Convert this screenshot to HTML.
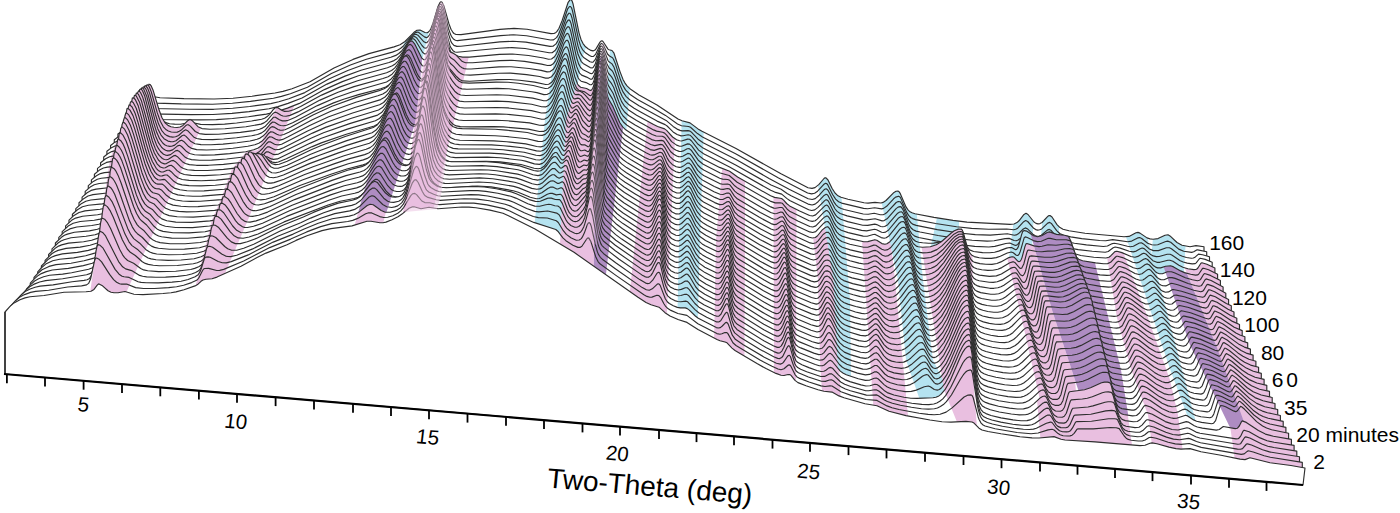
<!DOCTYPE html>
<html><head><meta charset="utf-8"><style>html,body{margin:0;padding:0;background:#fff;overflow:hidden}svg{display:block}text{font-family:"Liberation Sans",sans-serif}</style></head>
<body><svg width="1400" height="513" viewBox="0 0 1400 513">
<defs><path id="p37" d="M140,379.5L140,100 145,97.1 148,96.2 150,96 160,97.7 184,98.6 214,99 233,98.2 252,96.2 275,93 283,91.4 292,88.7 310,81.8 334,68 353,59.4 369,53.6 394,46.9 400,44.7 405,41.5 414,32.3 417,30.3 420,30 425,32.5 427,32.7 428,32.4 430,30.3 431,28.4 433,23.2 438,6.4 440,2.5 441,1.8 442,2.3 444,6.3 449,24 451,29.3 453,32.5 454,33.5 456,34.5 461,34.6 500,29.4 514,28.4 527,29.2 551,33.6 554,33.5 556,32.4 557,31.4 559,28.3 562,20.9 568,2.7 570,-0.2 571,-0.4 572,0.8 573,3.7 579,32.8 581,39.4 583,43.6 585,46.2 588,48.7 591,50.4 593,50.9 595,50 596,48.9 600,42.1 601,41.1 602,40.8 603,41.5 608,49.1 609,49.8 612,50.5 614,53.2 620,71.6 623,79.4 625,83.1 627,85.9 631,89.6 639,95 657,104.9 678,118.9 682,120.8 690,122.9 698,128.9 702,131.3 736,148.5 781,173.8 808,187.7 812,188.4 815,187.6 819,184.4 824,178.5 825,177.8 826,177.8 828,180 832,188.2 835,193 838,195.8 841,197.3 848,199.2 864,202.8 868,203.1 875,202.4 881,203 883,202.4 886,200.5 894,192.4 896,191.3 898,191.1 899,191.7 900,193.1 906,206.9 908,209.9 910,211.8 912,212.8 915,213.7 934,217.4 953,220.4 967,222.1 1010,224.4 1014,224 1017,222.6 1019,220.8 1024,214.4 1026,213.3 1028,214.5 1034,222 1036,223.4 1038,223.9 1040,223.6 1042,222.5 1048,216.2 1049,215.6 1050,215.5 1052,217 1057,224.6 1060,227.6 1063,229.3 1069,230.8 1085,233.3 1124,236.8 1129,236.4 1136,232.8 1138,232.4 1140,233.1 1147,237.9 1150,238.9 1153,239.2 1158,238.6 1165,235.2 1168,234.8 1170,235.9 1177,242.5 1182,245.2 1190,246.7 1196,245.6 1204,246.8L1204,470.5Z"/><clipPath id="c37"><use href="#p37"/></clipPath><path id="p36" d="M136.3,379.2L136.3,105.7 141.3,102.8 144.3,101.8 146.3,101.5 156.3,103.1 181.3,103.9 212.4,104.2 232.4,103.3 250.4,101.4 273.4,98.2 281.4,96.4 290.4,93.7 307.4,87.2 331.4,73.5 350.4,65 366.4,59.2 392.4,52.1 397.4,50.2 400.4,48.5 403.4,46 412.4,35 415.4,32.6 417.4,32.1 418.4,32.3 424.4,36.9 426.4,37.6 427.4,37.3 429.4,35.2 431.4,30.8 437.4,9.4 439.4,4.9 440.4,4.1 441.4,4.5 443.4,8.7 448.4,28.2 450.4,34.1 451.4,36.3 453.4,39 455.4,40.2 457.4,40.6 500.5,35.6 513.5,34.8 526.5,35.7 550.5,40 553.5,39.9 556.5,37.6 558.5,34.5 561.5,27 567.5,9.2 569.5,6.5 570.5,6.5 571.5,7.8 572.5,10.9 578.5,39.4 580.5,45.7 582.5,49.6 585.5,52.8 589.5,55.5 591.5,56.5 593.5,56.4 595.5,54.4 600.5,44.1 601.5,43.4 602.5,43.9 603.5,45.3 607.5,54 609.5,56 612.5,57.7 613.5,59.2 615.5,64.1 620.5,79.8 622.5,84.7 625.5,89.9 630.5,94.8 637.5,99.5 652.5,107.7 665.5,115.4 677.5,124 681.5,125.7 688.5,126.5 690.5,127.3 697.5,133.6 702.5,137 735.6,153.8 778.6,178 807.6,193 811.6,193.9 814.6,193.3 817.6,191.2 823.6,184.6 825.6,183.3 826.6,183.5 827.6,184.6 832.6,194.5 835.6,199.1 838.6,201.7 841.6,203.1 863.6,208.4 867.6,208.7 874.6,207.8 881.6,208.9 883.6,208.4 886.6,206.3 893.6,198.8 895.6,197.1 898.6,196.2 899.6,196.7 900.6,197.9 906.6,212.1 908.6,215.4 910.6,217.5 912.6,218.6 915.6,219.6 935.6,223.5 956.6,226.7 971.6,228.4 988.6,229.3 1006.7,229 1013.7,229.8 1015.7,229.3 1017.7,228.2 1023.7,221.7 1025.7,220.6 1027.7,221.5 1033.7,228.3 1035.7,229.6 1037.7,230.1 1039.7,229.8 1041.7,228.9 1047.7,223.1 1049.7,222.4 1051.7,223.8 1056.7,230.6 1059.7,233.5 1063.7,235.3 1070.7,236.9 1081.7,238.6 1099.7,240.5 1105.7,240.7 1112.7,239.6 1127.7,241.7 1131.7,241.1 1137.7,237.9 1139.7,237.6 1141.7,238.5 1147.7,243.2 1151.7,244.7 1154.7,245 1157.7,244.7 1165.7,241.5 1167.7,241.1 1170.7,242.3 1178.7,249.1 1183.7,251.3 1191.7,252.4 1193.7,251.8 1196.7,249.9 1197.7,249.9 1206.7,251.7L1206.7,470.8Z"/><clipPath id="c36"><use href="#p36"/></clipPath><path id="p35" d="M132.6,378.9L132.6,111.5 137.7,108.4 142.7,107.1 152.7,108.5 189.7,109.3 213.7,109.3 232.7,108.3 249.7,106.5 270.8,103.6 278.8,101.8 288.8,98.7 304.8,92.6 328.8,79 347.8,70.5 362.8,65 390.8,57.3 395.8,55.4 398.8,53.5 401.9,50.7 404.9,46.9 410.9,37.9 412.9,35.6 414.9,34.4 415.9,34.3 417.9,35.2 423.9,41.8 425.9,42.7 426.9,42.6 428.9,40.5 430.9,35.8 436.9,12.6 438.9,7.5 439.9,6.5 440.9,6.8 442.9,11.1 447.9,32.3 450.9,41.4 451.9,43.2 453.9,45.4 456.9,46.4 460.9,46.3 499.9,41.9 512.9,41.2 525.9,42.1 550,46.4 553,46.2 556,43.9 558,40.6 560,36 567,15.7 569,13.2 570,13.3 571,14.9 572,18 578,46.1 580,52.1 582,55.7 584,57.8 590,61.7 592,62.3 593,62.1 595,59.9 596,57.8 600,47.2 601,46.1 602,46.3 603,47.7 608,60.5 609,61.8 612,63.9 614,67.2 620,85.1 623,91.9 626,96.4 630,100 639,105.8 666.1,120.4 673.1,126.4 677.1,129.1 680.1,130.4 682.1,130.9 688.1,130.6 690.1,131.1 692.1,132.8 698.1,139.2 703.1,142.7 736.1,159.6 769.1,178.4 789.1,189.2 808.2,198.7 812.2,199.5 815.2,198.6 819.2,195.2 824.2,189.7 825.2,189 826.2,188.8 827.2,189.4 828.2,190.6 834.2,202.4 836.2,205.1 838.2,206.9 841.2,208.5 844.2,209.5 863.2,214 868.2,214.2 874.2,213.3 880.2,214.7 883.2,214.7 885.2,213.8 887.2,212.2 896.2,202.5 898.2,201.5 900.2,201.7 902.2,204.6 908.2,219.2 911.2,223.1 913.2,224.4 916.2,225.4 937.3,229.6 959.3,233 975.3,234.6 990.3,235.1 1007.3,233.7 1014.3,235.2 1016.3,234.9 1018.3,233.8 1023.3,229 1025.3,227.9 1027.3,228.7 1033.3,234.6 1035.3,235.8 1037.3,236.3 1039.3,236.1 1041.3,235.2 1047.3,230.1 1049.3,229.4 1051.3,230.6 1056.3,236.7 1060.3,239.9 1064.4,241.3 1074.4,243.2 1086.4,244.9 1103.4,246.5 1107.4,246 1112.4,243.6 1114.4,243.3 1118.4,244 1127.4,246.3 1130.4,246.7 1133.4,246.3 1139.4,243 1141.4,242.8 1143.4,243.9 1149.4,249 1153.4,250.6 1158.4,250.6 1166.4,247.8 1169.4,247.7 1171.4,248.7 1179.4,254.9 1182.4,256.3 1186.4,257.5 1191.4,258.2 1193.4,258 1195.4,256.9 1198.5,254.1 1202.5,254.7 1209.5,256.8L1209.5,471Z"/><clipPath id="c35"><use href="#p35"/></clipPath><path id="p34" d="M129,378.6L129,117.2 134,114.1 139,112.6 150,113.9 191,114.6 213,114.5 232,113.4 249,111.6 269,108.8 278,106.6 288,103.4 302,98 327,84.1 345,76.1 361,70.3 389,62.5 394,60.6 397,58.7 400,55.7 403,51.6 410,39.8 413,36.8 415,36.6 417,38.2 422,45.5 424,47.7 426,48.2 427,47.6 429,44.4 431,38.5 437,13.4 439,9.2 440,8.9 441,10 443,16.2 447,35.1 450,45.7 451,47.9 453,50.7 455,52 457,52.3 499,48.2 512,47.6 525.1,48.5 549.1,52.8 552.1,52.7 555.1,50.5 557.1,47.6 560.1,40.5 566.1,23.1 568.1,20.2 569.1,19.9 570.1,21 571.1,23.6 576.1,47 578.1,54.6 581.1,61.3 583.1,63.4 590.1,67.6 592.1,68 593.1,67.5 595.1,64.4 600.1,49.5 601.1,48.6 602.1,49.2 603.1,51.2 607.1,64.3 609.1,68 612.1,70.7 613.1,72.2 615.1,77 620.1,91.8 622.1,96.3 625.1,101 629.1,104.8 634.1,108.3 641.1,112.3 657.1,121.1 665.1,124.6 667.1,126 673.1,131.9 677.1,134.5 681.1,135.9 683.1,135.8 688.1,134.7 690.1,135.2 692.1,137.1 698.1,144.3 703.1,148.1 736.1,165.2 771.1,185 781.1,189.3 787.1,193.5 791.1,195.8 808.1,204.1 812.1,205 815.1,204.1 818.1,201.7 824.1,195.4 826.1,194.3 827.1,194.6 828.1,195.7 835.1,209 837.1,211.4 840.1,213.5 847.1,215.9 863.1,219.6 867.1,219.9 875.1,218.8 882.1,220.9 884.1,220.6 887.1,218.8 896.1,208.6 898.1,207.1 900.1,206.6 901.1,206.9 903.1,209.9 909.1,225.1 911.1,228 913.1,229.8 916.1,231.1 920.1,232 938.1,235.5 956.1,238.4 972.1,240.3 987.1,241.1 994.1,240.7 1005.1,238.6 1009.1,238.4 1014.1,240.5 1016.2,240.7 1018.2,240 1023.2,236.1 1025.2,235.2 1027.2,235.9 1032.2,240.4 1034.2,241.7 1036.2,242.4 1038.2,242.5 1041.2,241.6 1047.2,237.1 1049.2,236.5 1051.2,237.6 1056.2,242.9 1060.2,245.7 1065.2,247.3 1078.2,249.6 1092.2,251.3 1105.2,252.2 1108.2,251.5 1113.2,247.8 1115.2,247 1120.2,248.1 1129.2,251.3 1133.2,251.9 1136.2,251.1 1140.2,248.7 1142.2,248 1144.2,248.6 1150.2,254.2 1153.2,255.9 1156.2,256.6 1159.2,256.5 1167.2,254.2 1170.2,254.2 1172.2,255.2 1180.2,260.7 1183.2,262 1187.2,263.1 1192.2,263.9 1195.2,263.6 1196.2,262.9 1199.2,259 1200.2,258.3 1205.2,259.4 1212.2,262.2L1212.2,471.2Z"/><clipPath id="c34"><use href="#p34"/></clipPath><path id="p33" d="M125.3,378.3L125.3,122.9 131.3,119.2 133.3,118.5 136.3,118.1 145.3,119.2 153.3,119.5 199.3,119.9 216.3,119.6 232.4,118.5 248.4,116.7 266.4,114.1 275.4,112 287.4,108.1 299.4,103.4 324.4,89.6 342.4,81.6 358.4,75.8 387.4,67.7 392.4,65.8 395.5,63.7 398.5,60.6 401.5,56 408.5,42.6 410.5,40 412.5,38.7 413.5,38.8 415.5,40.5 422.5,52.3 424.5,53.9 425.5,53.9 426.5,53.3 428.5,49.9 430.5,43.6 436.5,16.5 438.5,11.7 439.5,11.2 440.5,12.2 441.5,14.7 447.5,42.6 450.5,51.4 451.5,52.9 453.5,54.6 458.5,56.2 462.5,57.1 469.5,57.1 499.5,54.4 512.5,54 528.5,55.5 543.5,58 548.5,59.2 551.5,59 554.5,56.8 556.5,53.7 559.5,46.7 565.5,29.6 567.5,26.9 568.6,26.7 569.6,27.9 570.6,30.7 576.6,57.8 578.6,63.9 580.6,67.5 582.6,69.4 589.6,73.1 591.6,73.7 592.6,73.3 594.6,70.1 595.6,67.2 599.6,52.8 600.6,51.3 601.6,51.5 603.6,56.5 607.6,71.4 608.6,73.5 611.6,76.9 613.6,80.2 618.6,94.4 621.6,101.6 624.6,106.2 628.6,109.9 636.6,115.2 653.6,124.6 657.6,126.5 664.6,128.9 666.6,130.4 672.6,137 676.6,139.7 679.6,140.8 681.6,141 687.6,139.1 689.6,139.3 691.6,141 698.6,150.1 703.6,153.8 729.6,166.9 770.7,190.3 774.7,192.1 781.7,194.1 786.7,198.4 789.7,200.5 808.7,209.8 811.7,210.5 814.7,209.9 817.7,207.6 824.7,200.6 825.7,199.9 826.7,199.8 827.7,200.4 828.7,201.7 833.7,211.9 835.7,215.1 837.7,217.3 840.7,219.3 847.7,221.6 862.7,225.2 867.7,225.4 874.7,224.1 876.7,224.6 880.7,226.5 882.7,226.8 884.7,226.5 887.7,224.7 897.7,213.2 899.7,212 901.7,211.9 902.7,212.9 903.7,214.7 909.7,230.3 911.7,233.6 914.7,236.1 918.7,237.5 935.8,240.9 956.8,244.3 974.8,246.4 988.8,247 994.8,246.4 1005.8,243.5 1009.8,243 1014.8,245.3 1015.8,245.4 1017.8,244.4 1021.8,238.9 1024.8,237.4 1026.8,237.9 1032.8,242.4 1036.8,243.8 1038.8,243.7 1040.8,243 1046.8,239 1048.8,238.4 1050.8,239.1 1055.8,243.1 1058.8,244.9 1067.8,247.7 1072.8,252.4 1074.8,253.7 1080.8,255.5 1093.8,257.2 1105.9,258 1108.9,257.2 1110.9,255.7 1114.9,251.6 1116.9,251.2 1121.9,252.6 1130.9,256.5 1134.9,257.2 1137.9,256.4 1141.9,253.9 1143.9,253.2 1145.9,254 1152.9,260.7 1156.9,262.3 1159.9,262.3 1167.9,260.3 1169.9,260.2 1172.9,261.3 1178.9,265.2 1182.9,267.2 1187.9,268.7 1193.9,269.6 1195.9,269.5 1196.9,269 1197.9,268 1200.9,263.3 1201.9,262.8 1206.9,264.2 1214.9,267.9L1214.9,471.5Z"/><clipPath id="c33"><use href="#p33"/></clipPath><path id="p32" d="M121.6,378L121.6,128.5 126.6,125.2 130.6,123.7 133.6,123.4 141.6,123.9 144.6,123 146.6,120.9 149.6,115.3 150.6,114 151.6,113.6 153.6,114.1 155.6,115.2 163.6,121.6 166.6,122.9 169.6,123.7 174.6,124.1 180.6,124.2 190.6,122.2 200.6,124.4 212.6,124.6 224.6,124.1 236.6,123 251.6,121 261.6,119.2 264.6,118.2 267.6,116.2 269.6,114.3 273.6,109.2 275.6,107.5 277.6,107.6 281.6,110.3 284.6,111.4 288.6,111.3 293.6,109.8 300.6,106.6 321.6,95.1 339.6,87.1 357.6,80.8 386.6,72.7 391.6,70.5 394.6,68.1 397.6,64.3 400.6,59 406.6,46.1 408.6,42.8 410.6,41.1 411.6,40.9 412.6,41.3 414.6,43.8 421.6,57.8 423.6,59.7 424.6,59.8 425.6,59.3 427.6,56.1 428.6,53.4 430.6,45.6 435.6,20.7 437.6,14.6 438.6,13.4 439.6,13.8 441.6,19.1 446.6,42.9 447.6,46.5 449.6,51 450.6,52.1 453.6,53.4 455.6,54.7 461.6,60.9 463.6,62 465.6,62.7 472.6,62.8 499.6,60.6 511.6,60.3 524.6,61.4 541.6,64.1 547.6,65.5 550.6,65.4 553.6,63.4 555.6,60.6 558.6,53.9 564.6,36.9 566.6,33.8 567.6,33.4 568.6,34.1 570.6,40 574.6,58.8 576.6,66.4 578.6,71.4 579.6,73.1 581.6,75.1 586.6,77.1 590.6,79.2 591.6,79.2 592.6,78.5 594.6,74.2 599.6,54.9 600.6,53.6 601.6,54.4 603.6,60.9 606.6,74.4 608.6,79.9 611.6,83.7 613.6,87.3 618.6,101.2 621.6,107.8 624.6,112 628.6,115.5 636.6,120.6 653.6,129.9 656.6,131.1 662.6,132.3 664.6,133.1 666.6,135.1 671.6,141.6 676.6,145.1 679.6,146.2 681.6,146.2 687.6,143.9 689.6,144.1 691.6,145.9 698.6,155.4 703.6,159.2 719.6,167.4 729.6,171.3 737.6,177 770.6,195.8 774.6,197.4 781.6,198.5 783.6,200.1 786.6,203.5 789.6,205.9 799.6,211 809.6,215.5 812.6,216 815.6,214.9 824.6,206.1 826.6,205.1 827.6,205.6 828.6,206.7 835.6,220.1 837.6,222.5 840.6,224.7 846.6,226.8 861.6,230.4 866.6,230.9 874.6,229.3 876.6,229.8 881.6,232.2 883.6,232.5 885.6,232.1 888.6,230 898.6,217.9 900.6,216.7 902.6,216.6 903.6,217.6 904.6,219.4 910.6,235.4 912.6,238.7 915.6,241.2 918.6,242.2 922.6,242.8 928.6,243.2 933.6,243.1 940.6,241.9 953.6,237.8 957.6,237.3 960.6,237.5 962.6,239.4 966.6,246.5 969.6,249.9 973.6,251.5 982.6,252.6 989.6,252.7 994.6,252.2 998.6,251.1 1006.6,248.1 1009.6,247.5 1011.6,247.6 1015.6,249.7 1016.6,249.4 1017.6,248.2 1018.6,245.9 1021.6,234.6 1022.6,231.7 1023.6,230.8 1024.6,230.6 1026.6,231.1 1033.6,235.7 1037.6,236.7 1041.6,235.8 1047.6,232.2 1049.6,231.9 1056.6,234.4 1064.6,235.3 1068.6,236.5 1070.6,240.5 1073.6,250.4 1075.6,255.4 1076.6,257.1 1078.6,259.2 1082.6,260.8 1095.6,262.9 1103.6,263.7 1107.6,263.6 1110.6,262.3 1115.6,257 1116.6,256.3 1117.6,256.2 1122.6,257.6 1132.6,262.3 1136.6,262.9 1138.6,262.4 1143.6,259.2 1145.6,258.6 1147.6,259.5 1153.6,265.8 1155.6,267.1 1157.6,267.9 1160.6,267.9 1165.6,266.3 1170.6,265.8 1173.6,266.9 1180.6,270.9 1184.6,272.6 1190.6,274.3 1195.6,275.1 1197.6,274.9 1198.6,274.3 1202.6,268.4 1203.6,268.2 1208.6,269.8 1217.6,274.2L1217.6,471.7Z"/><clipPath id="c32"><use href="#p32"/></clipPath><path id="p31" d="M117.9,377.7L117.9,134 121.9,131.1 125.9,129.1 129,128.4 138,127.8 140,126.8 141,125.7 143,120.7 144,115.9 147,92.9 148,86.7 149,84.2 150,84.5 151,85.6 153,89.9 159,109.8 162,117.7 165,122.7 168,125.4 171,126.7 174,127.3 177,127.5 180,127 183,125.4 188,120.4 190,119.4 192,120.4 198,126.7 202,128.6 210,129.3 225,128.8 246,126.7 261,124.1 264,122.9 267,120.7 273,113.5 275,112.1 277,112.7 281,115.3 283,116 286,116.2 290,115.4 298,111.9 320,100.1 338,92.2 354,86.6 383,78.5 388.1,76.7 392.1,74.2 396.1,69.5 399.1,64 406.1,48.4 408.1,45.5 409.1,44.7 410.1,44.4 411.1,44.8 412.1,45.8 414.1,49.2 420.1,62.7 422.1,65.4 423.1,66 424.1,66 425.1,65.4 426.1,64 428.1,59 430.1,50.8 435.1,24.2 437.1,17.4 438.1,15.9 439.1,16.1 440.1,18 441.1,21.4 446.1,46.7 447.1,50.7 449.1,55.8 451.1,58.1 454.1,59.9 460.1,66.4 462.1,67.8 464.1,68.6 467.1,69 471.1,69 499.1,66.9 511.1,66.7 529.1,68.5 541.1,70.4 547.1,71.9 550.1,71.6 553.1,69.6 555.1,66.7 558.1,60 564.1,43.3 566.1,40.5 567.1,40.2 568.1,41 569.1,43.4 575.1,69.5 578.1,77.7 579.1,79.3 581.1,81.2 586.1,82.6 590.1,84.7 591.1,84.8 592.1,84.2 593.1,82.7 594.1,80.1 599.1,58.3 600.1,56.3 601.1,56.5 602.1,58.8 603.1,62.9 606.1,78.2 608.1,85.1 613.1,93.2 618.1,106.4 621.1,113 623.1,116 627.1,119.9 635.1,125.1 652.2,134.5 656.2,136 662.2,136.3 664.2,137.1 665.2,138 671.2,146.7 673.2,148.4 676.2,150.3 679.2,151.4 681.2,151.5 683.2,150.9 687.2,148.8 689.2,148.6 691.2,150.2 698.2,160.2 703.2,164.3 720.2,173 729.2,175.5 737.2,182.2 770.2,201.1 775.2,202.9 780.2,202.7 782.2,203.2 787.2,209.2 790.2,211.6 809.2,220.8 812.2,221.4 815.2,220.7 817.2,219.1 824.2,211.9 826.2,210.6 827.2,210.6 829.2,212.6 834.2,222.9 836.2,226.1 838.2,228.3 841.2,230.3 848.2,232.6 863.2,236.1 867.2,236.2 873.2,234.5 875.2,234.4 881.2,237.6 884.2,238.2 886.2,237.8 889.2,235.7 899.3,223.2 901.3,221.7 903.3,221.5 904.3,222.2 905.3,223.9 910.3,237.7 913.3,243.5 916.3,246.1 918.3,246.8 922.3,247.3 930.3,246.8 936.3,244.8 941.3,241.7 951.3,233 954.3,230.8 958.3,229.1 961.3,229 962.3,230.1 963.3,232.5 967.3,247.1 968.3,249.9 970.3,253.7 972.3,255.6 974.3,256.6 979.3,257.7 985.3,258.4 991.3,258.4 996.3,257.6 1000.3,256.2 1007.3,253 1011.3,252 1013.3,252.7 1016.3,255.2 1017.3,255.5 1018.3,255.1 1019.3,253.8 1020.3,251.4 1024.3,237.4 1025.3,236.9 1027.3,237.5 1033.3,240.6 1037.3,241.6 1041.3,241.2 1048.3,238.3 1050.3,238.4 1056.3,239.7 1066.3,239.8 1070.3,240.9 1071.3,242.6 1076.3,258.8 1078.3,262.9 1080.3,265.1 1084.3,266.7 1096.3,268.7 1104.3,269.5 1108.3,269.5 1111.3,268.3 1113.3,266.4 1116.3,262.6 1118.3,261.3 1122.3,262.2 1133.3,267.7 1137.3,268.7 1140.3,268.1 1145.3,264.5 1147.3,263.9 1149.4,265 1155.4,271.7 1157.4,273 1159.4,273.8 1162.4,273.7 1167.4,271.8 1171.4,271.7 1174.4,272.7 1185.4,277.8 1192.4,279.8 1197.4,280.7 1199.4,280.3 1200.4,279.6 1203.4,274.7 1204.4,273.6 1205.4,273.7 1210.4,275.4 1220.4,280.5L1220.4,471.9Z"/><clipPath id="c31"><use href="#p31"/></clipPath><path id="p30" d="M114.3,377.3L114.3,139.7 118.3,136.8 122.3,134.7 125.3,134 132.3,133.7 135.3,133.2 137.3,132.2 139.3,129.8 141.3,122.8 142.3,116.3 145.3,90.6 146.3,85.5 147.3,84.8 148.3,85.5 149.3,87 151.3,91.9 157.3,112.9 160.3,121.3 163.3,126.8 166.3,129.8 168.3,131 171.3,132 174.3,132.3 177.3,132.1 179.3,131.3 181.3,130.1 186.3,125.2 187.3,124.7 188.3,124.7 190.3,126.1 195.3,131.5 199.3,133.6 205.3,134.4 218.3,134.3 240.4,132.4 253.4,130.6 259.4,129.3 262.4,128.1 265.4,126.2 273.4,117.3 275.4,117.2 279.4,119.8 282.4,120.9 285.4,120.9 288.4,120.3 295.4,117.3 317.4,105.6 335.4,97.7 352.5,91.8 386.5,82 390.5,79.6 394.5,75.1 397.5,69.7 404.5,54 406.5,50.9 408.5,49.7 409.5,49.9 411.5,52.2 419.5,69.8 421.5,72.1 422.5,72.6 423.5,72.4 425.5,70.2 427.5,64.8 429.5,56.1 435.5,23.4 436.5,20.2 437.5,18.6 438.5,18.5 439.5,20.3 440.5,23.7 445.5,50.5 446.5,54.8 448.5,60.7 450.5,63.5 453.5,66.1 458.5,71.8 460.5,73.4 463.5,74.7 470.5,75.1 498.6,73.2 510.6,73.1 526.6,74.6 539.6,76.5 545.6,78.1 548.6,78.1 551.6,76.7 554.6,72.9 557.6,66.2 563.6,49.8 565.6,47.1 566.6,46.9 567.6,47.9 568.6,50.5 574.6,76.2 577.6,84 578.6,85.5 580.6,87.2 586.6,88.5 589.6,90.2 590.6,90.4 591.6,89.9 592.6,88.5 593.6,86 598.6,62 599.6,59.2 600.6,58.7 601.6,60.6 602.6,64.6 606.6,86.4 608.6,92.6 612.6,99.1 618.7,114.1 620.7,118.2 623.7,122.3 626.7,125 634.7,130.3 651.7,139.6 655.7,140.8 661.7,140.4 663.7,141.1 670.7,151.8 673.7,154.3 676.7,156 678.7,156.6 680.7,156.8 682.7,156.2 687.7,153.4 689.7,153.7 691.7,155.9 697.7,165 700.7,168 703.7,170 719.7,178.2 722.7,179.1 727.7,179.5 729.7,180.3 734.7,185.8 737.7,188.1 770.8,206.9 773.8,208.1 775.8,208.3 779.8,207.5 781.8,207.5 782.8,208 786.8,213.8 789.8,216.8 797.8,221 809.8,226.5 812.8,227 815.8,225.9 822.8,218.6 824.8,216.9 826.8,215.9 827.8,216.2 829.8,218.7 833.8,227.1 836.8,232.1 838.8,234.2 841.8,236.1 850.8,238.9 863.8,241.7 867.8,241.6 874.8,239.7 876.8,240.3 881.9,243.6 884.9,244.2 886.9,243.8 889.9,241.7 892.9,238.4 899.9,229.2 901.9,227.6 903.9,227.2 904.9,227.7 905.9,229.1 910.9,242.8 913.9,248.8 915.9,251 917.9,252.1 922.9,252.9 926.9,252.8 930.9,252.1 936.9,249.6 941.9,245.9 953.9,234.2 957.9,231.9 960.9,231.5 961.9,231.7 962.9,233.3 967.9,252.7 968.9,255.6 970.9,259.5 972.9,261.5 974.9,262.4 979.9,263.6 985.9,264.3 991.9,264.4 996.9,263.5 1000.9,261.9 1008.9,257.6 1011.9,256.8 1012.9,256.8 1014,257.2 1018,261.3 1019,261.7 1020,261.3 1021,260 1022,257.6 1025,246.4 1026,243.9 1027,243.5 1034,245.9 1039,246.6 1042,246.3 1048,244.8 1056,245.2 1064,244.2 1068,244.2 1072,245.4 1073,247.3 1078,264.5 1080,268.7 1082,271 1086,272.6 1100,274.9 1107,275.4 1110,275.2 1113,273.5 1118,267.2 1119,266.5 1120,266.5 1125,268.1 1135,273.5 1139,274.5 1142,273.7 1147.1,269.9 1149.1,269.3 1151.1,270.6 1157.1,277.5 1159.1,278.9 1161.1,279.7 1164.1,279.7 1169.1,277.5 1172.1,277.6 1175.1,278.4 1188.1,283.5 1195.1,285.5 1199.1,286.2 1201.1,285.7 1202.1,284.8 1205.1,279.7 1206.1,278.9 1211.1,280.5 1223.1,286.9L1223.1,472.2Z"/><clipPath id="c30"><use href="#p30"/></clipPath><path id="p29" d="M110.6,377L110.6,145.5 114.6,142.4 118.6,140.3 122.6,139.4 131.6,138.9 134.6,137.9 136.6,136.2 138.6,131.2 139.6,126.1 143.6,90.9 144.6,86.1 145.6,85.7 147.6,88.1 149.6,93.2 155.6,115 158.6,124.1 161.6,130.3 164.6,134 166.6,135.4 169.6,136.6 172.6,137.1 175.6,136.8 178.6,135.5 183.6,130.9 185.6,129.8 187.6,130.7 193.6,136.9 196.6,138.5 201.6,139.4 212.6,139.6 223.6,139 236.6,137.8 251.6,135.8 257.6,134.5 261.6,132.9 264.6,130.8 270.6,123.7 272.6,122 274.6,122.2 278.6,124.7 280.6,125.5 283.6,125.8 286.6,125.2 292.6,122.7 315.6,110.7 333.6,102.9 343.6,99.3 358.6,94.6 380.7,88.8 385.7,87 389.7,84.4 393.7,79.5 396.7,73.8 402.7,60.1 404.7,56.7 406.7,55 407.7,54.9 408.7,55.5 410.7,58.4 416.7,72.7 418.7,76.4 420.7,78.7 421.7,79.1 422.7,79 424.7,76.8 425.7,74.6 427.7,67.7 434.7,28 436.7,21.6 437.7,20.8 438.7,21.8 439.7,24.8 444.7,52.6 447.7,64.7 449.7,68.5 456.7,76.8 459.7,79.5 462.7,80.9 469.7,81.3 497.7,79.6 509.7,79.5 519.7,80.2 534.7,82.1 545.7,84.5 548.7,84.2 551.7,82.3 553.7,79.7 556.7,73.3 562.7,57.1 564.7,54.1 565.7,53.6 566.7,54.2 567.7,56.2 573.7,80.9 574.7,84 576.7,88.2 578.7,90.2 584.7,91.9 589.7,95.5 590.7,95.6 591.7,94.9 592.7,93.1 593.7,89.9 598.7,63.6 599.7,61.3 600.7,61.5 601.7,64.2 602.7,69.1 605.7,87.8 607.7,96.6 608.7,99.2 612.7,106.1 619.7,122.5 622.7,126.9 625.7,129.8 633.7,135.1 650.7,144.5 654.7,145.6 660.7,144.4 662.7,144.8 664.7,147.3 669.7,156.3 672.7,159.2 675.7,161 678.7,162 680.7,162 682.7,161.3 687.7,158.2 688.7,158.1 689.7,158.5 691.7,160.9 697.7,170.4 700.7,173.4 703.7,175.5 719.7,183.6 722.7,184.3 727.7,184 729.7,184.7 734.7,191.1 737.7,193.6 760.7,207 770.7,212.5 774.7,213.7 776.7,213.5 780.7,212 782.7,212.4 787.7,220.2 789.7,222.2 796.7,226 809.7,231.9 812.7,232.5 815.7,231.6 823.8,223.2 825.8,221.8 827.8,221.5 829.8,223.6 834.8,234 836.8,237.3 838.8,239.5 841.8,241.5 849.8,244.2 863.8,247.3 867.8,247.2 873.8,245.1 875.8,245.2 881.8,249.2 884.8,250.2 887.8,249.6 890.8,247.5 900.8,234.9 902.8,233.4 904.8,232.9 905.8,233.5 906.8,234.9 911.8,248.6 914.8,254.6 916.8,256.7 918.8,257.8 923.8,258.4 930.8,257.5 936.8,254.8 942.8,249.8 951.8,239.6 954.8,236.7 958.8,234.3 961.8,234 962.8,234.9 963.8,237.6 968.8,259.2 969.8,262.1 971.8,265.7 973.8,267.5 976.8,268.7 981.8,269.7 987.8,270.4 992.8,270.3 997.8,269.3 1001.8,267.6 1009.8,262.8 1012.8,261.9 1013.8,261.9 1014.8,262.4 1019.8,268.2 1020.8,268.4 1021.8,267.9 1023.8,264 1026.8,252.6 1027.8,250.3 1028.8,250 1036.8,251.5 1041.8,251.7 1047.8,251.1 1054.8,251 1064.8,248.8 1069.8,248.6 1072.8,249.3 1073.8,250.1 1074.8,252.4 1078.8,267.4 1080.8,273 1082.8,276.1 1084.8,277.6 1086.8,278.3 1099.8,280.6 1107.8,281.3 1110.8,281.1 1113.8,279.5 1118.8,272.7 1119.8,271.8 1120.8,271.6 1125.8,273.2 1135.8,279 1139.8,280.3 1142.8,280 1144.8,278.8 1148.8,275.6 1150.8,275.2 1152.8,276.6 1158.8,283.6 1160.8,285 1162.8,285.8 1165.8,285.9 1170.8,283.4 1172.8,283.5 1177.8,284.8 1193.8,290.2 1200.8,291.8 1202.8,291.1 1203.8,290 1206.8,284.8 1207.8,284.4 1212.8,286.1 1225.8,293.2L1225.8,472.4Z"/><clipPath id="c29"><use href="#p29"/></clipPath><path id="p28" d="M106.9,376.7L106.9,151.2 110.9,148.1 114.9,146 118.9,145 125.9,144.8 129.9,144.1 132.9,143.1 134.9,141.3 136.9,136 137.9,130.7 141.9,92.7 142.9,87.3 143.9,86.8 145.9,89.1 147.9,94.1 154.9,119.9 157.9,128.9 161,135.1 164,138.7 168,141.1 171,141.8 173,141.7 176,140.7 182,135.7 184,135 186,136.4 191,141.6 195,143.7 201,144.6 211,144.7 223,144.1 237,142.7 250,141 257,139.3 260,138.1 263,136.1 266,133.1 270,128 272,126.6 274,127.1 278,129.5 280,130.1 282,130.3 285,129.7 291,127 313,115 332,106.2 357.1,97.1 379.1,90.6 384.1,88.8 388.1,86.2 392.1,81.3 395.1,75.6 402.1,59.7 404.1,56.9 405.1,56.1 406.1,55.9 407.1,56.4 409.1,59.1 415.1,73.5 418.1,79 420.1,80.8 421.1,81.1 422.1,80.8 424.1,78.3 425.1,76 427.1,68.8 434.1,26.9 436.1,19.7 437.1,18.6 438.1,19.5 439.1,22.3 445.1,56.8 446.1,61.2 448.1,67.3 450.1,70.7 456.1,78.6 459.1,81.3 462.1,82.6 469.1,83.1 496.1,82.1 508.2,82.3 518.2,83.3 533.2,85.5 545.2,88.5 548.2,88.2 551.2,86.3 553.2,83.7 556.2,77.4 562.2,61.7 564.2,58.9 565.2,58.6 566.2,59.3 567.2,61.5 572.2,81.7 574.2,87.6 575.2,89.3 577.2,90.9 580.2,91.3 582.2,92.4 585.2,95.1 589.2,99.7 590.2,100.1 591.2,99.7 592.2,98.1 593.2,95.1 598.2,66.8 599.2,63.5 600.2,62.9 601.2,65.2 602.2,70 606.2,96.3 608.2,104.1 613.2,113.7 619.2,127.5 622.2,131.9 625.2,134.8 634.2,140.8 650.2,149.6 654.2,150.4 660.2,148.4 662.2,148.8 664.2,151.6 667.2,158.1 669.2,161.4 672.2,164.4 676.2,166.7 679.2,167.4 681.3,167.1 683.3,166.1 687.3,163.1 689.3,163.1 691.3,165.1 696.3,173.6 698.3,176.4 700.3,178.4 703.3,180.6 714.3,186.5 720.3,189.1 723.3,189.4 727.3,188.5 729.3,188.9 730.3,189.8 734.3,195.9 737.3,198.8 760.3,212.4 771.3,218.3 773.3,219 775.3,219.2 777.3,218.7 780.3,217 782.3,216.7 783.3,217.4 784.3,219 787.3,224.7 790.3,228 797.3,231.8 809.3,237.2 812.3,238 815.3,237.5 817.3,236 822.3,229.9 825.3,227.5 827.3,226.7 828.3,227.1 830.3,229.7 834.3,238.3 837.3,243.3 839.3,245.4 842.3,247.3 850.3,249.9 863.4,252.9 867.4,252.8 873.4,250.6 875.4,250.4 877.4,251.3 882.4,255.2 885.4,256.2 888.4,255.6 891.4,253.6 894.4,250.3 901.4,241 903.4,239.3 905.4,238.7 906.4,239 908.4,242.3 912.4,253.6 915.4,259.9 918.4,262.9 920.4,263.6 923.4,264 927.4,263.7 930.4,263 933.4,261.9 936.4,260.2 942.4,254.9 952.4,242.4 955.4,239.3 959.4,236.8 962.4,236.6 963.4,238.2 964.4,241.5 968.4,261.2 970.4,268 971.4,270.1 973.4,272.6 975.4,273.8 979.4,275.1 989.4,276.4 996.4,275.9 1001.4,274 1010.4,268.4 1012.4,267.6 1014.4,267.3 1015.4,267.7 1016.4,268.8 1020.4,274.7 1022.4,275.8 1023.4,275.3 1024.4,273.8 1025.5,271.2 1028.5,259 1029.5,256.4 1031.5,255.9 1044.5,257.3 1051.5,257.2 1056.5,256.3 1066.5,253.3 1071.5,253 1074.5,253.7 1075.5,254.6 1077.5,260.7 1080.5,273.1 1082.5,278.8 1084.5,282 1086.5,283.5 1088.5,284.2 1100.5,286.4 1108.5,287.1 1111.5,287 1113.5,286.3 1115.5,284.5 1120.5,277.3 1121.5,276.8 1122.5,276.9 1126.5,278.2 1137.5,284.9 1141.5,286.3 1144.5,285.9 1150.5,281.5 1152.5,281.2 1154.5,282.7 1160.5,289.7 1162.5,291.1 1165.5,292.2 1168.5,291.9 1172.5,289.6 1173.5,289.5 1181.5,291.2 1197.5,296.2 1202.6,297.3 1204.6,296.4 1208.6,289.9 1209.6,289.8 1214.6,291.7 1223.6,297 1228.6,299.5L1228.6,472.6Z"/><clipPath id="c28"><use href="#p28"/></clipPath><path id="p27" d="M103.7,376.4L103.7,157 107.7,153.8 111.7,151.6 115.7,150.6 123.7,150.2 128.7,149.3 131.7,148 133.7,145.6 135.7,138.7 136.7,131.9 139.7,100 140.7,91.3 141.7,87.8 142.7,88 143.7,89.1 146.7,96.2 153.7,122.9 156.7,132.3 159.7,138.9 162.7,143 164.7,144.7 166.7,145.7 169.7,146.4 171.7,146.3 174.7,145.1 179.7,140.9 181.7,140.2 183.7,141.4 188.7,146.6 191.7,148.4 196.7,149.6 206.7,150 218.8,149.5 232.8,148.3 247.8,146.3 254.8,144.7 258.8,143.2 261.8,141.3 264.8,138.3 268.8,133.2 270.8,131.7 272.8,132 276.8,134.3 278.8,135 280.8,135.2 283.8,134.5 288.8,132.3 311.8,120 330.8,111.3 355.8,102.3 377.8,95.8 382.8,94 386.8,91.4 390.8,86.4 393.8,80.7 399.8,66.7 401.8,63.2 403.9,61.3 404.9,61.2 405.9,61.7 407.9,64.6 413.9,79.4 416.9,85 418.9,87 420.9,87.3 422.9,85.4 423.9,83.4 425.9,77 427.9,67.1 433.9,28.8 434.9,24.9 435.9,22.6 436.9,22.1 437.9,23.7 438.9,27.3 443.9,58.2 446.9,71.2 448.9,75.6 452.9,81.7 455.9,85.4 458.9,87.8 461.9,88.9 466.9,89.3 496.9,88.4 508.9,88.7 531.9,91.7 536.9,92.6 543.9,94.6 546.9,94.5 549.9,93.1 552.9,89.3 554.9,85.3 561.9,67.6 563.9,65.4 564.9,65.4 565.9,66.6 566.9,69.2 571.9,88.6 573.9,93.1 574.9,94.2 575.9,94.6 578.9,94.4 580.9,95.4 588,103.9 590,105.5 591,105 592,103.4 593,100.4 598,70.7 599,67.2 600,66.5 601,68.8 602,73.7 606,101.4 608,109.9 613,119.8 619,132.9 622,137.2 625,140 635,146.5 646,152.8 650,154.7 652,155.1 654,154.9 660,152.2 662,152.9 663,154.3 667,163.4 669,166.7 672,169.6 676,171.8 679,172.6 681,172.3 683,171.2 687,168 689,167.6 691,169.6 698,181.3 700,183.5 703,185.8 714,191.7 720,194.3 723,194.5 727,193 729,193.1 730,193.9 734,200.8 737,204 759,217.1 771,223.6 774.1,224.6 776.1,224.4 781.1,221.3 782.1,221.1 783.1,221.5 784.1,222.8 788.1,230.8 790.1,233.1 796.1,236.6 810.1,242.9 813.1,243.5 816.1,242.7 818.1,240.8 823.1,234.5 826.1,232.4 828.1,232.2 830.1,234.2 835.1,244.7 837.1,248.1 839.1,250.5 842.1,252.6 851.1,255.6 864.1,258.5 868.1,258.1 873.1,256 875.1,255.6 877.1,256.4 883.1,261.2 886.1,262.1 889.1,261.5 892.1,259.5 895.1,256.2 902.1,246.8 905.1,244.6 907.1,244.6 909.1,247.7 914.1,261.5 916.1,265.4 919.1,268.4 921.1,269.2 924.1,269.5 928.1,269 931.1,268.2 934.1,266.9 937.1,264.9 943.1,258.8 955.1,242.8 959.2,239.7 962.2,239 963.2,239.5 964.2,242 969.2,267.6 971.2,274.2 972.2,276.2 974.2,278.6 976.2,279.7 979.2,280.7 989.2,282.3 993.2,282.4 997.2,281.8 1002.2,279.9 1012.2,273.4 1015.2,272.7 1016.2,273 1017.2,274 1022.2,281.7 1023.2,282.4 1024.2,282.5 1025.2,281.8 1026.2,280 1027.2,277.1 1030.2,264.2 1031.2,261.5 1032.2,261 1034.2,261.1 1046.2,262.5 1052.2,262.5 1057.2,261.4 1068.2,257.7 1073.2,257.4 1076.2,258.2 1077.2,259.3 1078.2,262.1 1082.2,278.9 1084.2,284.7 1086.2,287.9 1088.2,289.4 1090.2,290.2 1103.2,292.4 1110.2,293 1113.2,292.6 1116.2,290.6 1121.2,282.9 1122.2,282 1123.2,282 1127.2,283.3 1138.2,290.3 1141.2,291.7 1143.2,292.2 1146.3,291.8 1152.3,287.5 1154.3,287.3 1156.3,288.9 1162.3,295.8 1164.3,297.2 1167.3,298.2 1170.3,298 1174.3,295.3 1176.3,295.1 1184.3,296.7 1200.3,302 1204.3,302.7 1206.3,301.6 1209.3,296.2 1210.3,295.1 1215.3,296.8 1226.3,303.4 1231.3,305.8L1231.3,472.9Z"/><clipPath id="c27"><use href="#p27"/></clipPath><path id="p26" d="M100.6,376.2L100.6,162.7 105.6,158.8 109.6,156.8 112.6,156.1 120.6,155.7 125.6,154.9 129.6,153.5 131.6,151.4 133.6,145.6 134.6,139.6 138.6,96.4 139.6,89.8 140.6,88.9 141.6,89.5 142.6,91 144.6,95.7 152.6,126.3 155.6,136 158.6,142.9 161.6,147.3 163.6,149.1 165.6,150.3 167.6,150.9 169.6,150.9 172.6,149.9 177.6,145.9 179.6,145.3 181.6,146.5 186.6,151.6 189.6,153.5 194.6,154.7 202.6,155.1 214.7,154.9 229.7,153.6 245.7,151.7 253.7,149.8 257.7,148.2 260.7,146.3 263.7,143.4 267.7,138.3 269.7,136.7 271.7,137 275.7,139.3 277.7,139.9 279.7,140.1 282.7,139.4 287.7,137.1 309.7,125.5 328.7,116.8 354.7,107.5 380.7,99.6 384.7,97.3 388.7,93 391.7,87.6 398.7,71.5 400.7,68.1 402.7,66.5 403.7,66.5 404.7,67.3 406.7,70.5 412.7,85.5 414.7,89.5 417.7,93.2 419.7,93.6 421.7,92.1 422.7,90.3 424.7,84.5 427.7,69.1 432.7,35.3 434.7,27.2 435.7,25.8 436.7,26.4 438.7,33.8 443.7,66.1 445.7,75.2 447.7,80.6 450.7,85.8 454.7,91.2 457.7,93.8 460.7,95 465.7,95.5 496.8,94.8 508.8,95.2 532.8,98.1 543.8,100.8 546.8,100.6 549.8,98.8 552.8,94.7 560.8,75.2 562.8,72.3 563.8,71.9 564.8,72.4 565.8,74.2 570.8,92.6 572.8,97.5 573.8,98.6 574.8,98.9 577.8,98.1 579.8,98.8 587.8,109.3 589.8,110.8 590.8,110.3 591.8,108.6 592.8,105.3 597.8,74.6 598.8,71 599.8,70.5 600.8,73 601.8,78.2 605.8,107.1 607.8,115.9 617.8,136.6 620.8,141.3 623.8,144.4 632.8,150.5 644.8,157.4 648.8,159.3 650.8,159.8 652.8,159.7 654.8,158.8 658.8,156.2 660.8,156.2 661.8,157.2 662.8,159.1 665.8,166.7 667.8,170.7 669.8,173.2 672.8,175.5 676.8,177.4 679.8,177.7 682.8,176.2 686.8,172.7 688.8,172.2 690.8,174.1 697.8,186.3 700.8,189.5 703.8,191.6 714.8,197.4 719.8,199.5 722.8,199.5 726.8,197.4 728.8,197.3 729.8,198.1 730.8,199.7 733.8,205.7 736.8,209.2 758.9,222.4 770.9,229 773.9,230 775.9,229.8 777.9,228.7 780.9,226.1 781.9,225.6 782.9,225.7 783.9,226.7 787.9,235.4 790.9,239.1 797.9,242.9 809.9,248.2 812.9,249 815.9,248.4 817.9,246.7 822.9,240 825.9,237.8 827.9,237.4 828.9,237.8 830.9,240.6 836.9,252.9 838.9,255.5 841.9,257.9 849.9,260.8 858.9,263.1 863.9,264 867.9,263.6 873.9,261 875.9,261 877.9,262.3 882.9,266.7 884.9,267.7 886.9,268 889.9,267.3 892.9,265.3 895.9,262 901.9,253.8 903.9,251.6 905.9,250.3 907.9,250.3 909.9,253.2 914.9,267 916.9,270.9 919.9,274 921.9,274.7 924.9,274.9 928.9,274.3 931.9,273.3 934.9,271.8 937.9,269.5 943.9,262.6 952.9,249 955.9,245.2 957.9,243.3 959.9,242 962.9,241.6 963.9,242.9 964.9,246.4 968.9,269.5 969.9,274.2 971.9,280.5 972.9,282.3 974.9,284.5 976.9,285.6 979.9,286.6 989.9,288.3 993.9,288.3 997.9,287.8 1000.9,286.8 1003.9,285.2 1012.9,278.9 1015.9,278 1016.9,278.2 1017.9,279.1 1022.9,287.4 1024.9,288.9 1026,288.7 1027,287.8 1028,285.8 1032,269 1033,266.4 1034,266 1037,266.1 1048,267.5 1053,267.5 1058,266.5 1070,262.1 1075,261.8 1078,262.6 1079,264 1084,284.8 1086,290.7 1088,293.9 1090,295.3 1092,296.1 1105,298.3 1111,298.8 1114,298.6 1117,296.7 1122,288.5 1123,287.4 1124,287.1 1126,287.5 1129,288.8 1140,296.3 1144,298 1146,298.2 1148,297.6 1154,293.4 1156,293.4 1158,295.1 1164,301.9 1166,303.2 1169,304.2 1172,304 1176,300.8 1177,300.3 1178,300.3 1186,302 1202,307.4 1206,308.1 1208,306.7 1211,301.1 1212,300.4 1217,302.3 1228,309.2 1234,312L1234,473.1Z"/><clipPath id="c26"><use href="#p26"/></clipPath><path id="p25" d="M97.5,375.9L97.5,168.4 102.5,164.4 106.5,162.4 110.5,161.6 118.5,161.1 123.5,160.2 127.5,158.8 129.5,156.9 131.5,151.4 132.5,145.8 136.5,101.1 137.5,92.9 138.5,90.9 139.5,91.3 140.5,92.5 142.5,96.7 144.5,103 153.5,137 156.5,144.9 158.5,148.7 160.5,151.5 163.5,154.2 165.5,155.1 167.5,155.4 170.5,154.6 175.5,150.9 177.5,150.4 179.5,151.6 184.5,156.7 187.5,158.5 191.5,159.6 199.5,160.2 211.6,160.1 226.6,159 243.6,157 251.6,155.1 256.6,153.2 259.6,151.4 262.6,148.5 266.6,143.5 268.6,141.8 270.6,141.9 274.6,144.2 276.6,144.8 278.6,144.9 281.6,144.2 307.6,131 326.6,122.3 352.6,113 379.6,104.8 383.6,102.5 387.6,98 390.6,92.5 397.6,76.3 399.6,73.1 401.6,71.7 402.6,71.9 404.6,74.3 411.6,91.6 414.6,97.2 416.6,99.3 417.6,99.8 419.6,99.6 421.6,97.2 422.6,94.9 424.6,88 426.6,77.3 432.6,36.6 433.6,32.4 434.6,30 435.6,29.5 436.6,31.3 437.6,35.2 442.6,68.3 445.6,82.5 447.6,87.6 450.6,92.9 453.6,97 456.6,99.8 459.6,101.1 464.6,101.7 496.6,101.1 508.6,101.6 531.6,104.3 541.6,106.7 545.6,106.9 548.6,105.5 551.6,101.9 553.6,98 560.6,80.9 562.6,78.6 563.6,78.6 564.6,79.6 565.6,82 569.6,96.7 571.6,101.9 572.6,103.1 573.6,103.5 576.6,102 577.6,101.8 578.6,102.3 584.6,111.1 587.6,114.8 589.6,116.1 590.6,115.6 591.6,113.7 592.6,110.3 597.6,78.4 598.6,74.9 599.6,74.4 600.6,77.2 601.6,82.8 605.6,112.8 607.6,121.9 608.6,124.7 617.6,142.2 620.6,146.6 623.6,149.6 633.6,156.2 644.6,162.6 648.6,164.4 650.6,164.9 652.6,164.6 654.6,163.4 658.6,160.2 659.6,159.8 660.6,160 661.6,161 662.6,163 665.6,171.3 667.6,175.6 669.6,178.3 672.6,180.6 676.6,182.5 679.6,182.8 682.6,181.3 686.6,177.5 688.6,176.8 690.6,178.6 697.6,191.3 700.6,194.6 703.6,196.8 714.7,202.6 719.7,204.6 722.7,204.5 726.7,201.9 728.7,201.5 729.7,202.2 730.7,203.9 734.7,212.2 737.7,215.2 760.7,228.9 771.7,234.8 773.7,235.4 775.7,235.3 777.7,234.3 781.7,230.4 782.7,230.1 783.7,230.6 787.7,239.8 788.7,241.7 790.7,244.2 796.7,247.7 810.7,253.9 813.7,254.5 816.7,253.5 818.7,251.5 823.7,244.8 825.7,243.6 827.7,243.1 828.7,243.3 829.7,244.2 830.7,245.7 835.7,256.1 837.7,259.4 839.7,261.7 842.7,263.8 850.7,266.5 863.7,269.5 867.7,269.2 873.7,266.4 875.7,266.2 877.7,267.4 883.7,272.8 885.7,273.7 887.7,273.9 890.7,273.2 893.7,271.1 896.7,267.9 904.7,257.5 906.7,256.1 908.7,256 909.7,256.9 910.7,258.8 915.7,272.5 917.7,276.5 920.7,279.6 922.7,280.3 925.7,280.5 929.7,279.8 932.7,278.6 935.7,276.8 938.7,274.2 943.7,268.2 955.7,249.6 959.7,245.8 962.7,244.9 963.7,245.2 964.7,247.5 969.7,276.4 971.7,284.3 972.7,286.8 974.7,289.7 976.7,291.1 980.7,292.6 990.7,294.2 994.7,294.3 998.7,293.8 1003.7,291.7 1012.7,285 1014.7,283.9 1016.7,283.4 1017.7,283.4 1018.7,284.3 1023.7,293.1 1025.7,295 1026.7,295.2 1027.7,294.9 1028.7,293.7 1029.7,291.5 1033.7,273.8 1034.7,271.3 1038.7,271.1 1049.7,272.4 1054.7,272.4 1059.7,271.2 1071.7,266.5 1076.7,266.1 1079.7,267 1080.7,268.8 1086.7,294.2 1087.7,296.7 1089.7,299.8 1092.7,301.7 1097.7,302.9 1104.7,304 1111.7,304.7 1114.7,304.5 1116.7,303.6 1118.7,301.5 1123.7,292.9 1124.7,292.2 1125.7,292.3 1129.7,293.8 1140.7,301.7 1145.7,304 1148.7,303.9 1150.7,303 1155.7,299.4 1157.7,299.5 1165.7,307.9 1167.7,309.2 1170.7,310.2 1173.7,310 1175.7,308.6 1178.7,305.7 1179.7,305.5 1188.7,307.5 1203.8,312.9 1206.8,313.6 1208.8,312.9 1209.8,311.7 1212.8,306.1 1213.8,305.8 1217.8,307.4 1229.8,315 1236.8,318.3L1236.8,473.3Z"/><clipPath id="c25"><use href="#p25"/></clipPath><path id="p24" d="M94.4,375.6L94.4,174.2 99.4,170.1 103.4,168 107.4,167.1 118.4,166.1 124.4,164.6 126.4,163.4 128.4,160.4 130.4,151.7 131.4,143.4 134.4,105.9 135.4,96.4 136.4,93 137.4,93.3 138.4,94.3 141.4,100.7 152.4,141 155.4,148.9 157.4,152.8 159.4,155.7 162.4,158.5 164.4,159.5 166.4,159.7 168.4,159.2 173.4,155.9 175.4,155.4 177.4,156.7 182.4,161.7 185.4,163.5 189.4,164.6 196.4,165.3 208.4,165.3 223.5,164.4 240.5,162.5 249.5,160.4 254.5,158.7 258.5,156.4 261.5,153.6 265.5,148.6 267.5,146.9 269.5,146.9 273.5,149.1 275.5,149.7 279.5,149.4 283.5,147.7 312.5,133.1 325.5,127.4 351.5,118.2 378.5,110 382.5,107.6 386.5,102.9 389.5,97.3 396.5,81.1 398.5,78.1 400.5,77 401.5,77.4 403.5,80.1 409.5,95.4 412.5,101.7 415.5,105.4 417.5,106.2 418.5,105.9 420.5,103.9 421.5,102 423.5,95.6 426.5,79.1 431.5,43.2 433.5,34.7 434.5,33.2 435.5,33.9 437.5,41.9 442.5,76.5 445.5,89.7 447.5,94.6 450.5,100 453.5,103.9 456.5,106.4 459.5,107.5 464.5,108 496.5,107.5 507.5,107.9 531.5,110.6 541.5,113 545.5,112.9 548.5,111.2 551.5,107.3 553.5,103.3 559.5,88.5 561.5,85.6 562.5,85.1 563.5,85.5 564.5,87.1 569.5,103.9 571.5,107.7 572.5,108.1 573.5,107.8 576.5,105.6 577.5,105.7 579.5,108.3 583.5,115.5 587.5,120.2 588.5,121.1 589.5,121.4 590.5,120.8 591.5,118.8 592.5,115.2 597.5,82.2 598.5,78.7 599.5,78.4 600.5,81.5 601.5,87.3 605.5,118.6 607.5,128 609.5,132.8 617.5,147.8 619.5,150.7 622.5,153.9 631.5,160.1 644.5,167.7 648.5,169.6 650.5,170 652.5,169.5 654.5,168.2 658.5,164.3 659.5,163.8 660.5,163.8 661.5,164.7 662.5,166.8 665.5,175.8 667.5,180.5 669.5,183.3 672.5,185.8 676.5,187.7 679.5,187.9 682.5,186.4 687.5,181.6 688.5,181.4 689.5,181.9 691.5,184.8 697.5,196.3 700.5,199.7 703.5,202 714.5,207.8 719.5,209.8 722.5,209.5 726.5,206.4 728.5,205.7 729.5,206.4 730.5,208.1 734.5,217.1 737.5,220.4 760.5,234.3 771.5,240.1 774.5,241 776.5,240.5 778.5,238.9 781.5,235.4 782.5,234.7 783.5,234.7 784.5,235.9 788.5,246.2 789.5,247.9 791.5,250.2 797.5,253.5 810.5,259.2 813.5,260 816.5,259.3 818.5,257.6 823.5,250.6 826.5,249 828.5,249 830.5,250.8 837.5,264.4 839.5,266.9 842.5,269.1 850.5,272 863.5,275 867.5,274.7 873.5,271.7 875.5,271.4 877.5,272.5 883.5,278.2 885.5,279.3 887.5,279.8 889.5,279.7 891.5,279 894.5,277 897.5,273.8 905.5,263.3 907.5,261.9 909.5,261.7 910.5,262.6 911.5,264.3 916.5,278 918.5,282 921.5,285.2 923.5,285.9 926.5,286 929.5,285.5 932.5,284.3 935.5,282.6 938.5,280 941.5,276.6 944.5,272.4 953.5,257.3 956.5,252.9 958.5,250.7 960.5,249.2 963.5,248.5 964.5,249.3 965.5,252.6 970.5,283.3 972.5,290.8 973.5,293.1 975.5,295.8 977.5,297.1 981.5,298.5 991.5,300.2 995.5,300.3 999.5,299.8 1002.5,298.7 1005.5,297 1014.5,289.9 1016.5,288.9 1018.5,288.7 1019.5,289.4 1020.5,290.9 1023.5,297 1025.5,300 1027.5,301.4 1028.5,301.5 1029.5,301 1030.5,299.6 1031.5,297.1 1035.5,278.6 1036.5,276.2 1041.5,276.1 1051.5,277.4 1056.5,277.2 1061.5,276 1073.5,270.9 1076.5,270.4 1078.5,270.5 1081.5,271.5 1082.5,273.7 1087.5,296.8 1089.5,302.7 1091.5,305.8 1094.5,307.6 1099.5,308.9 1107.5,310.1 1113.5,310.5 1116.5,310.1 1118.5,308.8 1119.5,307.6 1124.5,298.5 1125.5,297.5 1126.5,297.4 1128.5,297.9 1131.5,299.5 1142.5,307.7 1145.5,309.3 1147.5,310 1149.5,310 1151.5,309.4 1157.5,305.3 1159.5,305.6 1166.5,313.1 1168.5,314.6 1171.5,315.9 1173.5,316.3 1175.5,316 1177.5,314.6 1180.5,311.2 1181.5,310.7 1190.5,312.7 1205.5,318.3 1208.5,319 1210.5,318 1214.5,311.1 1215.5,311.2 1220.5,313.5 1232.5,321.4 1239.5,324.5L1239.5,473.6Z"/><clipPath id="c24"><use href="#p24"/></clipPath><path id="p23" d="M91.4,375.4L91.4,179.9 96.4,175.8 100.4,173.6 104.4,172.6 113.4,171.9 120.4,170.6 124.4,168.6 126.4,165.8 128.4,157.4 129.4,149.3 132.4,110.6 133.4,99.9 134.4,95.3 135.4,95.4 136.4,96.2 139.4,101.9 142.4,111.7 148.4,135 151.4,145.1 154.4,153 158.4,160 161.4,162.8 164.4,163.9 166.4,163.6 171.4,160.8 173.4,160.4 175.4,161.7 180.4,166.7 183.4,168.5 187.4,169.7 194.4,170.4 207.5,170.5 223.5,169.4 239.5,167.6 248.5,165.4 253.5,163.6 257.5,161.3 260.5,158.5 264.5,153.5 266.5,151.8 268.5,151.9 272.5,154.1 274.5,154.6 278.5,154.1 311.5,138 323.5,132.8 349.6,123.6 377.6,115.1 381.6,112.6 385.6,107.5 388.6,101.6 394.6,87.4 396.6,84 398.6,82.4 399.6,82.4 400.6,83.1 402.6,86.4 408.6,102.2 411.6,108.3 414.6,111.7 416.6,112.4 417.6,112.1 419.6,110.2 420.6,108.3 422.6,102 423.6,97.5 425.6,85.6 430.6,48.4 432.6,39 433.6,37.1 434.6,37.3 435.6,40 436.6,44.7 441.6,80.4 444.6,94.9 446.6,100.3 449.6,106.1 452.6,110.1 455.6,112.5 459.6,113.9 464.6,114.3 495.7,113.9 506.7,114.3 530.7,116.8 541.7,119.3 544.7,119.1 547.7,117.5 550.7,113.8 552.7,109.8 558.7,95.3 560.7,92.3 561.7,91.8 562.7,91.9 563.7,93.4 567.7,106.4 569.7,111.5 570.7,112.7 571.7,112.9 575.7,109.3 576.7,109.4 578.7,112.3 582.7,120.7 587.7,126 588.7,126.6 589.7,126.5 590.7,125.2 591.7,122.4 592.7,117.8 596.7,89.1 597.7,84.1 598.7,82 599.7,83.5 600.7,88.2 604.7,120.5 605.7,127 607.7,135.4 608.7,137.9 616.8,152.4 619.8,156.6 622.8,159.5 627.8,163.1 637.8,169.1 645.8,173.7 648.8,174.9 650.8,175 652.8,174.2 658.8,168 659.8,167.6 660.8,167.9 661.8,169.3 665.8,181.6 667.8,186.2 669.8,188.9 672.8,191.3 676.8,193 679.8,193 682.8,190.9 686.8,186.6 687.8,186.1 688.8,186.2 690.8,188.5 695.8,198.8 697.8,202 699.8,204.4 702.8,206.8 714.8,213.3 719.8,215.1 721.8,214.8 722.8,214.3 726.8,210.5 727.8,210 728.8,210.1 729.8,211.3 733.8,221.3 736.8,225.3 759.9,239.4 771.9,245.8 774.9,246.4 776.9,245.8 778.9,243.9 781.9,239.9 782.9,239.2 783.9,239.3 784.9,240.8 788.9,251.8 790.9,254.9 792.9,256.5 795.9,258.1 810.9,264.7 813.9,265.5 816.9,264.7 818.9,262.8 823.9,255.8 825.9,254.7 827.9,254.5 829.9,255.7 830.9,257 835.9,267.1 837.9,270.3 839.9,272.7 842.9,274.8 851.9,277.9 863.9,280.6 867.9,280.1 873.9,276.8 875.9,276.8 877.9,278.1 884,284.1 886,285.2 889,285.7 892,285 895,283.1 898,280 906,269.4 908,267.8 910,267.3 911,267.8 912,269.3 917,282.8 920,288.6 923,291.1 927,291.6 930,290.9 933,289.7 936,287.8 939,285.1 942,281.5 945,277 954,261.1 957,256.5 959,254.2 961,252.7 964,252 965,253.1 966,256.9 970,283.6 971,289.1 973,296.7 974,299 976,301.6 978,302.9 982,304.4 987,305.5 993,306.2 997,306.2 1001,305.5 1006,303.1 1016,294.9 1019.1,294 1020.1,294.4 1021.1,295.7 1026.1,305.4 1028.1,307.3 1030.1,307.7 1031.1,307.1 1032.1,305.8 1033.1,303.3 1037.1,284.1 1038.1,281.3 1041.1,280.9 1053.1,282.3 1058.1,282.1 1063.1,280.8 1075.1,275.4 1078.1,274.8 1080.1,274.8 1083.1,275.9 1084.1,278.2 1089.1,302.3 1091.1,308.5 1093.1,311.6 1096.1,313.5 1101.1,314.8 1108.1,315.8 1114.1,316.4 1117.1,316 1119.1,314.9 1120.1,313.9 1122.1,310.6 1125.1,304.4 1126.1,303 1127.1,302.5 1129.1,302.9 1132.1,304.4 1143.1,313 1148.1,315.7 1150.1,316.1 1152.1,315.8 1154.2,314.8 1158.2,311.8 1160.2,311.2 1161.2,311.6 1168.2,319.1 1170.2,320.6 1173.2,321.8 1176.2,322.2 1178.2,321.6 1182.2,316.9 1183.2,316.1 1184.2,316.1 1192.2,317.9 1207.2,323.7 1210.2,324.3 1212.2,323.1 1215.2,317.4 1216.2,316.3 1221.2,318.4 1234.2,327.2 1242.2,330.6L1242.2,473.8Z"/><clipPath id="c23"><use href="#p23"/></clipPath><path id="p22" d="M88.3,375.1L88.3,185.6 93.3,181.4 97.3,179.2 101.3,178.2 112.3,177.1 118.3,175.9 122.3,174 124.3,171.3 126.3,163.5 127.3,155.8 131.3,104.5 132.3,98.1 133.3,97.7 135.3,99.5 138.3,106.1 150.3,149.1 153.3,157 157.3,164.1 160.3,167 163.3,168 165.3,167.7 169.3,165.6 171.3,165.3 173.3,166.7 177.3,170.9 180.3,173 184.3,174.5 191.3,175.4 204.4,175.6 220.4,174.7 236.4,173 246.4,170.7 252.4,168.6 256.4,166.3 259.4,163.6 263.4,158.6 265.4,156.9 267.4,156.9 271.4,158.9 273.4,159.4 277.4,158.9 310.4,143.1 321.4,138.3 347.4,129.1 375.4,120.8 379.5,118.5 383.5,114.1 386.5,108.6 393.5,92.3 395.5,89 397.5,87.6 398.5,87.8 400.5,90.2 407.5,108.4 410.5,114.4 413.5,117.8 415.5,118.6 416.5,118.4 418.5,116.8 419.5,115.2 421.5,109.6 422.5,105.4 424.5,94.1 430.5,49.3 432.5,41.5 433.5,40.6 434.5,42.2 436.5,51.9 440.5,82.2 443.5,98.8 445.5,105.2 448.5,111.6 451.5,115.9 454.5,118.6 458.5,120 463.5,120.5 496.5,120.3 507.5,120.8 529.5,122.9 539.5,125.2 543.5,125.4 546.5,124.1 549.5,120.8 552.5,115.1 558.6,101.1 560.6,98.7 561.6,98.4 562.6,99.1 563.6,101 567.6,113.8 569.6,117.5 570.6,117.9 571.6,117.3 574.6,113.6 575.6,113.3 576.6,114 577.6,115.8 580.6,123.3 582.6,126.8 587.6,131.3 588.6,131.9 589.6,131.8 590.6,130.4 591.6,127.3 592.6,122.5 596.6,92.9 597.6,87.8 598.6,85.9 599.6,87.6 600.6,92.6 604.6,126.1 605.6,132.8 607.6,141.5 609.6,145.9 616.6,158 618.6,160.8 621.6,163.9 626.6,167.6 635.6,173.1 644.6,178.4 648.6,180.1 650.6,180.1 652.6,179.2 658.6,172.1 659.6,171.5 660.6,171.7 661.6,173 662.6,175.8 665.6,186.1 667.6,191.1 669.6,194 672.6,196.4 676.6,198.2 679.6,198.1 682.6,196.1 686.6,191.5 687.6,190.9 688.6,190.9 690.6,193.1 695.6,203.7 697.6,207 700.6,210.5 703.6,212.7 715.6,219 719.6,220.3 721.6,219.9 722.6,219.3 726.6,215 727.6,214.3 728.7,214.3 729.7,215.5 733.7,226.1 734.7,228 736.7,230.5 740.7,233.3 759.7,244.7 772.7,251.5 774.7,251.9 776.7,251.4 778.7,249.6 781.7,245.1 782.7,244 783.7,243.6 784.7,244.4 785.7,246.8 789.7,258.2 791.7,260.9 796.7,263.9 810.7,270.1 813.7,270.9 816.7,270.5 819.7,267.6 823.7,261.5 825.7,260.3 827.7,260.1 829.7,261 830.7,262.2 835.7,272 838.7,276.7 840.7,278.7 843.7,280.6 852.7,283.6 863.7,286.1 867.7,285.6 873.7,282.2 875.7,281.9 877.7,283.2 883.7,289.5 885.7,290.8 888.7,291.6 892.7,290.8 895.7,288.9 898.7,285.9 906.8,275.2 908.8,273.6 910.8,273.1 911.8,273.5 912.8,274.9 917.8,288.3 920.8,294.2 923.8,296.7 925.8,297.1 927.8,297.1 930.8,296.3 933.8,295 936.8,292.8 939.8,289.9 944.8,282.8 953.8,266.2 957.8,259.8 959.8,257.5 961.8,256 963.8,255.5 964.8,255.6 965.8,257.9 966.8,262.7 970.8,290.8 972.8,300.2 973.8,303.2 975.8,306.7 978.8,308.9 982.8,310.3 987.8,311.5 993.8,312.2 997.8,312.2 1001.8,311.5 1006.8,309.1 1015.8,301.2 1017.8,299.9 1019.8,299.3 1020.8,299.5 1021.8,300.6 1025.8,309.1 1027.8,312.2 1029.8,313.7 1031.8,313.8 1032.8,313.1 1033.8,311.6 1034.8,308.8 1038.8,288.8 1039.8,286.2 1043.8,286 1054.8,287.3 1059.8,287 1064.8,285.5 1076.8,279.7 1079.9,279.1 1081.9,279.2 1083.9,279.8 1084.9,280.5 1085.9,283.2 1089.9,303.9 1090.9,308.4 1092.9,314.5 1094.9,317.6 1097.9,319.4 1103.9,320.9 1111.9,322 1115.9,322.2 1118.9,321.6 1120.9,320 1121.9,318.7 1126.9,308.7 1127.9,307.9 1128.9,307.9 1132.9,309.6 1144.9,319.1 1149.9,321.7 1151.9,322.1 1153.9,321.7 1155.9,320.7 1159.9,317.7 1161.9,317.3 1163.9,318.6 1169.9,325.2 1171.9,326.6 1174.9,327.8 1177.9,328.2 1179.9,327.6 1181.9,325.6 1184.9,321.6 1185.9,321.3 1194.9,323.4 1210.9,329.7 1212.9,329.2 1213.9,328.1 1216.9,322.2 1217.9,321.6 1222.9,324 1235.9,333 1239.9,335 1244.9,336.8L1244.9,474Z"/><clipPath id="c22"><use href="#p22"/></clipPath><path id="p21" d="M85.2,374.9L85.2,191.4 90.2,187.1 94.2,184.8 99.2,183.5 110.2,182.5 116.2,181.3 120.2,179.4 122.2,177 123.2,174.5 124.2,170.2 125.2,163.2 129.2,111.3 130.2,102.8 131.2,101.3 133.2,102.6 136.2,108.3 139.2,117.5 146.2,143.6 149.2,153.4 152.2,161.2 156.2,168.3 158.2,170.4 161.2,172 163.2,172 167.2,170.3 169.2,170.2 171.2,171.7 175.2,175.8 178.2,178 182.2,179.5 189.2,180.4 201.2,180.8 216.3,180.1 233.3,178.4 242.3,176.5 248.3,174.4 252.3,172.2 254.3,170.1 259.3,162.4 262.3,158.9 264.3,157.5 266.3,158 270.3,161.1 272.3,162.1 275.3,162.6 278.3,162 286.3,158.8 312.3,146.6 321.3,142.9 346.3,134.3 374.3,126 378.3,123.7 382.3,119.1 385.3,113.5 392.3,97.1 394.3,94 396.3,92.9 397.3,93.2 399.3,96 406.3,114.5 409.3,120.5 411.3,123 413.3,124.4 415.3,124.7 416.3,124.3 418.3,122 419.3,119.9 422.3,108.4 424.3,95.7 429.3,56.3 431.3,46.5 432.3,44.5 433.3,44.8 434.3,47.7 435.3,52.8 440.3,90.8 443.3,106.5 445.3,112.6 447.4,117 450.4,121.7 453.4,124.5 456.4,125.9 460.4,126.6 470.4,126.9 493.4,126.6 503.4,126.9 528.4,129.1 539.4,131.5 543.4,131.4 546.4,129.9 549.4,126.4 552.4,120.6 557.4,109 559.4,106.1 560.4,105.5 561.4,105.6 562.4,106.8 563.4,109.1 566.4,118.4 568.4,122.6 569.4,123.3 570.4,123 573.4,119.2 574.4,118.5 575.4,118.9 576.4,120.5 579.4,128.3 581.4,132.3 582.4,133.4 585.4,134.9 588.4,137.2 589.4,137 590.4,135.4 591.4,132.3 593.4,120.4 596.4,96.6 597.4,91.6 598.4,89.8 599.4,91.7 600.4,97 604.4,131.7 605.4,138.6 607.4,147.5 609.4,152 615.4,162 618.4,166.2 621.4,169.1 626.4,172.7 637.4,179.4 645.4,184.1 648.4,185.2 650.4,185.2 652.4,184.2 654.4,182 658.4,176.2 659.4,175.5 660.4,175.5 661.4,176.7 662.4,179.5 665.4,190.6 667.4,196 669.4,199.1 672.4,201.6 676.4,203.4 679.4,203.4 682.4,201.5 686.4,197 687.4,196.4 688.4,196.3 690.4,198.4 695.5,208.8 697.5,212.2 700.5,215.6 703.5,217.9 715.5,224.2 719.5,225.5 721.5,225 722.5,224.4 726.5,219.5 727.5,218.6 728.5,218.5 729.5,219.5 734.5,233 737.5,236.6 760.5,250.6 772.5,256.9 775.5,257.4 777.5,256.4 779.5,253.9 782.5,249.1 783.5,248.2 784.5,248.3 785.5,250.1 789.5,262.5 791.5,265.9 793.5,267.6 796.5,269.2 810.5,275.4 814.5,276.4 817.5,275.6 819.5,273.6 824.5,266.2 825.5,265.7 827.5,265.5 829.5,266.4 830.5,267.4 836.5,278.7 838.5,281.7 840.5,283.9 843.5,286 847.5,287.6 854.5,289.6 860.5,291.1 864.5,291.6 868.5,290.8 873.5,287.6 875.5,287.1 877.5,288.2 882.5,293.9 884.5,295.6 886.5,296.8 889.5,297.4 893.5,296.7 896.5,294.8 899.5,291.7 907.5,281.1 909.5,279.4 911.5,278.8 912.5,279.2 913.5,280.5 918.5,293.8 921.5,299.7 922.5,300.9 924.5,302.2 927.5,302.7 930.5,302.1 933.5,300.8 936.5,298.7 939.6,295.8 942.6,291.8 945.6,287 954.6,269.5 957.6,264.4 959.6,261.8 961.6,259.9 964.6,259 965.6,259.6 966.6,263.1 971.6,298 973.6,306.9 974.6,309.6 976.6,312.8 978.6,314.3 982.6,316 988.6,317.4 994.6,318.2 998.6,318.3 1002.6,317.8 1007.6,315.5 1010.6,313.1 1017.6,306.4 1019.6,305.2 1021.6,304.7 1022.6,305 1023.6,306.4 1027.6,315.4 1029.6,318.4 1031.6,319.8 1033.6,319.8 1034.6,319 1035.6,317.3 1036.6,314.4 1040.6,293.6 1041.6,291.1 1045.6,290.9 1056.6,292.2 1061.6,291.8 1066.6,290.2 1077.6,284.5 1080.6,283.6 1082.6,283.5 1085.6,284.2 1086.6,285.1 1087.6,288.3 1091.6,310 1093.6,318 1095.6,322.4 1097.6,324.4 1099.6,325.4 1105.6,326.8 1112.6,327.8 1116.6,328.1 1119.6,327.6 1121.6,326.3 1122.6,325.1 1127.6,315.2 1128.6,314 1129.6,313.9 1131.6,314.4 1134.6,316 1144.6,324.1 1149.6,327.2 1152.6,328.1 1154.6,328 1156.6,327.2 1161.6,323.6 1163.6,323.4 1165.6,324.7 1169.6,329.4 1172.6,332 1175.6,333.4 1178.6,334.1 1180.6,334.1 1182.6,333 1186.7,327.1 1187.7,326.5 1195.7,328.3 1210.7,334.5 1213.7,334.9 1214.7,334.3 1215.7,333 1218.7,327.1 1219.7,326.9 1224.7,329.6 1237.7,338.8 1242.7,341.3 1247.7,342.9L1247.7,474.3Z"/><clipPath id="c21"><use href="#p21"/></clipPath><path id="p20" d="M82.1,374.6L82.1,197.1 87.1,192.8 91.1,190.4 96.1,189.1 108.1,187.8 113.1,186.9 117.1,185.4 119.1,183.9 120.1,182.6 122.1,176.6 123.1,170.4 125.1,148.1 127.1,118.6 128.1,108.2 129.1,104.8 130.1,105.1 132.1,107 135.1,113.3 138.1,122.6 145.1,148 148.1,157.6 152.1,167.4 155.1,172.4 157.1,174.5 160.1,176 162.1,175.9 165.1,175 167.1,175 169.1,176.6 174.1,181.6 178.1,183.9 182.1,184.9 189.1,185.6 201.2,185.9 215.2,185.2 231.2,183.5 239.2,181.7 246.2,179 249.2,176.8 251.2,173.7 252.2,171.1 256.2,158.8 258.2,156.7 261.2,154.6 263.2,154.4 264.2,155 269.2,161.1 272.2,163.7 275.2,164.6 279.2,164.2 287.2,161.2 311.2,149.7 321.2,145.5 345.2,136.5 373.2,127.5 377.2,125 381.2,120.1 384.2,114.3 391.2,97.8 393.2,94.8 394.2,94.1 395.2,93.9 396.2,94.4 398.2,97.5 405.2,116.2 408.2,122.1 410.2,124.5 412.2,125.9 414.2,126.3 415.2,126 417.2,124.1 418.2,122.3 420.2,116.2 421.2,111.8 423.2,99.7 429.2,52.4 431.2,44.3 432.2,43.4 433.2,45.1 435.2,55.5 439.2,87.8 442.2,105.7 444.2,112.8 447.2,119.8 450.2,124.2 453.2,126.7 457.2,128.1 462.2,128.6 495.2,129.3 506.2,130.1 527.2,132.5 538.2,135.2 542.2,135.4 545.2,134.4 548.2,131.5 551.2,126.3 557.2,113.3 559.2,111 560.2,110.8 561.2,111.3 562.2,113 566.2,124.3 567.2,126.2 568.2,127.2 569.2,127.2 573.2,122.7 574.2,122.7 575.2,124 576.2,126.2 580.2,136.7 582.2,138.7 585.2,139.5 588.2,141.6 589.2,141.3 590.2,139.7 591.2,136.4 593.2,124 596.2,99.8 597.2,94.7 598.2,93.1 599.2,95.3 600.2,100.9 604.2,137 605.2,144 607.2,153.2 609.2,157.8 614.3,165.9 617.3,170.2 620.3,173.3 625.3,177.1 636.3,184 644.3,188.7 648.3,190.4 650.3,190.4 652.3,189.2 654.3,186.8 658.3,180.3 659.3,179.4 660.3,179.3 661.3,180.4 662.3,183.2 665.3,194.9 667.3,200.8 669.3,204.2 672.3,206.8 676.3,208.7 679.3,208.7 682.3,206.9 686.3,202.5 687.3,201.8 688.3,201.7 689.3,202.4 690.3,203.7 696.3,215.8 700.3,220.8 703.3,223.1 707.3,225.4 715.3,229.4 718.3,230.5 720.3,230.6 722.3,229.4 726.3,224 727.3,223 728.3,222.7 729.3,223.6 730.3,226.1 734.3,238 736.3,240.9 738.3,242.6 763.3,257.6 771.3,261.9 774.3,262.9 776.3,262.7 778.3,261.2 782.3,254.4 783.3,253.1 784.3,252.6 785.3,253.6 786.3,256.3 789.3,266.6 790.3,269 792.3,272 797.3,275 811.3,281.1 814.3,281.9 817.3,281.4 819.3,279.7 824.3,271.9 825.3,271.1 827.3,270.9 829.3,271.7 830.3,272.7 838.3,286.8 840.3,289.1 843.3,291.3 847.3,293 853.3,294.8 860.3,296.6 864.3,297.2 868.3,296.4 874.3,292.5 876.3,292.5 878.3,294.2 884.3,301 887.3,302.7 890.3,303.3 894.3,302.5 897.3,300.6 901.3,296.3 908.3,286.9 910.3,285.2 912.3,284.5 913.3,284.8 915.3,288.1 919.3,299.2 922.3,305.3 923.3,306.4 925.3,307.8 928.3,308.2 931.3,307.4 934.3,306 937.3,303.7 940.3,300.5 945.3,292.9 955.3,272.8 958.3,267.6 960.3,265 962.3,263.3 964.3,262.5 965.3,262.5 966.3,264.1 967.3,268.7 971.3,299.1 972.3,305.2 974.3,313.6 975.3,316 977.3,318.9 979.3,320.3 983.3,321.9 989.3,323.4 995.3,324.2 1000.3,324.4 1004.3,323.7 1007.3,322.4 1010.3,320.4 1019.3,311.7 1021.3,310.4 1023.4,310 1024.4,310.6 1025.4,312.3 1028.4,319.5 1030.4,323.3 1031.4,324.6 1033.4,325.9 1035.4,325.8 1036.4,324.9 1037.4,323 1038.4,319.8 1042.4,298.3 1043.4,296 1047.4,295.9 1058.4,297.1 1063.4,296.7 1068.4,294.9 1079.4,288.9 1082.4,288 1084.4,287.9 1087.4,288.6 1088.4,289.9 1090.4,298.6 1093.4,316 1095.4,324.1 1097.4,328.4 1099.4,330.4 1101.4,331.3 1106.4,332.5 1113.4,333.6 1117.4,333.9 1120.4,333.6 1122.4,332.5 1123.4,331.4 1125.4,328.1 1128.4,321.8 1129.4,320.3 1130.4,319.8 1132.4,320.3 1135.4,321.8 1146.4,330.5 1151.4,333.5 1154.4,334.2 1156.4,334 1158.4,333.2 1163.4,329.6 1165.4,329.4 1167.4,330.9 1173.4,337.3 1176.4,339 1180.4,340.1 1182.4,340.1 1184.4,339.1 1188.4,332.9 1189.4,331.9 1190.4,331.8 1198.4,333.9 1212.4,339.9 1214.4,340.4 1215.4,340.2 1216.4,339.4 1220.4,332.1 1221.4,332.2 1226.4,335.1 1239.4,344.6 1244.4,347.1 1250.4,349.1L1250.4,474.5Z"/><clipPath id="c20"><use href="#p20"/></clipPath><path id="p19" d="M79,374.3L79,202.8 84,198.4 88,196 93,194.6 107,193 112,192 115,190.8 117,189.4 119,186.2 121,177.4 122,168.7 126,114.3 127,108.6 128,108.5 130,110.1 133,115.6 136,124.2 143,149.1 147,161.8 151,171.5 154,176.5 156,178.6 158,179.7 160,180 164,179.4 165,179.7 171,185.7 175,188.4 180,189.8 187,190.7 195,191 204.1,190.9 224.1,189.3 234.1,187.6 239.1,186 243.1,184.2 246.1,182 248.1,178.7 250.1,171.8 253.1,157.4 254.1,154.8 256.1,153.6 259.1,153.4 262.1,155.2 268.1,163.9 271.1,167 274.1,168.3 278.1,168.2 287.1,165.2 310.1,154.5 320.1,150.5 346.1,140.9 372.1,132.7 376.1,130.1 380.1,125.1 383.1,119.1 389.1,104.6 391.1,101 393.1,99.2 394.1,99.2 395.1,99.9 397.1,103.3 404.1,122.3 407.1,128.1 409.1,130.6 411.1,132 413.1,132.4 414.1,132.2 416.1,130.7 417.1,129.1 419.1,123.8 420.1,119.7 423.1,101.1 428.1,59.6 430.1,49.3 431.1,47.2 432.1,47.7 433.1,50.8 434.1,56.2 439.1,96.7 442.1,113.6 444.1,120.4 446.1,125.2 449.1,130 452.1,132.7 456.1,134.3 462.1,134.9 495.1,135.7 506.1,136.5 527.1,138.8 538.1,141.4 542.1,141.5 545.1,140.3 548.1,137.1 551.1,131.8 556.1,121.2 558.1,118.4 559.1,117.8 560.1,117.9 561.1,118.9 562.1,121 565.1,129.2 567.1,132.5 568.1,132.8 569.1,132.1 572.1,128.1 573.1,127.8 574.1,128.7 575.1,130.7 578.1,139.6 580.1,143.7 581.1,144.6 582.1,144.9 585.1,144.9 588.1,146.8 589.1,146.5 590.1,144.8 591.1,141.2 593.1,128.4 596.1,103.5 597.1,98.5 598.1,97 599.1,99.4 600.1,105.4 604.1,142.6 605.1,149.9 607.1,159.3 609.1,164 613.1,170.2 617.1,175.6 620.1,178.6 625.1,182.3 638.1,190.3 645.1,194.4 648.1,195.6 650.1,195.5 652.1,194.2 654.1,191.6 658.1,184.4 659.1,183.4 660.1,183.1 661.1,184.1 662.1,186.9 665.1,199.3 667.1,205.6 669.1,209.2 672.1,212 676.1,213.9 679.1,214 682.1,212.3 686.1,208 687.1,207.3 688.1,207.2 689.1,207.7 690.1,209 696.1,220.9 700.1,226 703.1,228.3 707.1,230.6 715.1,234.6 718.1,235.7 720.1,235.7 722.1,234.5 726.1,228.6 727.1,227.4 728.1,226.9 729.1,227.7 730.1,230.2 734.1,242.9 735.1,244.7 737.1,247 760.1,261.2 772.1,267.7 775.1,268.5 777.1,267.9 779.1,265.7 783.1,258.2 784.1,257.2 785.1,257.4 786.1,259.5 790.1,273.3 792.1,276.9 794.1,278.7 797.1,280.3 811.1,286.4 815.1,287.4 817.1,287.1 818.1,286.6 820.1,284.4 824.1,277.7 825.1,276.6 827.1,276.1 829.1,277 831.1,279.1 836.1,288.5 839.1,293.1 841.1,295.2 844.1,297.1 854.1,300.5 864.1,302.7 868.1,301.9 874.1,297.9 876.1,297.6 878.1,299.2 882.1,304.2 885.1,307.1 888.1,308.7 891.1,309.1 895.1,308.3 898.1,306.5 902.1,302.2 909.1,292.7 912.1,290.4 914.1,290.5 916.1,293.6 920.1,304.7 923.1,310.8 924.1,312 926.1,313.3 929.1,313.6 932.1,312.8 935.1,311.2 938.1,308.7 941.1,305.2 946.1,297 958.1,272.4 960.1,269.4 962.1,267.3 965.1,266 966.1,266.3 967.1,269.1 972.1,306.5 974.1,316.9 975.1,320.1 977.1,323.9 980.1,326.3 984.1,327.8 990.1,329.3 997.1,330.3 1002.1,330.4 1006.1,329.6 1009.1,328.2 1012.1,326 1021.1,316.9 1023.1,315.7 1025.1,315.4 1026.1,316.3 1027.1,318.3 1030.1,325.8 1032.1,329.6 1034.1,331.6 1036.1,332.1 1037.1,331.8 1038.1,330.7 1040.1,325.3 1044.1,303 1045.1,300.9 1049.1,300.8 1060.1,302 1065.1,301.5 1070.1,299.6 1081.1,293.3 1084.1,292.3 1086.1,292.2 1089.1,293 1090.1,294.7 1091.1,298.7 1095.1,322.2 1097.1,330.2 1099.1,334.4 1101.1,336.3 1103.1,337.3 1109.1,338.7 1116.1,339.6 1120.1,339.7 1122.1,339.2 1124.1,337.7 1125.1,336.4 1130.1,326.7 1131.1,325.9 1132.1,325.9 1134.1,326.5 1137.1,328.2 1148.1,336.9 1153.1,339.7 1156.1,340.3 1158.1,340.1 1160.1,339.1 1165.1,335.6 1167.1,335.5 1169.1,337.1 1175.1,343.3 1178.1,345 1182.1,346 1184.1,346.1 1186.1,345.2 1188.1,342.5 1190.1,338.7 1191.1,337.4 1192.1,337.1 1200.1,339.1 1214.1,345.3 1216.1,345.7 1217.1,345.3 1218.1,344.3 1221.1,338.1 1222.1,337.2 1227.1,340 1236.1,347.1 1241.1,350.5 1247.1,353.4 1253.1,355.1L1253.1,474.7Z"/><clipPath id="c19"><use href="#p19"/></clipPath><path id="p18" d="M75.8,374.1L75.8,208.6 80.8,204.1 85.8,201.2 90.8,200 103.8,198.6 108.8,197.7 113.8,195.8 115.8,194.2 116.8,192.9 118.8,186.7 119.8,180.3 121.8,157.5 123.8,127.3 124.8,116.5 125.8,113 126.8,113.1 128.8,114.9 131.8,120.5 134.8,129.1 144.8,163.2 148.8,173.7 151.8,179.3 153.8,181.9 155.8,183.5 157.8,184.1 161.8,184.1 162.8,184.4 164.8,186.1 168.8,190.5 172.8,193.3 177.8,194.9 184.8,195.8 192.8,196.2 201.8,196.1 222.8,194.4 227.8,193.7 232.8,192.5 236.8,191.1 240.8,189.1 243.8,186.2 245.8,181.3 249.8,159.3 250.8,154.9 251.8,153.4 252.8,153.1 254.8,153.6 257.8,156.1 260.8,159.8 265.8,167.6 268.8,171 271.8,172.7 275.8,173 279.8,172 285.8,169.8 308.8,159.4 318.8,155.5 346.8,145.4 370.8,137.9 374.8,135.4 378.8,130.4 381.8,124.4 387.8,110.2 389.8,106.7 391.8,105.1 392.8,105.2 393.8,105.9 395.8,109.4 401.8,125.8 403.8,130.4 405.8,133.9 407.8,136.3 409.8,137.7 411.8,138.2 413.8,137.7 415.8,135.6 416.8,133.7 418.8,127.5 419.8,122.8 421.8,110.3 427.8,61.3 429.8,52.8 430.8,51.9 431.8,53.6 433.8,64.3 437.8,97.9 440.8,116.8 442.8,124.4 444.8,129.6 447.8,134.8 450.8,137.8 454.8,139.5 459.8,140.2 493.8,140.9 506.8,141.8 525.8,143.9 536.8,146.5 540.8,146.9 543.8,146 546.8,143.4 549.8,138.8 555.8,126.7 557.8,124.5 558.8,124.1 559.8,124.5 560.8,125.8 563.8,133.3 565.8,137.1 566.8,137.7 567.8,137.4 570.8,133.3 571.8,132.6 572.8,132.9 574.8,137.2 577.8,146.5 579.8,150.1 580.8,150.7 581.8,150.7 584.8,150 587.8,151.7 588.8,151.4 589.8,149.6 590.8,145.9 592.8,132.8 595.8,107.8 596.8,103 597.8,101.7 598.8,104.4 599.8,110.6 603.8,148.5 604.8,155.8 606.8,165.1 607.8,167.8 609.8,171.4 614.8,178.5 618.8,182.9 623.8,186.8 634.8,193.7 643.8,199.1 647.8,200.8 649.8,200.7 651.8,199.4 653.8,196.7 657.8,188.8 658.8,187.5 659.8,187 660.8,187.7 661.8,190.4 664.8,203.3 666.8,210.2 668.8,214.2 671.8,217.1 675.8,219.1 678.8,219.4 681.8,217.8 686.8,212.9 687.8,212.6 688.8,213.1 690.8,215.8 695.8,226 699.8,231.2 705.8,235.3 713.8,239.4 717.8,241 719.8,241 721.8,239.8 726.8,231.9 727.8,231.2 728.8,231.7 729.8,234.1 733.8,247.7 735.8,251.2 737.8,253.1 763.8,268.9 771.8,273.1 774.8,274 776.8,273.7 778.8,271.9 782.8,264.1 783.8,262.6 784.8,262.1 785.8,263.1 786.8,266.1 789.8,277.3 790.8,279.9 792.8,283 794.8,284.6 797.8,286.2 810.8,291.8 814.8,292.9 817.8,292.4 820.8,289.2 824.8,282.3 825.8,281.5 826.8,281.3 828.8,282.2 830.8,284.2 837.8,296.8 840.8,300.4 843.8,302.5 847.8,304.1 855.8,306.5 861.8,307.9 864.8,308.2 867.8,307.5 873.8,303.3 875.8,302.8 877.8,304.1 882.8,310.5 884.8,312.5 887.8,314.3 890.8,315 894.8,314.6 898.8,312.5 902.8,308.4 910.8,298 912.8,296.7 914.8,296.5 915.8,297.4 916.8,299.2 921.8,312.5 923.8,316.2 924.8,317.4 926.8,318.8 929.8,319.1 932.8,318.2 935.8,316.4 940.8,311.3 943.8,306.9 946.8,301.4 955.8,281.8 958.8,276.1 960.8,273.2 962.8,271.2 964.8,270.3 965.8,270.3 966.8,271.3 967.8,275.5 972.8,314.4 974.8,323.9 975.8,326.8 977.8,330.1 980.8,332.3 984.8,333.8 990.8,335.3 997.9,336.4 1002.9,336.5 1006.9,335.9 1009.9,334.7 1012.9,332.7 1021.9,323.5 1023.9,321.9 1025.9,321.2 1026.9,321.3 1027.9,322.5 1031.9,332.3 1033.9,335.9 1034.9,337 1036.9,338.2 1038.9,337.9 1039.9,336.9 1040.9,334.9 1041.9,331.6 1045.9,309.3 1046.9,306.9 1050.9,306.8 1060.9,307.8 1065.9,307.5 1071.9,305.2 1082.9,298.8 1085.9,297.9 1087.9,297.8 1090.9,298.7 1091.9,300.7 1097.9,333.1 1098.9,336.5 1100.9,340.5 1103.9,342.9 1108.9,344.2 1115.9,345.4 1119.9,345.7 1122.9,345.3 1124.9,344 1125.9,342.8 1130.9,333.2 1131.9,332.1 1132.9,331.9 1134.9,332.4 1137.9,334 1148.9,342.6 1153.9,345.5 1156.9,346.3 1159.9,346.1 1161.9,345.1 1165.9,342.1 1167.9,341.4 1169.9,342.3 1176.9,349.4 1179.9,351 1183.9,352 1186.9,351.9 1188.9,350.5 1192.9,343.2 1193.9,342.3 1201.9,344.3 1214.9,350.2 1217.9,350.9 1218.9,350.4 1219.9,349.2 1222.9,343 1223.9,342.6 1227.9,344.9 1237.9,352.9 1242.9,356.3 1248.9,359.2 1255.9,361.2L1255.9,475Z"/><clipPath id="c18"><use href="#p18"/></clipPath><path id="p17" d="M72.4,373.8L72.4,214.3 77.4,209.8 82.4,206.8 88.4,205.3 102.4,203.9 107.4,202.9 112.4,200.9 114.4,199.3 115.4,197.8 117.4,191.4 118.4,184.8 120.4,161.3 122.4,131 123.4,120.7 124.4,117.6 125.4,117.8 127.4,119.6 130.4,125.3 133.4,133.9 143.4,167.9 147.4,178.4 150.4,184 152.4,186.5 154.4,188.1 156.4,188.7 159.4,188.9 161.4,189.9 166.4,195.3 170.4,198.3 175.4,200 182.4,201 190.4,201.4 200.4,201.3 221.4,199.6 230.4,197.6 235.4,195.6 238.4,193.9 240.4,191.9 242.4,187.6 244.4,178.1 247.4,156.7 248.4,152.6 249.4,151.7 251.4,152.3 253.4,154.4 261.4,169 265.4,174.6 267.4,176.3 269.4,177.3 273.4,177.8 277.4,177 283.4,175 309.4,163.6 338.4,152.9 352.4,148.2 369.4,143.2 373.4,140.8 377.4,136 380.4,130.3 386.4,116.5 388.4,113.2 390.4,111.6 391.4,111.7 392.4,112.4 394.4,115.7 400.4,131.5 404.4,139.3 406.4,141.6 408.4,143 410.4,143.6 412.5,143.3 414.5,141.7 415.5,140.2 417.5,134.8 418.5,130.8 421.5,112.3 426.5,70.8 428.5,60.2 429.5,58 430.5,58.2 431.5,61 432.5,66.3 437.5,106.6 440.5,123.8 442.5,130.7 444.5,135.4 447.5,140.1 450.5,142.6 454.5,144 459.5,144.6 491.5,144.9 503.5,145.7 524.5,148 536.5,150.9 540.5,151.2 543.5,150.3 546.5,147.7 549.5,143.1 555.5,131.8 557.5,129.9 558.5,129.8 559.5,130.4 560.5,131.9 563.5,139 565.5,141.9 566.5,142 567.5,141.2 570.5,137.1 571.5,136.8 572.5,137.8 577.5,152.7 579.5,156 580.5,156.4 581.5,156.2 584.5,155 587.5,156.3 588.5,155.9 589.5,154.1 590.5,150.5 592.5,137.4 595.5,112.9 596.5,108.2 597.5,107.2 598.5,110.2 599.5,116.6 603.5,154.5 605.5,167 606.5,170.9 608.5,175.4 614.5,183.7 618.5,188 624.5,192.5 641.5,203.1 645.5,205.4 648.5,206.2 650.5,205.6 652.5,203.6 658.5,191.9 659.5,191.1 660.5,191.4 661.5,193.6 666.5,214.6 668.5,219.1 671.5,222.3 675.5,224.4 677.5,224.8 679.5,224.6 681.5,223.5 686.5,218.6 687.5,218.2 688.5,218.4 690.5,220.9 696.5,232.6 699.5,236.3 705.5,240.5 713.5,244.6 717.5,246.2 719.5,246.3 721.5,245.1 723.5,242.3 726.5,236.7 727.5,235.7 728.5,235.8 729.5,237.8 732.5,249.1 734.5,254.5 736.5,257.4 738.5,259 763.5,274.2 770.5,278 774.5,279.6 776.5,279.6 778.5,278.2 780.5,275.1 783.5,268.9 784.5,267.7 785.5,267.6 786.5,269.5 790.5,284.1 792.5,288 794.5,289.8 797.5,291.5 811.5,297.5 815.5,298.5 817.5,298.3 818.5,297.7 820.5,295.6 825.5,287.2 826.5,286.6 827.5,286.8 829.5,288.1 831.5,290.6 836.5,300 839.5,304.4 841.5,306.4 844.5,308.3 855.5,312 861.5,313.4 864.5,313.8 866.5,313.5 868.5,312.7 874.5,308.3 876.5,308.3 878.5,310.1 883.5,316.8 885.5,318.6 888.5,320.2 892.5,320.9 896.5,320.3 900.5,318 903.5,315 911.5,304.9 913.5,303.4 915.5,303 916.5,303.6 917.5,305.1 922.5,317.7 924.5,321.6 925.5,322.9 927.5,324.3 930.5,324.7 933.5,323.7 936.5,321.7 941.5,316.4 946.5,308 955.5,288.2 959.5,280.5 961.5,277.8 963.5,276 965.5,275.3 966.5,275.4 967.5,277.8 968.5,283.3 972.5,316.2 973.5,322.6 975.5,331 976.5,333.5 978.5,336.4 981.5,338.3 985.5,339.8 992.5,341.5 999.6,342.5 1004.6,342.6 1008.6,342 1013.6,339.5 1016.6,336.9 1023.6,329.6 1025.6,328.1 1027.6,327.5 1028.6,327.7 1029.6,329.1 1033.6,338.8 1035.6,342.3 1037.6,344 1039.6,344.5 1040.6,344.2 1041.6,343.4 1042.6,341.7 1043.6,338.7 1047.6,317.1 1048.6,314.1 1052.6,313.7 1062.6,314.5 1067.6,314.1 1073.6,311.8 1084.6,305.4 1087.6,304.6 1089.6,304.5 1092.6,305.5 1093.6,307.9 1098.6,335.6 1100.6,343 1102.6,346.7 1105.6,348.9 1109.6,350 1116.6,351.2 1120.6,351.6 1123.6,351.3 1125.6,350.2 1126.6,349.2 1128.6,346 1131.6,339.8 1132.6,338.4 1133.6,337.9 1135.6,338.3 1138.6,339.7 1149.6,348.3 1155.6,351.7 1158.6,352.4 1161.6,352.1 1163.6,351 1167.6,348 1169.6,347.4 1171.6,348.4 1176.6,353.8 1178.6,355.4 1181.6,356.9 1186.6,358.1 1188.6,358 1190.6,356.9 1192.6,353.8 1194.6,349.4 1195.6,347.9 1196.6,347.6 1204.6,349.8 1218.6,356.1 1219.6,356.1 1220.6,355.5 1224.6,348.2 1225.6,348.3 1229.6,350.7 1239.6,358.9 1244.6,362.2 1250.6,365.1 1258.6,367.3L1258.6,475.2Z"/><clipPath id="c17"><use href="#p17"/></clipPath><path id="p16" d="M69,373.5L69,220.1 74,215.4 79,212.5 85,210.9 100,209.3 106,208.1 111,206 113,204.3 114,202.8 116,196.1 117,189.1 121,134.8 122,124.8 123,122.3 124,122.5 126,124.4 129,130.2 132,138.7 142,172.7 146,183.1 149,188.7 151,191.2 153,192.7 157,193.7 159,194.6 165,201.1 168,203.3 173,205.1 181,206.3 189,206.7 198,206.6 218,205 227,203.1 232,201.1 235,199.3 237,197.3 238,195.7 240,189.1 244,160.2 245,155.2 246,153.9 248,154.5 250,156.7 259,175.1 263,180.5 265,182 268,183.1 271,183.1 274,182.6 284,179.2 304.1,170.3 313.1,166.7 344.1,155.7 366.1,149.2 370.1,147.6 373.1,145.4 376.1,141.6 379.1,136.2 385.1,122.9 387.1,119.7 389.1,118.2 390.1,118.2 391.1,118.9 393.1,122 399.1,137.2 403.1,144.7 405.1,147 407.1,148.3 409.1,149 411.1,148.8 413.1,147.6 415.1,144.5 417.1,138.4 418.1,133.9 420.1,121.8 426.1,73.5 428.1,64.7 429.1,63.5 430.1,64.9 432.1,74.9 436.1,107.7 439.1,126.4 441.1,134 443.1,139.1 446.1,144.1 449.1,146.8 453.1,148.4 458.1,148.9 490.1,149 503.1,149.8 524.1,152.2 536.1,155.3 540.1,155.6 543.1,154.6 546.1,152.1 549.1,147.6 554.1,138.4 556.1,136 557.1,135.5 558.1,135.5 559.1,136.3 560.1,138 563.1,144.6 564.1,146 565.1,146.5 566.1,146.1 569.1,141.9 570.1,141.1 571.1,141.4 573.1,145.9 577.1,158.9 579.1,161.8 580.1,162 581.1,161.7 584.1,160 587.1,160.9 588.1,160.5 589.1,158.7 590.1,155.1 595.1,117.9 596.1,113.5 597.1,112.8 598.1,116 599.1,122.6 603.1,160.5 605.1,172.8 606.1,176.6 608.1,180.9 614.1,188.8 618.1,193.1 624.1,197.7 641.1,208.3 645.1,210.6 648.2,211.5 650.2,211 652.2,209 658.2,196.3 659.2,195.2 660.2,195.1 661.2,196.8 662.2,200.5 665.2,215 667.2,221.7 669.2,225.4 671.2,227.4 675.2,229.7 677.2,230.2 679.2,230 682.2,228.2 686.2,224.3 687.2,223.7 688.2,223.8 690.2,226 695.2,235.9 699.2,241.4 702.2,243.9 705.2,245.7 717.2,251.5 719.2,251.6 721.2,250.5 723.2,247.6 726.2,241.5 727.2,240.2 728.2,239.9 729.2,241.5 732.2,253.2 734.2,259.3 736.2,262.5 738.2,264.3 764.2,280.1 771.2,283.9 775.2,285.3 777.2,285.1 779.2,283.3 783.2,275.4 784.2,273.7 785.2,272.9 786.2,273.5 790.2,287.9 791.2,290.7 793.2,294.1 795.2,295.7 798.2,297.3 811.2,302.8 816.2,304.1 818.2,303.6 819.2,303 821.2,300.5 825.2,293.2 826.2,292.1 827.2,291.9 829.2,293.1 831.2,295.5 836.2,304.7 839.2,309.4 841.2,311.5 844.2,313.6 854.2,317.1 860.2,318.7 864.2,319.3 866.2,319.1 868.2,318.4 874.2,313.7 876.2,313.4 878.2,315 882.2,320.6 885.2,323.9 889.2,326.2 893.2,326.9 897.2,326.4 901.2,324.3 904.2,321.5 912.2,311.7 914.2,310.2 916.2,309.6 917.2,309.9 919.2,312.9 923.2,323 925.2,326.9 926.2,328.2 928.2,329.8 931.2,330.2 934.2,329.1 937.2,327 942.2,321.3 947.2,312.6 956.2,292.4 959.2,286.6 961.2,283.5 963.2,281.4 965.2,280.4 966.2,280.3 967.2,281 968.2,284.9 973.2,324.7 975.2,334.9 976.2,338 978.2,341.6 981.2,343.9 985.2,345.5 992.2,347.3 1000.3,348.5 1006.3,348.7 1010.3,348.1 1015.3,345.5 1018.3,343 1025.3,335.7 1027.3,334.3 1029.3,333.8 1030.3,334.2 1031.3,335.7 1035.3,345.4 1037.3,348.6 1039.3,350.2 1041.3,350.7 1042.3,350.5 1043.3,349.8 1044.3,348.3 1045.3,345.8 1049.3,325 1050.3,321.5 1051.3,320.8 1053.3,320.7 1064.3,321.3 1069.3,320.7 1074.3,318.9 1086.3,312.1 1089.3,311.3 1091.3,311.3 1094.3,312.5 1095.3,315.1 1100.3,342.5 1102.3,349.4 1104.3,352.9 1107.3,354.9 1112.3,356.2 1119.3,357.3 1123.3,357.4 1125.3,357 1127.3,355.5 1128.3,354.3 1132.3,346.5 1134.3,344 1136.3,344.2 1139.3,345.5 1151.3,354.6 1157.3,357.9 1160.3,358.5 1163.3,358 1169.3,354 1171.3,353.5 1173.3,354.5 1178.3,359.8 1180.3,361.4 1183.3,362.9 1188.3,364 1191.3,363.9 1193.3,362.2 1197.3,353.9 1198.3,352.9 1202.3,353.7 1206.3,355 1218.3,360.7 1220.3,361.4 1221.3,361.2 1222.3,360.5 1225.3,354.7 1226.3,353.6 1230.3,355.8 1240.3,364 1246.3,368.1 1253.3,371.3 1261.3,373.4L1261.3,475.4Z"/><clipPath id="c16"><use href="#p16"/></clipPath><path id="p15" d="M65.6,373.2L65.6,225.8 71.6,220.3 75.6,218.1 82.6,216.2 97.6,214.7 103.6,213.5 109.6,211 111.6,209.3 112.6,207.7 114.6,200.7 115.6,193.5 119.6,138.5 120.6,129 121.6,127 122.6,127.3 124.6,129.2 127.6,135 130.6,143.6 140.6,177.4 144.6,187.9 147.6,193.4 150.6,196.7 156.6,199.3 162.6,205.9 165.6,208.2 170.6,210.2 178.6,211.4 186.6,211.9 195.6,211.8 214.6,210.4 219.6,209.6 224.6,208.3 228.6,206.6 231.6,204.8 233.6,202.7 235.6,198 237.6,187.6 240.7,163.8 241.7,159.1 242.7,158.2 244.7,158.9 246.7,161.2 248.7,164.8 254.7,178.1 258.7,184.6 260.7,186.6 262.7,187.9 266.7,188.8 271.7,188.1 278.7,185.8 304.7,174.5 334.7,163.6 349.7,158.6 364.7,154.6 368.7,153 371.7,150.9 374.7,147.3 377.7,142.1 383.7,129.3 385.7,126.2 387.7,124.7 388.7,124.7 389.7,125.4 391.7,128.4 397.7,143 401.7,150.2 403.7,152.3 405.7,153.6 408.7,154.4 410.7,154 412.7,152.3 413.7,150.8 415.7,145.6 416.7,141.7 419.7,123.8 425.7,76.6 426.7,72.1 427.7,69.7 428.7,69.6 429.7,72.1 430.7,77 435.7,116.3 438.7,133.4 440.7,140.2 442.7,144.8 444.7,148.1 447.7,151 450.7,152.4 455.7,153.2 489.7,153.1 502.8,153.9 522.8,156.2 535.8,159.7 539.8,160 542.8,159 545.8,156.4 547.8,153.7 553.8,143.5 555.8,141.5 556.8,141.1 557.8,141.3 558.8,142.3 561.8,148.3 563.8,150.8 564.8,150.8 565.8,150 568.8,145.7 569.8,145.3 570.8,146.3 576.8,165.1 577.8,166.7 578.8,167.5 579.8,167.6 583.8,165 586.8,165.6 587.8,165.1 588.8,163.2 590.8,154 594.8,122.9 595.8,118.8 596.8,118.3 597.8,121.8 598.8,128.6 602.8,166.4 604.8,178.6 605.8,182.2 607.8,186.5 613.8,194 617.8,198.2 623.8,202.8 640.8,213.5 644.8,215.8 647.8,216.8 649.8,216.3 651.8,214.4 653.8,210.7 657.8,200.9 658.8,199.4 659.8,199 660.8,200.1 661.8,203.6 664.8,218.6 666.8,226.2 668.8,230.4 671.8,233.3 675.8,235.3 678.8,235.5 681.8,233.9 685.8,230 687.8,229.3 689.8,231.1 695.8,242.6 699.8,247.5 706.8,252 714.8,256 717.8,257 719.8,256.6 721.8,254.7 725.8,246.5 726.8,244.8 727.8,244.2 728.8,245.2 729.8,248.4 733.8,263.9 735.8,267.6 737.8,269.5 762.9,284.9 770.9,289.3 774.9,290.9 776.9,290.9 778.9,289.7 780.9,286.5 783.9,280 784.9,278.6 785.9,278.3 786.9,279.8 790.9,294.7 792.9,298.9 794.9,301 796.9,302.1 810.9,308.2 815.9,309.6 817.9,309.5 818.9,309 820.9,307 825.9,297.9 826.9,297.2 827.9,297.3 829.9,299 831.9,301.8 836.9,311.3 838.9,314.4 840.9,316.7 843.9,318.9 847.9,320.7 854.9,322.9 860.9,324.4 864.9,324.9 866.9,324.5 868.9,323.5 873.9,319.3 875.9,318.6 877.9,319.9 882.9,326.9 885.9,330 889.9,332.1 893.9,332.8 897.9,332.4 901.9,330.6 905.9,327 913.9,317.7 915.9,316.4 917.9,316.3 919.9,318.7 924.9,330.4 926.9,333.6 928.9,335.3 931.9,335.7 933.9,335.1 936.9,333.2 941.9,327.7 946.9,319.2 956.9,296.7 959.9,290.9 961.9,288 963.9,286.1 965.9,285.3 966.9,285.3 967.9,287.3 968.9,292.5 972.9,326.2 973.9,333 975.9,342.1 976.9,344.8 978.9,347.9 981.9,350 985.9,351.5 992.9,353.3 1001,354.6 1007,354.9 1011,354.4 1014,353.4 1017,351.6 1027,341.9 1029,340.5 1031,340.1 1032,340.7 1033,342.3 1037,351.9 1039,354.9 1041,356.4 1044,356.7 1046,354.9 1047,352.7 1049,344.2 1051,332.9 1052,328.9 1053,327.9 1066,328 1071,327.3 1076,325.5 1087,319.2 1090,318.2 1093,318.1 1095,318.7 1096,319.5 1097,322.4 1101,344.5 1102,349.3 1104,355.8 1106,359.1 1109,361 1114,362.2 1120,363.1 1124,363.3 1126,363 1128,361.8 1129,360.7 1134,351.4 1135,350.2 1136,350 1138,350.4 1141,351.9 1152,360.3 1158,363.7 1161,364.5 1164,364.4 1167,362.9 1171,359.9 1173,359.5 1175,360.7 1179,364.9 1182,367.4 1186,369.2 1191,370.1 1193,370 1195,368.7 1197,365.2 1199,360.3 1200,358.6 1201,358.2 1209,360.5 1220,366 1222,366.5 1223,366.3 1224,365.4 1227,359.7 1228,359 1232,361.5 1242,370 1248,374 1255.1,377.2 1264.1,379.4L1264.1,475.7Z"/><clipPath id="c15"><use href="#p15"/></clipPath><path id="p14" d="M62.2,372.9L62.2,231.6 68.2,226 73.2,223.3 80.2,221.5 94.2,220.2 100.2,219.1 106.2,217.1 108.2,216 110.2,214.1 112.2,209.5 114.2,196.7 118.2,141.6 119.2,133.8 120.2,132.9 121.2,133.3 123.2,135.4 126.2,141.3 129.2,149.8 139.2,183 143.2,193.3 146.2,198.6 149.2,201.7 154.2,204.1 160.2,210.7 164.2,213.8 169.2,215.6 177.2,216.8 193.2,217.1 212.3,215.7 217.3,214.9 221.3,213.8 225.3,212.1 228.3,210.2 230.3,208 232.3,203 234.3,191.8 237.3,167.5 238.3,163.1 239.3,162.5 241.3,163.3 243.3,165.7 252.3,184.9 255.3,189.7 257.3,191.9 259.3,193.3 261.3,194.1 264.3,194.3 269.3,193.5 276.3,191.2 302.3,180 332.3,169.1 348.3,163.8 363.3,159.9 367.3,158.4 370.3,156.4 373.3,153 376.3,148 382.3,135.7 384.3,132.7 386.3,131.3 387.3,131.3 388.3,131.9 390.3,134.7 396.3,148.7 400.3,155.6 402.3,157.7 404.3,158.9 407.3,159.7 409.4,159.4 411.4,158.1 413.4,155.1 415.4,149.1 416.4,144.8 419.4,125.7 424.4,85.6 426.4,76.5 427.4,75.1 428.4,76.1 430.4,85.4 435.4,124.6 438.4,140.2 440.4,146.3 442.4,150.4 444.4,153.3 447.4,155.8 450.4,157 455.4,157.6 487.4,157.1 500.4,157.8 521.4,160.3 525.4,161.1 534.4,163.9 539.4,164.4 542.4,163.4 544.4,161.9 547.4,158.2 553.4,148.6 555.4,147 556.4,146.8 557.4,147.1 558.4,148.3 561.4,153.8 562.4,155 563.4,155.5 564.4,155.1 567.4,151.2 568.4,150.5 569.4,151 571.4,155.7 575.4,169.4 577.4,172.8 578.4,173.4 579.4,173.2 583.4,170 584.4,169.8 586.4,170.2 587.4,169.6 588.4,167.8 590.4,158.5 594.4,128 595.4,124.1 596.4,123.9 597.4,127.6 598.4,134.6 602.4,172.4 604.4,184.3 605.4,187.9 607.5,192 613.5,199.3 617.5,203.4 623.5,207.9 640.5,218.7 644.5,221.1 647.5,222.2 649.5,221.9 651.5,220.2 653.5,216.7 657.5,206.9 658.5,205.1 659.5,204.4 660.5,205 661.5,207.9 664.5,222.8 666.5,230.8 668.5,235.4 671.5,238.5 675.5,240.5 678.5,240.9 681.5,239.5 686.5,235 687.5,234.8 688.5,235.2 690.5,237.9 695.5,247.6 699.5,252.7 702.5,254.9 706.5,257.2 714.5,261.3 717.5,262.3 719.5,262.1 721.5,260.4 726.5,250.4 727.5,249.4 728.5,250 729.5,252.7 733.5,268.7 735.5,272.7 737.5,274.7 763.5,290.8 771.5,295.1 775.5,296.6 777.5,296.5 779.5,294.8 784.5,284.8 785.5,283.7 786.5,284 787.5,286.4 791.5,301.4 793.5,305.1 795.5,306.9 797.5,308 811.6,313.9 816.6,315.3 818.6,314.9 819.6,314.3 821.6,311.9 825.6,304.1 826.6,302.8 827.6,302.4 828.6,302.9 830.6,305.1 836.6,316.1 839.6,320.6 841.6,322.7 844.6,324.8 848.6,326.4 855.6,328.6 861.6,330.1 864.6,330.4 866.6,330.1 868.6,329.3 874.6,324.1 875.6,323.8 876.6,324 878.6,325.9 882.6,331.9 885.6,335.3 889.6,337.7 894.6,338.7 898.6,338.5 902.6,336.9 906.6,333.5 914.6,324.5 916.6,323.2 918.6,322.8 919.6,323.3 920.6,324.6 925.6,335.7 927.6,339 929.6,340.8 932.6,341.2 934.6,340.5 937.6,338.5 942.6,332.7 947.6,323.8 956.6,303.1 959.6,297 961.6,293.8 963.6,291.6 965.6,290.4 966.6,290.3 967.6,290.7 968.6,294.2 973.6,334.8 975.6,345.7 977.6,351.4 979.6,354.1 982.6,356 986.6,357.5 993.6,359.3 1002.7,360.7 1008.7,361 1012.7,360.5 1015.7,359.4 1018.7,357.6 1028.7,348 1030.7,346.8 1032.7,346.4 1033.7,347.2 1034.7,349 1037.7,356.3 1039.7,360 1040.7,361.3 1042.7,362.6 1045.7,362.9 1047.7,361.4 1048.7,359.5 1050.7,351.8 1053.7,336.5 1054.7,334.9 1067.7,334.7 1072.7,334 1077.7,332.1 1088.7,325.9 1091.7,325 1094.7,324.9 1096.7,325.5 1097.7,326.5 1098.7,329.6 1102.7,351.5 1104.7,359.6 1106.7,364 1108.7,366.1 1110.7,367 1121.7,369.1 1125.7,369.2 1127.7,368.7 1129.7,367.1 1130.7,365.8 1134.7,358 1135.7,356.6 1136.7,356 1138.7,356.3 1141.7,357.7 1153.7,366.7 1159.7,369.9 1162.7,370.6 1165.7,370.4 1167.7,369.5 1172.7,365.9 1174.7,365.6 1176.7,366.8 1181.7,372 1184.7,374 1188.7,375.3 1193.7,376.1 1195.7,375.8 1197.7,374 1201.8,364.7 1202.8,363.5 1209.8,365.3 1221.8,371.2 1223.8,371.7 1224.8,371.3 1225.8,370.2 1228.8,364.7 1229.8,364.6 1233.8,367.3 1244.8,376.6 1249.8,379.9 1256.8,383 1266.8,385.4L1266.8,475.9Z"/><clipPath id="c14"><use href="#p14"/></clipPath><path id="p13" d="M58.8,372.6L58.8,237.3 64.8,231.7 69.8,228.9 76.8,227 91.8,225.5 98.8,224.2 105.8,221.6 108.8,218.9 110.8,213.7 112.8,199.5 116.8,145 117.8,139.2 118.8,139.2 120.8,140.7 122.8,143.6 124.8,148 127.8,156.4 137.8,189 141.8,198.9 144.8,203.9 147.8,206.8 152.8,209.8 157.8,215.6 161.8,218.9 166.8,220.8 175.8,222.1 191.9,222.4 209.9,220.9 214.9,220.1 218.9,218.9 221.9,217.6 224.9,215.7 226.9,213.3 228.9,207.9 230.9,195.9 233.9,171.1 234.9,167.2 235.9,166.8 237.9,167.7 240.9,172 247.9,187.7 251.9,194.8 253.9,197.1 255.9,198.7 257.9,199.5 260.9,199.9 265.9,199.2 273.9,196.7 299.9,185.5 330.9,174.3 346.9,169 363,164.9 366,163.8 369,161.9 372,158.6 375,153.8 381,142.1 383,139.3 385,137.8 386,137.8 387,138.4 389,141.1 395,154.4 399,161 401,163 404,164.6 407,165 409,164.5 411,162.8 412,161.3 414,156.2 415,152.4 418,135.1 424,88.6 425,84 426,81.4 427,81 428,83.2 429,87.7 434,125.9 437,143 439,149.7 441,154.2 443,157.3 446,160 449,161.3 454,161.9 486,161.2 500,161.9 521.1,164.5 534.1,168.3 538.1,168.8 541.1,168.3 544.1,166.3 547.1,162.7 553.1,153.9 555.1,152.5 556.1,152.5 557.1,153 561.1,159.1 562.1,159.9 563.1,160 564.1,159.3 567.1,156 568.1,156.1 569.1,157.4 570.1,159.9 575.1,176.1 576.1,177.9 577.1,178.8 578.1,179.1 580.1,178 583.1,175.1 584.1,174.7 586.1,174.8 587.1,174.2 588.1,172.3 590.1,163.1 594.1,133.1 595.1,129.5 596.1,129.5 597.1,133.4 598.1,140.6 602.1,178.3 604.1,190.1 605.1,193.6 607.1,197.5 617.1,208.5 623.1,213 642.1,225.2 646.1,227.3 648.1,227.7 650.1,226.9 652.1,224.6 658.1,211.3 659.1,210.2 660.1,210.4 661.1,212.7 666.1,235.4 668.1,240.3 671.1,243.7 675.1,245.8 677.1,246.3 679.2,246.1 681.2,245.1 686.2,240.7 687.2,240.3 688.2,240.6 690.2,243 696.2,254.2 699.2,257.8 705.2,261.9 714.2,266.5 717.2,267.6 719.2,267.6 721.2,266.1 723.2,262.8 726.2,256.2 727.2,255 728.2,255 729.2,257.2 732.2,269.9 734.2,276 736.2,279 738.2,280.8 763.2,296.2 771.2,300.5 775.2,302.2 777.2,302.3 779.2,301.1 781.2,298 784.2,291.3 785.2,289.6 786.2,289 787.2,290.1 788.2,293.3 791.2,305.3 792.2,308 794.2,311.2 796.2,312.8 799.2,314.3 811.2,319.3 816.2,320.8 819.2,320.3 821.2,318.4 822.2,316.8 826.2,308.9 827.2,307.9 828.2,307.8 829.2,308.5 831.2,311.3 837.2,322.7 840.2,326.9 843.3,329.5 848.3,331.8 860.3,335.4 865.3,335.9 868.3,335 874.3,329.7 876.3,329.1 878.3,330.8 883.3,338.3 886.3,341.4 888.3,342.7 891.3,343.9 897.3,344.7 901.3,344 904.3,342.5 908.3,339 915.3,331.3 917.3,329.9 919.3,329.3 920.3,329.6 922.3,332.3 926.3,341 928.3,344.3 930.3,346.2 931.3,346.6 933.3,346.6 935.3,345.9 938.3,343.7 943.3,337.6 948.3,328.3 957.3,307.3 960.3,301.3 962.3,298.3 964.3,296.2 966.3,295.3 967.3,295.3 968.3,296.8 969.3,301.7 973.3,336.1 974.3,343.3 976.3,353.1 977.3,356 979.3,359.3 982.3,361.6 986.3,363.2 993.3,365.1 1002.3,366.6 1008.4,367.1 1013.4,366.8 1016.4,365.9 1019.4,364.4 1022.4,362 1030.4,354.2 1032.4,353 1034.4,352.8 1035.4,353.7 1036.4,355.6 1039.4,362.9 1041.4,366.4 1042.4,367.6 1044.4,368.8 1047.4,369.1 1049.4,367.9 1051.4,363.4 1055.4,344.2 1056.4,341.9 1069.4,341.5 1074.4,340.7 1079.4,338.7 1090.4,332.7 1093.4,331.8 1095.4,331.6 1098.4,332.3 1099.4,333.6 1101.4,341.9 1104.4,358.5 1106.4,366.2 1108.4,370.3 1110.4,372.1 1112.4,373 1123.4,375 1126.4,375.1 1128.4,374.7 1130.4,373.4 1131.4,372.2 1136.4,363.1 1137.4,362.1 1138.4,362.1 1140.4,362.6 1143.4,364.1 1154.4,372.4 1158.4,374.8 1161.4,376 1164.4,376.7 1167.5,376.3 1169.5,375.4 1174.5,371.9 1176.5,371.6 1178.5,372.9 1183.5,378 1186.5,380 1190.5,381.3 1196.5,382.1 1198.5,381.5 1199.5,380.6 1201.5,376.7 1203.5,371.2 1204.5,369.3 1205.5,368.8 1212.5,370.8 1224.5,376.7 1225.5,376.8 1226.5,376.3 1230.5,369.9 1231.5,370.1 1234.5,372.2 1245.5,381.8 1251.5,385.8 1259.5,389.2 1269.5,391.4L1269.5,476.1Z"/><clipPath id="c13"><use href="#p13"/></clipPath><path id="p12" d="M55.4,372.3L55.4,243 61.4,237.3 64.4,235.3 67.4,234.1 74.4,232.3 89.4,230.9 97.4,229.3 104.4,226.6 106.4,225 107.4,223.7 109.4,217.7 110.4,211.5 112.4,189.2 114.4,159.5 115.4,148.9 116.4,145.3 117.4,145.5 119.4,147.2 121.4,150.3 123.4,154.6 126.4,163 136.4,194.9 139.4,202.4 142.4,207.9 145.4,211.3 150.4,214.6 155.4,220.5 159.4,223.9 162.4,225.3 165.4,226.2 175.5,227.5 192.5,227.6 209.5,226 213.5,225.2 217.5,223.8 220.5,222.2 222.5,220.7 224.5,217.8 226.5,210.9 230.5,180.7 231.5,175.4 232.5,174.1 234.5,174.6 237.5,178.1 245.5,194.5 249.5,200.9 251.5,202.9 253.5,204.1 255.5,204.8 258.5,205 264.5,203.8 272.5,200.9 298.5,188.8 332.6,175.5 347.6,170.3 361.6,166.6 364.6,165.4 367.6,163.5 370.6,160.3 373.6,155.7 379.6,144.3 381.6,141.5 383.6,140.1 384.6,140.1 385.6,140.5 387.6,143.1 394.6,157.6 397.6,161.9 399.6,163.8 402.6,165.2 405.6,165.6 407.6,165.2 409.6,163.9 411.6,160.8 413.6,155.1 414.6,150.9 417.6,132.4 422.6,92.9 424.6,83.6 425.6,82 426.6,82.8 428.6,91.4 433.6,129.7 436.6,145.2 438.6,151.2 440.6,155.3 442.6,158 444.6,159.7 447.6,161.2 451.7,161.8 483.7,161.5 498.7,162.6 519.7,165.9 533.7,170.5 537.7,171.1 540.7,170.7 543.7,168.8 546.7,165.5 551.7,158.5 553.7,156.8 555.7,156.6 556.7,157.4 559.7,161.8 560.7,162.9 561.7,163.3 562.7,163.1 565.7,160.3 566.7,160.1 567.7,161 569.7,166.1 573.7,179.4 575.7,182.9 576.7,183.6 577.7,183.7 579.7,182.5 582.7,179.4 583.7,178.9 585.7,178.7 586.7,178.1 587.7,176.2 589.8,167 593.8,137.6 594.8,134.3 595.8,134.7 596.8,138.8 597.8,146.2 601.8,183.9 603.8,195.4 604.8,198.9 606.8,202.8 616.8,213.5 622.8,218.1 641.8,230.5 645.8,232.7 647.8,233.1 649.8,232.6 651.8,230.5 657.8,217.4 658.8,216.2 659.8,216 660.8,217.6 661.8,221.4 664.8,236.1 666.8,243.1 668.8,246.9 670.8,248.9 674.8,251.1 676.8,251.6 678.8,251.6 681.8,250 685.8,246.3 686.8,245.9 687.8,246 689.8,248.1 694.8,257.6 698.8,262.9 704.8,267.2 716.8,273 718.8,273 720.8,271.8 722.8,268.7 725.8,262 726.8,260.6 727.9,260.3 728.9,261.9 731.9,274.3 733.9,280.8 735.9,284.2 737.9,286 763.9,302.1 771.9,306.4 775.9,307.9 777.9,307.8 779.9,306.2 781.9,302.7 784.9,295.9 785.9,294.6 786.9,294.6 787.9,296.7 791.9,312.1 793.9,316.1 795.9,318 797.9,319.2 810.9,324.7 816.9,326.4 818.9,326.1 819.9,325.6 821.9,323.4 825.9,315.2 826.9,313.7 827.9,313 828.9,313.3 830.9,315.8 836.9,327.5 839.9,331.9 842.9,334.7 847.9,337.2 858.9,340.6 864.9,341.5 867,341.1 869,340 874,335.2 876,334.3 878,335.6 884,344.6 887,347.5 889,348.7 892,349.8 898,350.6 902,350 905,348.7 909,345.5 917,337.2 919,336.1 921,336 923,338.1 927,346.4 929,349.7 931,351.6 932,352 934,352 936,351.3 939,349 944,342.5 949,332.8 960,307.5 962,304.1 964,301.7 966,300.5 967,300.3 968,300.5 969,303.5 974,344.9 975,351.5 977,360.2 978,362.7 980,365.6 983,367.7 987,369.2 994,371 1003,372.6 1010.1,373.3 1015.1,372.9 1018.1,372 1021.1,370.4 1024.1,368 1031.1,361.1 1033.1,359.7 1035.1,359 1036.1,359.1 1037.1,360.3 1041.1,369.4 1043.1,372.8 1044.1,373.8 1046.1,375 1049.1,375.3 1051.1,374.2 1053.1,370.4 1057.1,351.9 1058.1,349.2 1061.1,348.6 1071.1,348.3 1076.1,347.4 1081.1,345.4 1092.1,339.4 1095.1,338.5 1097.1,338.4 1100.1,339.2 1101.1,340.7 1102.1,344.2 1106.1,365.4 1108.1,372.7 1110.1,376.5 1112.1,378.2 1114.1,379.1 1125.1,381 1128.1,381 1130.1,380.3 1132.1,378.6 1133.1,377.2 1137.1,369.6 1138.1,368.4 1139.1,368.1 1141.1,368.5 1144.2,369.9 1156.2,378.8 1162.2,381.8 1165.2,382.6 1168.2,382.6 1171.2,381.3 1176.2,377.8 1178.2,377.7 1180.2,379.1 1184.2,383.2 1187.2,385.5 1191.2,387 1198.2,388.1 1200.2,387.8 1202.2,385.8 1206.2,375.5 1207.2,374.1 1210.2,374.6 1214.2,375.9 1226.2,381.9 1227.2,381.8 1228.2,381.2 1231.2,376 1232.2,375.1 1236.2,377.9 1247.2,387.7 1253.2,391.7 1261.2,395 1272.2,397.5L1272.2,476.4Z"/><clipPath id="c12"><use href="#p12"/></clipPath><path id="p11" d="M52,372L52,248.8 58,243 61,241 64,239.7 71,237.8 86,236.3 95,234.7 100,233.1 103,231.6 105,230 106,228.5 108,221.9 109,215.1 113,162.9 114,153.7 115,151.6 116,151.9 118,153.6 120,156.8 122,161.1 125,169.4 135,200.6 138,207.9 141,213.2 144,216.4 148,219.2 154,226.3 157,228.9 160,230.4 163,231.4 173,232.8 189,232.9 205,231.7 213,229.9 216,228.7 219,226.8 221,224.6 223,219.4 225,208.1 228,185.3 229,181.9 230,181.6 232,182.4 235,185.9 243,201.3 247,207.1 249,208.9 251,210 253,210.6 256,210.7 262,209.4 270,206.5 296,194.5 332,180.4 346,175.6 360,172 364,170.5 367,168.4 370,165 379,149.6 381,147.3 382,146.7 383,146.6 384,146.9 386,149 393,162.7 395,165.8 397,168.1 399,169.5 402,170.7 405,170.8 407,170.3 409,168.7 411,165.5 414,155.1 417,136.4 422,97.8 424,89.2 425,88 426,89.2 428,98.4 433,136 435,146.8 437,153.9 439,158.5 441,161.6 444,164.3 447,165.6 451,166.2 482,165.6 497,166.6 518,169.8 523,171.2 533,174.8 538,175.6 541,174.9 543,173.7 546,170.7 551,164.2 553,162.6 555,162.3 556,162.9 560,167.7 561,168.1 562,167.8 565,165.5 566,165.6 567,166.7 573,184.9 575,188.4 576,189.1 577,189.3 579,188.3 583,184.1 586,183 587,181.7 589,174.1 593,145.2 594,140.8 595,139.8 596,142.6 597,148.8 601,186.4 602,193.7 604,203.2 605,205.9 607,209 617,219.1 623,223.6 642,236 646,238.2 648,238.6 650,237.9 652,235.7 658,222.8 659,221.8 660,221.9 661,224.1 666,246.3 668,251.1 671,254.4 675,256.6 677,257 679,256.9 681,256 686,251.7 687,251.4 688,251.6 690,254 696,265 699,268.5 705,272.6 714,277.2 717,278.4 719,278.4 721,277 723,273.6 726,267.1 727,265.8 728,265.8 729,267.9 732,280.5 734,286.7 736,289.8 738,291.6 764,307.7 772,312 776,313.6 778,313.5 780,312.1 782,308.7 785,301.7 786,300.2 787,299.9 788,301.5 792,317.1 794,321.5 796,323.5 798,324.7 811,330.2 817,332 820,331.4 822,329.3 823,327.7 827,319.5 828,318.6 829,318.7 831,321.1 837,333 840,337.4 843,340.2 848,342.8 859,346.1 865,347 867,346.6 869,345.6 874,340.7 876,339.7 878,340.9 884,350.1 887,353.1 889,354.3 892,355.4 899,356.5 903,356 906,354.7 910,351.7 918,343.8 920,342.7 922,342.5 924,344.4 928,352.3 930,355.4 932,357.1 934,357.6 936,357 939,354.9 942,351.5 944,348.6 949,339 957,319.7 961,311.4 963,308.3 965,306.3 967,305.4 968,305.4 969,307.3 970,312.6 974,347.9 975,355.1 977,364.8 979,369.7 981,372 984,373.8 988,375.3 996,377.3 1005,378.8 1012,379.4 1017,378.9 1020,378 1023,376.3 1033,367.1 1035,365.8 1037,365.3 1038,365.7 1039,367.2 1043,376.3 1045,379.3 1048,381.2 1051,381.4 1053,380.4 1055,376.7 1059,358.9 1060,356.2 1062,355.7 1072,355.2 1077,354.3 1082,352.5 1093,346.5 1096,345.5 1099,345.3 1102,346.2 1103,348.2 1108,372.9 1110,379.5 1112,382.9 1115,384.8 1120,386 1126,386.8 1129,386.9 1131,386.4 1133,384.9 1134,383.6 1138,376.1 1139,374.7 1140,374.1 1142,374.4 1145,375.8 1157,384.6 1164,388 1167,388.7 1170,388.5 1173,387.2 1177,384.3 1179,383.6 1181,384.4 1187,390.2 1190,392 1194,393.2 1201,394.1 1203,393.4 1204,392.3 1206,388 1208,382 1209,379.9 1210,379.4 1217,381.5 1226,386.3 1228,387 1229,386.8 1230,386 1233,380.9 1234,380.6 1238,383.5 1249,393.6 1255,397.6 1263,400.8 1275,403.5L1275,476.6Z"/><clipPath id="c11"><use href="#p11"/></clipPath><path id="p10" d="M48.6,371.7L48.6,254.5 55.6,247.9 58.6,246.1 61.6,244.9 68.6,243.1 83.6,241.7 91.6,240.2 99.6,237.6 101.6,236.6 103.6,234.8 105.6,230.4 107.6,218.2 111.6,166 112.6,158.7 113.6,157.9 114.6,158.3 116.6,160.1 118.6,163.4 120.6,167.8 133.6,206.5 136.6,213.5 139.6,218.6 141.6,220.8 146.6,225 152.6,232.2 155.6,234.5 158.6,236 161.6,236.8 171.6,238.1 187.6,238.2 203.6,236.9 210.6,235.2 214.6,233.4 216.6,232 218.6,229.2 220.6,222.8 224.6,195.1 225.6,190.4 226.6,189.2 228.6,189.6 231.6,192.5 239.6,206.7 243.6,212.4 245.6,214.3 247.6,215.6 249.6,216.2 252.6,216.4 258.6,215.3 267.6,212.1 294.6,199.6 332.6,184.9 345.6,180.5 358.6,177.3 362.6,175.9 365.6,173.9 368.6,170.7 377.6,156 380.6,153.3 382.6,153.4 384.6,155.4 391.6,168.4 393.6,171.3 395.6,173.4 397.6,174.8 400.6,175.9 403.6,176 405.6,175.6 407.6,174.2 409.6,171.3 412.6,162.1 415.6,145 420.6,107.9 422.6,98.8 423.6,97.1 424.6,97.5 425.6,100.3 426.6,105.1 431.6,140.7 434.6,155.3 437.6,162.8 439.6,165.8 442.6,168.6 445.6,169.9 449.6,170.5 480.6,169.7 488.6,170 496.6,170.7 517.6,174.1 521.6,175.2 532.6,179.3 537.6,180.1 540.6,179.5 542.6,178.4 544.6,176.6 550.6,169.9 552.6,168.6 554.6,168.5 558.6,172.4 559.6,173 560.6,173 563.6,171 564.6,170.9 565.6,171.6 567.6,176.2 570.6,186.2 572.6,191.3 574.6,194.1 576.6,194.8 578.6,193.7 582.6,189.1 585.6,187.5 586.6,186 588.6,178.5 592.6,151.7 593.6,148.2 594.6,148.1 595.6,151.5 596.6,158.1 600.6,194.1 601.6,200.8 603.6,209.4 604.6,211.8 606.6,214.6 616.6,224.3 622.6,228.8 641.6,241.3 645.6,243.5 647.6,244 649.6,243.6 651.6,241.6 653.6,238 657.6,228.9 658.6,227.7 659.6,227.5 660.6,229.1 661.6,232.7 664.6,247 666.6,253.9 668.6,257.6 670.6,259.6 674.6,261.8 676.6,262.4 678.6,262.3 681.6,260.9 685.6,257.4 686.6,257 687.6,257.1 689.6,259.1 694.6,268.4 698.6,273.7 704.6,277.9 716.6,283.7 718.6,283.8 720.6,282.6 722.6,279.6 725.6,272.9 726.6,271.4 727.6,271.1 728.6,272.6 731.6,285 733.6,291.6 735.6,295 737.6,296.9 764.6,313.6 772.6,317.9 776.6,319.3 778.6,319 780.6,317.2 785.6,306.4 786.6,305.3 787.6,305.6 788.6,308.2 792.6,323.8 794.6,327.6 796.6,329.4 798.6,330.5 811.6,336 817.6,337.7 820.6,337 822.6,334.9 826.6,327.5 827.6,326.1 828.6,325.5 829.6,325.9 831.6,328.5 836.6,338.1 839.6,342.6 843.7,346.2 848.7,348.6 860.7,352.2 865.7,352.7 867.7,352.2 869.7,351 874.7,346.6 875.7,346.2 876.7,346.4 878.7,348.2 883.7,355.6 886.7,358.6 888.7,359.9 891.7,361.1 895.7,362 899.7,362.4 903.7,362.1 907.7,360.4 910.7,358.2 918.7,350.6 920.7,349.4 922.7,349.1 923.7,349.4 924.7,350.5 930.7,360.8 932.7,362.6 934.7,363.1 936.7,362.5 938.7,361.2 940.7,359.2 943.7,355.3 948.7,346.1 960.7,318.4 962.7,315.1 964.7,312.8 966.7,311.5 967.7,311.4 968.7,311.8 969.7,315.2 974.7,357.1 975.7,363.6 977.7,372.1 978.7,374.5 980.7,377.4 983.7,379.4 987.7,381 995.7,383.1 1004.7,384.7 1012.7,385.5 1017.7,385.2 1020.7,384.5 1023.7,383 1027.7,379.9 1034.7,373.2 1036.7,372 1038.7,371.6 1039.7,372.2 1040.7,373.8 1044.7,382.8 1046.7,385.7 1049.7,387.4 1051.7,387.6 1053.7,387.3 1055.7,385.6 1056.7,383.6 1061.7,363.5 1062.7,362.8 1073.7,362 1078.7,361.1 1083.7,359.2 1094.7,353.2 1097.7,352.3 1100.7,352.1 1103.7,353.1 1104.7,355.4 1109.7,379.7 1111.7,385.9 1113.7,389.1 1116.7,390.9 1126.7,392.7 1129.7,392.8 1131.7,392.4 1133.7,391.2 1134.7,390 1139.7,381.1 1140.7,380.2 1141.7,380.2 1143.7,380.7 1146.7,382.2 1157.7,390.3 1164.7,393.9 1168.7,394.8 1171.7,394.6 1174.7,393.3 1178.7,390.6 1180.7,390.1 1182.7,390.9 1187.7,395.6 1190.7,397.6 1194.7,398.9 1202.7,400.1 1204.7,399.7 1206.7,397.4 1210.7,386.2 1211.7,384.7 1217.7,386.2 1227.7,391.4 1229.7,392 1230.7,391.7 1231.7,390.7 1234.7,385.9 1235.7,386 1237.7,387.5 1249.7,398.6 1256.7,403.4 1264.7,406.7 1277.7,409.5L1277.7,476.8Z"/><clipPath id="c10"><use href="#p10"/></clipPath><path id="p9" d="M45.1,371.4L45.1,260.3 52.1,253.5 55.1,251.7 58.1,250.4 66.1,248.4 80.1,247.1 90.1,245.3 98.1,242.7 100.1,241.7 102.1,239.8 104.1,234.8 105.1,229.6 107.1,210.2 110.1,171.9 111.1,167.3 112.1,167.4 114.1,168.7 116.1,171.4 118.1,175.4 121.1,183 131.1,212.5 134.1,219.5 137.1,224.6 139.1,226.9 144.1,230.8 150.1,237.8 153.1,240.1 156.1,241.5 160.1,242.6 170.1,243.7 185.1,243.7 200.1,242.5 207.1,241 210.1,239.8 213.1,238.1 215.1,235.9 217.1,231.1 219.1,220.6 222.1,199.8 223.1,196.8 225.1,196.7 228.1,198.9 231.1,203.2 237.1,213.5 241.1,218.7 245.1,221.4 247.1,222 250.1,222.1 256.1,220.9 265.1,217.7 292.1,205.2 331.2,190.1 344.2,185.7 357.2,182.7 361.2,181.4 364.2,179.5 367.2,176.5 376.2,162.6 379.2,159.8 381.2,159.9 383.2,161.7 390.2,174 394.2,178.8 396.2,180.1 399.2,181.1 402.2,181.2 404.2,180.8 406.2,179.6 408.2,177.1 410.2,172.4 411.2,169 414.2,153.6 420.2,112.7 421.2,108.7 422.2,106.4 423.2,106 424.2,107.9 425.2,111.9 430.2,145.1 433.2,159.7 436.2,167.1 438.2,170 441.2,172.7 445.2,174.4 449.2,174.9 479.2,173.8 487.2,174 495.2,174.8 516.2,178.1 521.2,179.6 532.2,183.8 537.2,184.7 540.2,184.1 542.2,183.1 549.2,176.5 552.2,174.7 554.2,174.8 557.2,177.3 559.2,178.2 563.2,176.3 564.2,176.7 566.2,180.4 570.2,193 572.2,197.4 574.2,199.7 576.2,200.2 578.2,199.1 582.2,194.3 585.2,192 586.2,190.5 588.2,183.2 591.2,163.9 592.2,158.7 593.2,156 594.2,156.5 595.2,160.3 600.2,201.4 601.2,207.6 603.2,215.4 604.2,217.5 606.2,220.1 616.2,229.4 622.2,233.9 641.2,246.6 645.2,248.9 647.3,249.5 649.3,249.2 651.3,247.5 653.3,244.2 657.3,235.2 658.3,233.7 659.3,233.3 660.3,234.1 661.3,237.2 664.3,251.3 666.3,258.6 668.3,262.6 671.3,265.5 675.3,267.5 678.3,267.8 681.3,266.5 685.3,263.1 687.3,262.5 689.3,264.2 695.3,275 699.3,279.7 706.3,284.2 714.3,288.2 717.3,289.2 719.3,289 721.3,287.1 725.3,278.9 726.3,277.2 727.3,276.5 728.3,277.3 729.3,280.4 733.3,296.3 735.3,300.1 737.3,302.1 763.3,318.4 772.3,323.3 776.3,324.9 778.3,324.9 780.3,323.6 782.3,320.3 785.3,313.1 786.3,311.3 787.3,310.6 788.3,311.7 789.3,315 792.3,327.5 793.3,330.4 795.3,333.7 797.3,335.3 800.3,336.8 812.3,341.7 818.3,343.4 821.3,342.7 823.3,340.6 827.3,333.8 828.3,332.8 829.3,332.5 831.3,334.3 837.3,344.9 840.3,348.9 844.3,352.1 850.3,354.6 860.3,357.6 865.3,358.4 868.3,357.7 874.3,353.2 876.3,352.7 878.3,354.1 883.3,361 887.3,364.8 890.3,366.3 893.3,367.2 901.3,368.4 905.3,367.8 908.3,366.6 911.3,364.6 920.3,356.7 922.3,355.8 924.3,355.7 926.3,357.8 931.3,366.2 933.3,368 935.3,368.5 937.3,367.9 939.3,366.6 941.3,364.6 944.3,360.5 949.3,351.1 958.3,329.7 961.3,323.6 963.3,320.5 965.3,318.4 967.3,317.4 968.3,317.3 969.3,318.7 970.3,323.5 974.3,358.4 975.3,365.8 977.3,376 979.3,381.1 981.3,383.6 984.3,385.4 988.3,386.9 996.4,389 1006.4,390.8 1014.4,391.5 1019.4,391.3 1022.4,390.5 1025.4,389 1028.4,386.8 1036.4,379.3 1038.4,378.2 1040.4,377.9 1041.4,378.6 1042.4,380.4 1046.4,389.2 1048.4,391.9 1051.4,393.5 1055.4,393.5 1057.4,392 1058.4,390.3 1059.4,387.5 1063.4,370.9 1064.4,369.8 1075.4,368.8 1080.4,367.7 1085.4,365.8 1096.4,360 1099.4,359 1102.4,358.9 1104.4,359.4 1105.4,360.1 1106.4,362.6 1111.4,386.4 1113.4,392.3 1115.4,395.2 1118.4,396.9 1128.4,398.6 1131.4,398.6 1133.4,398 1136.4,395 1140.4,387.7 1141.4,386.4 1142.4,386.1 1144.4,386.6 1147.4,388 1159.4,396.6 1166.4,400 1170.4,400.8 1173.4,400.6 1176.4,399.4 1180.4,397 1182.4,396.5 1184.4,397.4 1190.4,402.5 1193.4,404 1198.4,405.2 1205.4,406 1207.4,405.3 1208.4,404.2 1209.4,402.3 1213.4,390.6 1214.4,389.9 1220.4,391.7 1229.4,396.5 1231.4,397 1232.4,396.5 1233.4,395.4 1235.4,392 1236.4,391 1240.4,393.9 1251.4,404.4 1258.4,409.3 1262.4,411.1 1267.4,412.7 1280.4,415.5L1280.4,477.1Z"/><clipPath id="c9"><use href="#p9"/></clipPath><path id="p8" d="M41.4,371.1L41.4,266 48.4,259.2 51.4,257.3 55.4,255.6 62.4,253.9 77.4,252.4 88.4,250.4 96.4,247.9 98.4,246.9 100.4,245 102.4,240 103.4,234.8 105.4,215.7 107.4,189.7 108.4,180.1 109.4,176.6 110.4,176.8 112.4,178.2 114.4,181 116.4,184.8 119.4,192.3 129.4,220.6 132.4,227.1 135.4,231.7 137.4,233.7 142.4,237.5 148.5,244 151.5,246.1 154.5,247.4 158.5,248.3 169.5,249.3 184.5,249.1 199.5,247.7 206.5,245.7 209.5,244.2 211.5,242.7 213.5,239.5 214.5,236.5 216.5,226.1 219.5,206 220.5,203.3 222.5,203.3 225.5,205.3 228.5,209.4 235.5,220.6 238.5,224.1 242.5,226.8 244.5,227.4 247.5,227.5 253.5,226.3 262.5,223.2 289.5,210.7 330.6,194.9 342.6,191 356.6,187.9 360.6,186.4 363.6,184.4 365.6,182.4 368.6,178.5 374.6,169.2 376.6,167.1 378.6,166.2 379.6,166.3 381.6,167.8 388.6,179.3 392.6,184 394.6,185.3 397.6,186.3 400.6,186.4 402.6,186.1 405.6,184.2 407.6,181.3 410.6,172.5 413.6,156.6 418.6,123.6 420.6,116.1 421.6,114.8 422.6,115.6 424.6,123 429.6,154.6 432.6,166.8 434.6,171.2 437.6,175.1 440.6,177.4 443.6,178.7 449.6,179.2 479.7,177.9 492.7,178.7 514.7,182.2 519.7,183.7 531.7,188.4 536.7,189.3 539.7,188.9 541.7,188.1 548.7,182.3 550.7,181.1 552.7,180.8 553.7,181 557.7,183.4 558.7,183.4 561.7,181.9 562.7,181.9 563.7,182.7 564.7,184.5 570.7,201.5 572.7,204.4 573.7,205.2 575.7,205.6 576.7,205.3 578.7,203.6 585.7,195.3 587.7,188.6 590.7,171 591.7,166.3 592.7,164 593.7,164.7 594.7,168.5 599.7,207.8 601.7,218 602.7,221.1 604.7,224.6 615.7,234.6 621.7,239.1 641.8,252.5 645.8,254.7 647.8,255.1 649.8,254.5 651.8,252.3 657.8,240.1 658.8,239.2 659.8,239.4 660.8,241.5 665.8,262.9 667.8,267.5 670.8,270.7 674.8,272.7 677.8,273.3 680.8,272.3 685.8,268.3 686.8,268.1 687.8,268.4 689.8,270.7 695.8,281.3 698.8,284.8 704.8,288.8 713.8,293.4 716.8,294.6 718.8,294.5 720.8,293.1 722.8,289.7 725.8,283.2 726.8,282 727.8,282.2 728.8,284.5 732.8,300.7 734.8,305 737.8,308 763.8,324.2 772.8,329 776.8,330.6 778.8,330.4 780.8,328.8 782.8,325.2 785.9,317.8 786.9,316.3 787.9,316 788.9,317.9 792.9,334 794.9,338.4 796.9,340.4 798.9,341.6 813.9,347.7 818.9,349 821.9,348.3 823.9,346.4 827.9,340.3 828.9,339.5 829.9,339.6 831.9,341.5 837.9,351.4 840.9,355 844.9,357.9 851.9,360.6 860.9,363.2 865.9,363.9 868.9,363.1 874.9,359.2 876.9,359.2 878.9,361 883.9,367.4 887.9,370.7 893.9,372.9 901.9,374.1 905.9,373.7 909.9,372.2 912.9,370.1 920.9,363.3 922.9,362.3 924.9,362 926.9,363.4 930.9,369.9 932.9,372.4 934.9,373.6 936.9,373.6 938.9,372.6 940.9,370.8 946,363.9 951,353.7 959,334.6 963,327.1 966,323.8 968,323.1 969,323.2 970,325.7 971,331.6 975,366.8 976,373.7 978,382.8 980,387.3 982,389.5 985,391.2 989,392.7 997,394.7 1008,396.6 1016,397.4 1021,397.1 1024,396.3 1027,394.8 1030,392.6 1038,385.3 1040,384.2 1042,383.9 1043,384.8 1044,386.6 1048,395.3 1050,397.9 1053,399.4 1057,399.4 1059,398.3 1061,394.4 1065,378.3 1066,376.6 1077,375.4 1082,374.3 1087,372.3 1098,366.5 1101,365.6 1104,365.5 1106.1,366 1107.1,366.8 1108.1,369.5 1112.1,388.8 1113.1,392.8 1115.1,398.4 1117.1,401.1 1120.1,402.7 1129.1,404.3 1132.1,404.4 1134.1,403.9 1136.1,402.6 1137.1,401.4 1142.1,392.7 1143.1,392 1144.1,392.1 1146.1,392.6 1149.1,394.2 1162.1,403.3 1168.1,405.9 1172.1,406.7 1175.1,406.5 1177.1,405.9 1182.1,403.2 1184.1,402.9 1186.1,403.7 1191.1,407.8 1194.1,409.5 1199.1,410.8 1207.1,411.9 1209.1,411.5 1211.1,409.1 1215.1,396.9 1216.1,395.2 1218.1,395.4 1222.1,396.7 1232.1,401.8 1233.1,401.8 1234.1,401.3 1237.1,396.7 1238.1,396.1 1242.1,399.3 1253.1,410.2 1259.1,414.5 1263.1,416.5 1268.2,418.2 1283.2,421.4L1283.2,477.3Z"/><clipPath id="c8"><use href="#p8"/></clipPath><path id="p7" d="M37.7,370.8L37.7,271.8 41.7,267.5 45.7,264.1 52.7,260.8 59.7,259.2 73.7,257.9 85.7,255.7 94.7,253.1 96.7,252.2 98.7,250.4 100.7,245.5 101.7,240.4 103.7,222 105.7,197.5 106.7,188.9 107.7,186 108.7,186.2 110.7,187.7 112.7,190.4 114.7,194.2 127.7,228.4 130.7,234.4 133.7,238.6 139.7,243.2 145.7,249.4 149.7,252 152.7,253.1 156.7,254 168.7,254.8 182.7,254.5 196.7,253.2 203.7,251.2 206.7,249.8 208.7,248.3 210.7,245.2 212.7,238.2 216.7,212.8 217.7,209.9 218.7,209.7 220.7,210.1 223.7,212.7 232.7,226 236.7,230.3 240.7,232.5 245.7,232.8 251.7,231.5 260.7,228.4 286.7,216.4 328.7,200.2 341.7,196 354.7,193.3 358.7,192.1 361.7,190.3 364.7,187.5 373.7,175 376.7,172.8 378.7,173 380.7,174.8 387.7,185.7 391.7,189.8 393.7,190.8 396.7,191.5 399.7,191.5 401.7,191 403.7,189.9 405.7,187.7 408.7,180.8 411.7,167.6 417.8,131 419.8,124.5 420.8,123.7 421.8,124.8 423.8,132.4 427.8,156.6 430.8,170 432.8,174.8 434.8,177.8 437.8,180.7 441.8,182.8 444.8,183.4 448.8,183.5 478.8,182 491.8,182.8 513.8,186.4 518.8,187.9 530.8,192.8 536.8,194 539.8,193.6 541.8,192.7 547.8,188.5 550.8,187.1 552.8,187.1 556.8,189 557.8,189 560.8,187.8 561.8,187.9 562.8,188.7 563.8,190.5 569.8,206.7 571.8,209.6 572.8,210.4 574.8,211.2 576.8,210.7 578.8,209 584.8,201.5 585.8,199.5 587.8,191.8 590.8,175.7 591.8,172.6 592.8,172.1 593.8,174.7 594.8,179.9 598.8,211.3 599.8,217.4 601.8,225.6 602.8,227.9 604.8,230.7 615.8,240.2 640.8,257.4 644.8,259.8 646.8,260.5 648.8,260.5 650.8,259.1 652.8,256.1 657.8,245.8 658.8,245 659.8,245.3 660.8,247.7 665.8,268.7 667.8,273.1 670.8,276.2 674.8,278.2 677.8,278.8 680.8,277.8 685.8,274.3 686.8,274.1 687.8,274.5 689.8,276.8 695.8,287 698.8,290.3 704.8,294.3 713.8,298.9 716.8,300 718.8,299.9 720.8,298.4 725.8,288.5 726.8,287.4 727.8,287.7 728.8,290.1 732.8,306.3 734.8,310.6 737.8,313.5 763.8,329.7 772.8,334.5 776.8,336.1 778.8,336.1 780.8,334.8 782.8,331.4 785.8,323.9 786.8,322 787.8,321.3 788.8,322.4 789.8,325.7 792.8,338.5 793.8,341.4 795.8,344.8 797.8,346.4 800.8,347.9 813.8,353.1 818.8,354.6 821.8,354.3 823.8,352.9 827.8,347.6 828.8,346.7 829.8,346.4 831.8,347.8 837.8,357 841.8,361.3 846.8,364.2 854.8,366.9 862.8,369.1 866.8,369.3 869.8,368.4 874.8,365.5 876.8,365.5 878.8,367.1 884.8,374 887.8,376.2 894.8,378.6 902.8,379.8 906.8,379.5 910.8,378.1 913.8,376.2 921.8,369.7 923.8,368.7 925.8,368.3 927.8,369.5 933.8,377.8 934.8,378.5 936.8,378.9 938.8,378.3 940.8,376.8 944.8,371.8 949.8,362.4 958.8,341.2 961.8,335.1 963.8,332 965.8,329.9 967.8,328.9 968.8,328.9 969.8,330 970.8,334.7 974.8,369.3 975.8,376.8 977.8,387 979.8,392.3 981.8,394.8 984.8,396.6 989.8,398.5 998.8,400.7 1009.8,402.5 1017.8,403.3 1022.8,402.9 1025.8,402.1 1028.9,400.5 1031.9,398.3 1038.9,391.8 1040.9,390.5 1042.9,389.9 1043.9,390.1 1044.9,391.3 1048.9,400 1051.9,404 1054.9,405.3 1058.9,405.3 1060.9,404.2 1062.9,400.7 1066.9,385.3 1067.9,383.4 1078.9,382 1082.9,381.2 1087.9,379.3 1099.9,373.2 1102.9,372.3 1105.9,372.3 1107.9,372.8 1108.9,374 1109.9,377 1113.9,395.9 1115.9,402.6 1117.9,406.2 1119.9,407.8 1121.9,408.6 1131.9,410.1 1133.9,410.1 1135.9,409.4 1138.9,406.3 1142.9,399.3 1143.9,398.4 1144.9,398.4 1146.9,398.9 1149.9,400.3 1161.9,408.5 1168.9,411.7 1172.9,412.6 1175.9,412.5 1178.9,411.6 1182.9,409.6 1184.9,409.1 1186.9,409.7 1192.9,414.1 1195.9,415.5 1200.9,416.7 1209.9,417.8 1211.9,417 1212.9,415.7 1213.9,413.7 1217.9,401 1218.9,400.3 1224.9,402.2 1233.9,406.7 1234.9,406.6 1235.9,405.9 1238.9,401.5 1239.9,401.4 1243.9,404.8 1253.9,415 1260.9,420.2 1264.9,422.2 1269.9,424 1285.9,427.4L1285.9,477.5Z"/><clipPath id="c7"><use href="#p7"/></clipPath><path id="p6" d="M34,370.5L34,277.5 38,273.2 42,269.7 49,266.4 56,264.6 71,263.2 84,260.7 93,258.4 95,257.5 97,255.7 99,250.8 100,245.7 104,204.9 105,197.4 106,195.5 107,195.7 109,197.2 112,201.6 115,208.1 125,234.1 129,241.8 132,245.6 138,249.8 144.1,255.6 148.1,258 151.1,258.9 156.1,259.8 168.1,260.4 181.1,260 194.1,258.7 201.1,256.7 204.1,255.2 206.1,253.7 208.1,250.7 209.1,247.8 211.1,238 214.1,219 215.1,216.4 216.1,216.2 218.1,216.7 221.1,219.1 230.1,231.6 234.1,235.8 238.1,237.9 243.1,238.2 249.1,237 258.1,234 284.1,221.9 328.1,205 340.1,201.2 354.2,198.5 358.2,197.2 361.2,195.3 363.2,193.5 372.2,181.7 375.2,179.4 377.2,179.4 379.2,180.9 386.2,191.1 390.2,195 392.2,196 395.2,196.7 398.2,196.7 400.2,196.2 403.2,194.4 405.2,191.9 408.2,184.5 411.2,170.9 416.2,141.6 418.2,134.2 419.2,132.7 420.2,132.8 421.2,134.8 422.2,138.4 427.2,165.8 430.2,177 432.2,180.8 434.2,183.1 437.2,185.5 441.2,187.2 447.2,187.8 477.2,186 491.2,186.9 513.2,190.7 518.2,192.3 530.2,197.3 536.2,198.7 539.2,198.5 541.2,197.8 547.3,194.3 550.3,193.3 552.3,193.4 556.3,194.9 560.3,194.3 561.3,194.8 562.3,196 563.3,198 567.3,208.7 569.3,212.7 572.3,215.9 575.3,216.8 577.3,216.2 579.3,214.5 583.3,209.6 585.3,206 587.3,198.5 590.3,183.4 591.3,180.7 592.3,180.4 593.3,183 594.3,188.1 598.3,217.8 599.3,223.6 601.3,231.3 602.3,233.6 604.3,236.2 615.3,245.3 641.3,263.3 645.3,265.6 647.3,266.2 649.3,265.8 651.3,264 653.3,260.6 657.3,252.2 658.3,251 659.3,250.9 660.3,252.3 661.3,255.7 664.3,269.4 666.3,275.9 668.3,279.5 670.3,281.4 674.3,283.6 678.3,284.4 681.3,283.5 685.3,281.1 687.3,281 689.3,282.9 694.3,290.9 698.3,295.5 704.3,299.5 716.3,305.3 718.3,305.4 720.3,304.2 722.3,301.2 725.3,294.6 726.3,293.1 727.3,292.8 728.3,294.4 731.3,306.9 733.3,313.4 735.3,316.8 737.3,318.7 764.4,335.6 773.4,340.3 777.4,341.8 779.4,341.6 781.4,340 783.4,336.2 786.4,328.6 787.4,327 788.4,326.7 789.4,328.5 793.4,345 795.4,349.5 797.4,351.5 799.4,352.7 814.4,358.8 819.4,360.2 822.4,359.9 824.4,358.7 828.4,354.2 829.4,353.5 830.4,353.4 832.4,355 839.4,364.5 842.4,367.2 845.4,368.9 857.4,373.1 865.4,374.9 869.4,374.4 874.4,371.9 876.4,371.7 878.4,372.9 883.4,378.3 886.4,380.9 890.4,382.8 897.4,384.7 904.4,385.6 907.4,385.4 910.4,384.6 914.4,382.5 922.4,376.2 924.4,375.2 926.4,374.6 927.4,374.7 928.4,375.3 934.4,382.9 935.4,383.6 937.4,384.1 939.4,383.5 941.4,382 943.4,379.7 946.5,375.2 951.5,365.1 959.5,346.1 963.5,338.7 966.5,335.4 968.5,334.6 969.5,334.7 970.5,337.1 971.5,342.8 975.5,377.8 976.5,384.7 978.5,393.9 980.5,398.5 982.5,400.7 985.5,402.4 989.5,403.9 998.5,406.2 1009.5,408.1 1017.5,409 1023.5,408.9 1027.5,407.9 1030.5,406.4 1033.5,404.1 1040.5,397.7 1042.5,396.5 1044.5,396 1045.5,396.3 1046.5,397.6 1050.5,406.1 1052.5,409.1 1055.5,411 1060.5,411.2 1062.5,410.3 1064.5,407.2 1068.5,393.4 1069.5,391.7 1084.5,389.8 1090.5,387.8 1101.5,382.8 1104.5,382.1 1107.5,382.1 1109.5,382.6 1110.5,383.6 1111.5,386.3 1115.5,403.2 1117.5,409.1 1119.5,412.4 1121.5,413.8 1123.5,414.5 1132.5,415.9 1136.5,415.5 1139.5,413 1143.5,406.8 1144.5,405.7 1145.6,405.4 1150.6,407 1162.6,414.5 1166.6,416.5 1170.6,417.8 1173.6,418.4 1176.6,418.3 1185.6,415.3 1187.6,415.9 1193.6,419.9 1196.6,421.2 1201.6,422.4 1211.6,423.7 1213.6,423.2 1215.6,420.7 1219.6,407.5 1220.6,405.6 1222.6,405.8 1225.6,406.8 1233.6,410.9 1235.6,411.6 1236.6,411.4 1237.6,410.5 1240.6,406.3 1241.6,406.7 1244.6,409.3 1256.6,421.6 1262.6,426 1266.6,428 1271.6,429.7 1288.6,433.3L1288.6,477.8Z"/><clipPath id="c6"><use href="#p6"/></clipPath><path id="p5" d="M30.3,370.2L30.3,283.2 34.3,278.9 38.3,275.4 41.3,273.6 46.3,271.6 52.3,270 68.3,268.4 83.3,265.6 92.3,263.3 94.3,262.2 95.3,261.2 97.3,256.4 98.3,251.4 102.3,213 103.3,206.4 104.3,204.9 105.3,205.1 107.3,206.6 110.3,210.9 113.3,217.2 122.3,239.7 127.3,249 130.3,252.3 135.3,255.5 142.3,261.7 145.3,263.4 148.3,264.4 153.3,265.3 159.3,265.7 177.3,265.5 193.3,263.8 197.3,262.7 201.3,260.9 203.3,259.5 205.3,257 207.3,251.1 211.3,228.5 212.3,225.5 213.3,225 215.3,225.2 218.3,227.2 227.3,238.2 231.3,241.9 235.3,243.6 240.3,243.6 247.3,241.8 256.3,238.4 282.3,225.5 303.3,217 313.3,212.4 325.3,207.6 338.3,203.1 352.3,200.2 356.3,198.9 359.3,197.2 361.3,195.5 364.3,192.2 370.3,184.3 372.3,182.4 374.3,181.4 375.3,181.4 377.3,182.4 385.3,192.8 389.3,196 392.3,197 395.3,197.3 398.3,196.8 400.3,196 402.3,194.6 404.3,192.1 407.3,185 410.3,172.5 415.3,146.6 417.3,140.5 418.3,139.5 419.3,139.9 421.3,145.4 426.3,169.5 429.3,178.7 431.3,181.7 433.3,183.6 437.3,186.2 440.3,187.2 446.3,187.7 472.3,186.4 484.3,187 496.3,188.7 511.3,191.9 516.3,193.7 529.3,199.6 535.3,201.4 538.3,201.5 540.3,201.2 547.3,198.4 549.3,198 551.3,198.1 555.3,199.5 559.3,199.6 560.3,200.2 562.3,203.4 566.3,213.2 568.3,216.9 571.3,220.1 573.3,221.2 575.3,221.6 577.3,221.2 579.3,219.9 582.3,216.5 584.3,213.2 586.3,206.7 589.3,192.5 590.3,189.2 591.3,188 592.3,189.4 593.3,193.3 597.3,221.1 598.3,227.1 600.3,235.4 601.3,238 603.3,241 615.3,250.8 641.3,268.9 645.3,271.2 647.3,271.7 649.3,271.3 651.3,269.5 657.3,257.8 658.3,256.8 659.3,256.8 660.3,258.4 661.3,261.9 665.3,278.9 667.3,283.6 670.3,286.9 674.3,289.1 678.3,290 681.3,289.4 685.3,287.7 687.3,287.8 689.3,289.6 695.3,298.2 698.3,301.2 704.3,305 716.3,310.7 718.3,310.8 720.3,309.6 722.3,306.4 725.3,299.9 726.3,298.5 727.3,298.3 728.3,300 731.3,312.6 733.3,319 735.3,322.4 737.3,324.2 764.3,341.1 773.3,345.8 777.3,347.4 779.3,347.4 781.3,345.9 783.3,342.4 786.3,334.7 787.3,332.8 788.3,332 789.3,333 790.3,336.4 792.3,345.5 794.3,352.4 796.3,355.9 798.3,357.5 801.3,359 815.3,364.5 819.3,365.7 822.3,365.8 824.3,365 828.3,361.3 830.3,360.3 832.3,361.5 840.3,371.1 843.3,373.3 846.3,374.8 858.3,378.8 865.3,380.4 869.3,380.2 874.3,378.2 876.3,378 878.3,379 884.3,384.9 887.3,387 891.3,388.7 898.3,390.5 905.3,391.6 911.3,391.4 916.3,390.1 924.3,386.7 928.3,386 930.3,386.8 934.3,389.5 937.3,390.1 939.3,389.5 941.3,388 945.3,383.1 950.3,373.8 959.3,352.7 962.3,346.7 964.3,343.6 966.3,341.4 968.3,340.4 969.3,340.4 970.3,341.4 971.3,345.9 976.3,387.8 978.3,398.1 980.3,403.4 982.3,405.9 985.3,407.8 990.3,409.7 999.3,412 1011.3,414 1019.3,414.9 1025.3,414.8 1028.3,414.1 1031.3,412.7 1035.3,409.8 1042.3,403.6 1044.3,402.4 1046.3,402.1 1047.3,402.7 1048.3,404.2 1052.3,412.6 1054.3,415.3 1057.3,417 1062.3,417.2 1064.3,416.3 1066.3,413.3 1070.3,401.2 1071.3,399.9 1082.3,399 1087.3,398.2 1092.3,396.7 1102.3,392.8 1105.3,392 1108.3,391.9 1111.3,392.4 1112.3,393.5 1113.3,396 1117.3,410.9 1119.3,416 1121.3,418.7 1123.3,419.9 1125.3,420.6 1133.3,421.7 1137.3,421.5 1140.3,419.5 1145.3,413 1146.3,412.5 1147.3,412.6 1152.3,414.3 1165.3,421.6 1171.3,423.6 1174.3,424.2 1177.3,424.2 1186.3,421.6 1188.3,422.1 1194.3,425.8 1197.3,427 1202.3,428.1 1216.3,430.1 1219.3,429.5 1223.3,426.5 1235.3,428.6 1237.3,428.3 1239.3,426 1241.3,422 1242.3,420.9 1246.3,422.4 1258.4,430.6 1265.4,434.1 1273.4,436.3 1291.4,439.4L1291.4,478Z"/><clipPath id="c5"><use href="#p5"/></clipPath><path id="p4" d="M26.6,369.8L26.6,289 30.6,284.6 34.6,281 38.6,278.8 43.6,276.8 49.6,275.3 62.6,274.1 71.6,272.7 88.6,269.3 92.6,267.7 94.6,264.8 96.6,256.7 100.6,222.8 101.6,218.5 102.6,218.2 104.6,219.2 107.6,222.9 110.6,228.6 119.6,249.3 122.6,254.8 124.6,257.6 127.6,260.5 133.6,263.3 140.7,268.5 143.7,269.9 147.7,270.8 158.7,271.6 175.7,271.2 190.7,269.5 194.7,268.4 198.7,266.8 200.7,265.6 202.7,263.5 204.7,258.9 205.7,255 208.7,239.9 209.7,236.7 210.7,235.9 212.7,236 215.7,237.5 224.7,246.5 227.7,248.8 231.7,250.3 236.7,250.2 243.7,248.2 253.7,244.3 279.7,231.2 300.7,222.7 310.7,218.1 323.7,212.8 336.7,208.4 351.7,205.4 355.7,204 360.7,200.5 369.7,189.9 372.7,188 374.7,188.1 376.7,189.6 383.7,198.2 387.7,201.3 390.7,202.2 393.7,202.4 398.7,201.2 400.7,200 402.7,198.1 405.7,192.6 408.8,182.8 414.8,157.4 416.8,153.4 417.8,153.1 418.8,154.1 419.8,156.4 424.8,175.8 427.8,184 428.8,185.5 430.8,187.5 435.8,190.4 438.8,191.5 442.8,192 469.8,190.6 477.8,190.6 485.8,191.4 497.8,193.3 510.8,196.3 515.8,198.1 527.8,203.8 534.8,206.1 539.8,206.3 545.8,204.7 548.8,204.3 550.8,204.5 554.8,205.8 557.8,206 559.8,207.4 560.8,208.9 565.8,219.6 567.8,222.7 570.8,225.5 574.8,227.2 576.8,227.2 578.8,226.5 580.8,224.8 582.8,222.1 584.8,217.4 588.8,200.3 589.8,197.3 590.8,196.3 591.8,197.7 592.8,201.5 597.8,233.4 598.8,237.8 600.8,243.6 601.8,245.3 603.8,247.4 618.8,259 641.8,274.9 644.8,276.6 646.8,277.3 648.8,277.1 650.8,275.6 652.8,272.6 656.8,264.3 657.8,262.9 658.8,262.5 659.8,263.3 660.8,266.1 663.8,279.3 665.8,286.1 667.8,290 670.8,292.8 674.9,294.8 677.9,295.7 680.9,295.5 684.9,294.3 686.9,294.4 688.9,295.8 694.9,303.5 698.9,307.2 708.9,312.8 713.9,315.3 716.9,316.3 718.9,316.1 720.9,314.3 724.9,306.1 725.9,304.4 726.9,303.7 727.9,304.5 728.9,307.6 731.9,320.4 733.9,325.8 736.9,329.4 743.9,334.1 765.9,347.5 773.9,351.6 777.9,353.1 779.9,352.9 781.9,351.1 783.9,347.3 786.9,339.4 787.9,337.7 788.9,337.4 789.9,339.1 793.9,355.9 795.9,360.6 797.9,362.6 801.9,364.7 808.9,367.6 816.9,370.5 820.9,371.5 823.9,371.3 825.9,370.2 828.9,367.9 830.9,367.4 832.9,368.6 837.9,374.4 840.9,377.2 844.9,379.6 849.9,381.6 860.9,384.9 865.9,386 869.9,385.8 874.9,384.3 876.9,384.5 878.9,385.7 884.9,391.1 887.9,392.9 893.9,395 903.9,397.2 910.9,398.2 916.9,398.4 932.9,397.8 935.9,397.3 938.9,395.9 940.9,394.4 945,389.7 950,380.9 960,357.7 963,351.8 965,348.9 967,346.9 969,346.1 970,346.2 971,348.4 972,354 976,388.8 977,395.7 979,405 981,409.6 983,411.9 986,413.6 991,415.5 1001,417.9 1013,419.9 1021,420.8 1027,420.6 1030,419.9 1033,418.5 1036,416.5 1044,409.5 1046,408.4 1048,408.1 1049,408.8 1050,410.4 1054,418.7 1056,421.3 1059,422.9 1064,423.1 1066,422.4 1068,419.9 1072,409.3 1073,408.2 1088,407 1093,405.9 1105,402.2 1108,401.7 1111,401.8 1113,402.2 1114,403.1 1115,405.2 1119,418.1 1121,422.5 1123,424.9 1126,426.3 1135,427.6 1139,427.2 1142,425.1 1146,420.4 1147,419.7 1148,419.7 1153,421.1 1165,427.1 1172,429.5 1178,430 1187,427.8 1189,428.3 1196,432.1 1200,433.3 1236.1,438.9 1238.1,438.7 1239.1,438.1 1241.1,435.3 1243.1,431.1 1244.1,430.2 1249.1,431.7 1260.1,437.9 1267.1,440.7 1274.1,442.3 1294.1,445.4L1294.1,478.2Z"/><clipPath id="c4"><use href="#p4"/></clipPath><path id="p3" d="M21.6,369.4L21.6,294.7 25.6,290.3 29.6,286.7 33.6,284.4 39.6,282 45.6,280.6 62.6,278.8 86.6,274.8 90.6,273.4 92.6,271 94.6,264.1 98.6,235.4 99.6,231.7 100.6,231.4 102.6,232.4 105.6,235.9 118.6,261.6 122.6,266.8 125.6,268.9 131.6,270.6 139.6,275.4 142.6,276.3 146.6,276.9 155.6,277.3 165.6,277.1 177.6,276.4 186.6,275.3 191.6,274 195.6,272.5 198.6,270.8 200.6,268.7 202.6,264.3 206.6,248.6 207.6,246.7 209.6,246.3 212.6,247.2 221.7,254 225.7,256.1 227.7,256.5 230.7,256.6 236.7,255.2 252.7,248.9 277.7,236.2 297.7,228.2 307.7,223.5 320.7,218.3 334.7,213.6 349.7,210.9 354.7,209.4 359.7,206.3 368.7,197.3 371.7,195.8 372.7,195.8 374.7,196.6 382.7,204.5 386.7,206.8 391.7,207.5 394.7,206.9 397.7,205.9 401.7,202.9 404.7,198.3 407.7,190.3 413.7,170 415.7,166.7 416.7,166.4 417.7,167.2 418.7,169 423.7,184 425.7,188.6 426.7,190.1 428.7,192 433.7,194.3 437.7,195.7 441.7,196.3 470.7,194.6 478.7,194.9 487.7,196 508.7,200.4 513.7,202.3 526.7,208.5 534.7,211.4 538.7,211.9 547.7,211 556.7,213.1 558.7,214.4 559.7,215.7 564.7,225.3 566.7,228.1 569.7,230.8 574.7,233.3 576.7,233.6 578.7,233.2 580.7,231.9 581.7,230.7 583.7,227 584.7,224.1 588.7,210.1 589.7,208.6 590.7,209.1 592.7,216 597.7,243.1 598.7,246.4 600.7,250.7 603.7,253.7 615.7,262.8 639.7,279.6 645.7,283.1 647.7,283.6 649.7,283.2 652.7,280.2 656.7,273.7 657.7,272.7 658.7,272.3 659.7,273 660.7,275.4 663.7,286.6 665.7,292.5 667.7,295.9 670.7,298.5 674.7,300.6 677.7,301.5 680.7,301.7 685.7,301.1 687.7,301.8 694.7,309.4 698.7,312.8 706.7,317.3 716.7,321.9 718.7,322 720.7,320.7 724.7,314.3 725.7,312.9 726.7,312.3 727.7,313.1 731.7,326.7 732.7,329.5 734.7,332.9 739.7,336.9 759.7,349.2 773.7,356.8 777.7,358.4 779.7,358.6 781.7,357.5 782.7,356.4 786.7,348.2 787.7,346.5 788.7,345.7 789.7,346.3 790.7,349.1 794.7,363.4 795.7,365.3 797.7,367.6 800.7,369.2 806.7,371.7 820.7,376.5 824.7,376.4 829.7,373.8 831.7,373.9 833.7,375.4 840.7,382 844.7,384.3 850.7,386.5 865.7,390.7 868.7,390.8 874.7,389.8 876.7,389.9 878.7,391 884.7,395.7 887.8,397.4 892.8,399.2 900.8,401.2 911.8,403.2 921.8,404.4 928.8,404.6 933.8,404 936.8,403 939.8,401.3 942.8,398.9 945.8,395.4 950.8,387.3 962.8,363 964.8,360.1 966.8,358.1 968.8,357 969.8,356.9 970.8,357.3 971.8,360.4 976.8,397.9 977.8,403.7 979.8,411.2 981.8,414.9 983.8,416.8 986.8,418.3 991.8,420 1000.8,422.1 1012.8,424.2 1021.8,425.3 1027.8,425.4 1031.8,424.7 1034.8,423.5 1045.8,416 1047.8,415.1 1049.8,415 1051.8,417.4 1055.8,424.3 1057.8,426.4 1060.8,427.6 1065.8,427.8 1067.8,427.1 1069.8,424.9 1073.8,416 1074.8,415.1 1090.8,414.3 1105.8,410.9 1111.8,410.4 1114.8,410.9 1115.8,411.7 1121.8,426.5 1122.8,428.1 1124.8,430 1127.8,431.2 1135.8,432.3 1139.8,432.2 1142.8,430.6 1146.8,426.6 1148.8,425.7 1153.8,427 1165.8,432.3 1172.8,434.5 1178.8,435.1 1187.8,433.3 1189.8,433.8 1195.8,436.8 1199.8,438 1237.8,444.2 1239.8,444 1240.8,443.4 1244.8,437.3 1245.8,436.9 1249.8,438 1261.8,444 1267.8,446.2 1273.8,447.5 1296.8,451.1L1296.8,478.5Z"/><clipPath id="c3"><use href="#p3"/></clipPath><path id="p2" d="M16.1,368.9L16.1,300.5 21.1,295 25.1,291.6 30.1,289 35.1,287.2 40.1,286.1 53.1,284.9 72.1,281.7 84.1,280.4 87.1,279.8 89.1,278.8 91.1,276.2 92.1,273.5 94.1,263.6 96.1,250.6 97.1,246.1 98.1,244.6 100.1,245.3 103.1,248.2 115.1,269.4 119.1,274.2 122.1,276.2 124.1,276.8 129.1,277.4 138.1,281.7 141.1,282.4 146.1,282.8 158.1,282.9 172.1,282.1 181.1,281.2 188.1,279.5 195.1,276.8 198.1,274.7 200.1,271.6 201.1,269.1 204.1,259.6 205.1,257.6 206.1,257.1 208.1,256.9 210.2,257.3 218.2,261.5 222.2,262.8 226.2,262.9 231.2,261.6 248.2,254.9 273.2,242.1 293.2,234.1 304.2,229 318.2,223.3 332.2,218.8 349.2,216.1 354.2,214.7 359.2,211.9 367.2,205.5 370.2,204.3 373.2,204.8 381.2,210.5 385.2,212.2 390.2,212.3 396.2,210.4 400.2,207.9 403.2,204.4 406.2,198.6 412.2,183.2 414.2,180.3 415.2,179.7 416.2,179.9 418.2,182.5 422.2,191.3 424.2,194.7 425.2,195.8 427.2,197.1 436.2,199.8 440.2,200.4 464.2,198.8 477.2,199.1 489.3,200.8 505.3,204.2 511.3,206.4 524.3,212.8 533.3,216.5 538.3,217.6 547.3,218 556.3,220.8 558.3,222.5 563.3,230.7 566.3,234.4 571.3,238 576.3,240.2 579.3,240 581.3,238.6 582.3,237.2 584.3,233.1 587.3,224.8 588.3,223 589.3,222.6 590.3,223.7 591.3,226.4 595.3,244.4 597.3,251.6 598.3,254.1 600.3,257.3 602.3,259.2 615.3,268.7 642.3,287.6 646.3,289.7 649.3,290.2 652.3,288.8 657.3,284.1 658.3,283.8 659.3,284.2 660.3,285.6 665.3,298.8 667.3,301.8 669.3,303.5 673.3,305.8 677.3,307.4 680.3,307.9 685.3,307.9 687.3,308.6 689.3,310.1 695.3,316 698.3,318.3 716.3,327.6 718.3,328 720.3,327.6 722.3,326 725.3,322.8 726.3,322.4 727.3,322.7 728.3,324.4 732.3,335.2 735.3,339.3 743.3,344.7 764.3,357.2 776.4,363.2 780.4,364.1 782.4,363.3 783.4,362.4 787.4,356.5 788.4,355.5 789.4,355.3 790.4,356.5 793.4,365.3 795.4,369.8 796.4,371.2 798.4,372.8 808.4,377 821.4,381.3 825.4,381.4 829.4,380 831.4,379.8 833.4,380.8 838.4,385.1 841.4,387.1 845.4,389 850.4,390.7 866.4,395.1 869.4,395.3 876.4,394.9 878.4,395.7 884.4,400 887.4,401.5 892.4,403.3 900.4,405.3 911.4,407.3 921.4,408.7 928.4,409.1 934.4,408.7 937.4,408 940.4,406.6 943.4,404.6 946.4,401.7 951.4,395 960.4,379.3 963.4,374.7 965.4,372.3 967.4,370.7 970.4,369.9 971.4,370.5 972.4,373.4 977.4,405.5 978.4,410.3 980.4,416.5 982.4,419.5 984.4,421.1 987.4,422.5 992.4,424 1002.4,426.2 1014.4,428.2 1023.4,429.3 1029.4,429.5 1033.4,429.1 1036.4,428.2 1046.4,423.2 1050.5,422.1 1051.5,422.3 1052.5,423 1056.5,428.3 1059.5,430.8 1062.5,431.7 1066.5,431.9 1068.5,431.7 1070.5,430.7 1072.5,427.9 1075.5,422.3 1076.5,421.6 1091.5,421.3 1108.5,418.7 1114.5,418.7 1116.5,419 1117.5,419.7 1122.5,430 1124.5,433 1126.5,434.6 1129.5,435.7 1137.5,436.7 1141.5,436.5 1144.5,435 1148.5,431.7 1150.5,431.5 1154.5,432.4 1166.5,437.1 1173.5,439.1 1179.5,439.7 1188.5,438.4 1190.5,438.9 1196.5,441.5 1200.5,442.7 1237.5,449.1 1240.5,449.3 1242.5,448.6 1246.5,444 1247.5,443.9 1251.5,445 1262.5,449.7 1269.5,451.9 1299.5,456.8L1299.5,478.7Z"/><clipPath id="c2"><use href="#p2"/></clipPath><path id="p1" d="M10.5,368.5L10.5,306.2 15.5,300.7 19.5,297.3 24.5,294.6 30.6,292.4 35.6,291.4 48.6,290.2 67.6,287 81.6,285.9 86.6,284.9 88.6,283.4 90.6,279 94.6,260.6 95.6,258.2 96.6,258 98.6,258.9 101.6,261.9 109.6,274.4 113.6,279.6 116.6,282.2 119.6,283.7 121.6,284.1 126.6,284 135.6,287.6 143.6,288.5 154.6,288.5 168.6,287.6 176.6,286.8 183.6,285.3 191.6,282.6 196.6,280.3 198.6,278.3 202.6,270.5 203.6,269 204.7,268.5 208.7,268.4 216.7,270.5 219.7,270.4 223.7,269.4 243.7,261 269.7,247.6 290.7,239.1 306.7,231.9 320.7,226.6 331.7,223.6 347.7,221.5 352.7,220.4 357.7,218.4 365.7,213.7 368.7,212.7 371.7,212.9 379.7,216.6 383.8,217.5 387.8,217.3 392.8,215.7 397.8,213.2 400.8,210.9 403.8,207.3 410.8,195.6 412.8,193.7 414.8,193.4 416.8,194.9 421.8,201 424.8,202.6 429.8,202.7 435.8,204.2 439.8,204.6 460.8,203 473.8,203.1 486.8,204.9 503.8,208.6 509.8,211 521.8,217 533.8,222.4 555.8,229.5 557.8,231.2 562.9,237.8 565.9,240.7 572.9,245.2 577.9,247.4 579.9,247.4 581.9,246.2 586.9,238.7 587.9,237.9 588.9,238.1 590.9,241.6 595.9,257.3 597.9,261.3 599.9,263.8 615.9,275.4 643.9,294.8 646.9,296.4 649.9,297.2 651.9,297.1 656.9,295.3 658.9,295.6 660.9,297.9 663.9,303.7 665.9,306.7 667.9,308.6 670.9,310.4 677.9,313.5 686.9,315.4 697.9,323.8 716.9,333.6 719.9,334.2 721.9,333.8 724.9,332.5 726.9,332.6 727.9,333.6 732.9,342.7 736,345.5 760,360 772,366.3 778,369 781,369.7 784,368.7 788,365.2 789,364.9 790,365.1 791,366.4 795,374.6 797,376.9 799,378.1 809,382 821,385.9 825,386.5 830,385.9 832,386 841,391.8 851,395.4 866,399.5 877,400.4 887,405.9 892,407.7 899,409.5 919.1,413.2 928.1,414.4 934.1,414.7 940.1,414.2 946.1,412.1 952.1,407.9 964.1,397 968.1,395.1 971.1,394.9 972.1,395.4 973.1,397.4 978.1,416.7 979.1,419.5 981.1,423.1 983.1,425 985.1,426 995.1,428.7 1017.1,432.5 1031.1,433.7 1038.1,433 1048.1,429.9 1052.1,429.3 1054.1,430 1058.1,433.6 1060.1,434.8 1063.1,435.7 1068.1,436 1070.1,435.9 1072.1,435.2 1074.1,433.3 1077.1,429.2 1078.1,428.7 1093.2,428.9 1110.2,427.5 1116.2,427.7 1119.2,428.6 1124.2,436 1126.2,438.2 1128.2,439.4 1131.2,440.2 1138.2,441 1142.2,441 1145.2,440 1149.2,437.5 1151.2,437.2 1156.2,438.2 1168.2,442.3 1175.2,443.9 1181.2,444.4 1189.2,443.5 1201.2,447.4 1241.2,454.4 1244.2,453.9 1247.2,451.4 1248.2,450.8 1249.2,451 1253.2,452 1264.2,455.8 1270.3,457.3 1302.3,462.4L1302.3,478.9Z"/><clipPath id="c1"><use href="#p1"/></clipPath><path id="p0" d="M5,374L5,312 10,306.4 14,302.9 20,299.7 25,297.9 30,296.8 44,295.5 64,292.3 86,291.7 91,291.2 94,289.4 97,285.3 98,284.3 99,283.9 102,285.4 108,290.8 111,292.2 114,292.8 118,292.7 125,291.5 134,294.2 143,294.6 163,293.5 171,292.8 176,291.9 184,289.7 195,285.9 198,284.2 201,281.3 203,280 206,279.3 212,278.7 217,277.1 241,266.2 259,256.5 266,253.1 287,244.7 296,240.4 307,235.8 322,230.6 331,228.6 352,225.9 367,221.2 371,221.2 380,222.8 383,222.7 386,222.1 392,219.8 398,216.8 402,214.1 409,208.3 412,206.9 414,206.8 421,208.7 429,207.3 438,208.7 462,207 469,207.1 476,207.7 490,210.1 503,213.3 509,216 535,229 574,252.3 638,297.2 646,302.4 651,304.7 659,307.2 665,312.7 670,315.9 678,319.5 687,322.4 698,329.6 717,339.5 720,340.8 725,342 727,342.8 732,348.1 735,350.5 757,363.6 766,368.6 776,373.4 781,375.3 784,375.5 788,374.5 790,374.6 791,375.4 795,380.4 798,382.6 806,385.7 818,389.7 824,391.3 832,392.1 839,395.9 844,397.7 865,403.8 877,405.7 889,411.2 906,415.6 930,420 942,421.7 951,422.1 966,421.4 972,422 974,423.1 979,428.2 982,430 988,431.5 1001,433.8 1020,436.7 1032,437.9 1039,438 1054,436.6 1061,439.3 1065,440 1095,441.9 1140,445.6 1145,445.3 1150,443.2 1152,442.9 1157,443.8 1169,447.1 1176,448.6 1181,449.1 1190,448.6 1201,451.8 1221,455.3 1240,459.1 1245,459.6 1250,457.8 1270,462.7 1291,465.5 1305,468L1303,485Z"/><clipPath id="c0"><use href="#p0"/></clipPath></defs>
<style>.s{fill:none;stroke:#2e2e2e;stroke-width:1.15;stroke-linejoin:round}</style>
<use href="#p37" fill="#fff"/><g clip-path="url(#c37)"><polygon points="338.2,282.7 354.6,225.0 400.8,62.0 405.0,35.0 414.2,-24.3 441.5,-23.5 428.0,35.0 422.0,61.0 384.0,220.0 370.1,278.4" fill="#b5e3f0"/><polygon points="529.0,279.7 535.0,220.0 545.0,120.0 558.0,33.0 563.0,0.0 572.0,-59.3 611.6,-26.7 592.0,30.0 583.0,56.0 571.0,120.0 562.0,222.0 556.7,281.8" fill="#b5e3f0"/><polygon points="600.0,169.8 605.0,110.0 610.0,50.0 615.0,-9.8 639.1,-19.8 634.0,40.0 628.0,110.0 622.9,169.8" fill="#b5e3f0"/><polygon points="676.2,371.0 677.5,311.0 681.6,122.0 682.9,62.0 705.9,62.0 704.0,122.0 698.0,311.0 696.1,371.0" fill="#b5e3f0"/><polygon points="840.8,432.9 838.0,373.0 837.4,360.0 833.5,280.0 818.0,185.0 808.3,125.8 835.6,125.2 840.5,185.0 845.0,240.0 850.0,300.0 851.0,373.0 851.8,433.0" fill="#b5e3f0"/><polygon points="933.7,439.7 914.0,383.0 906.0,360.0 898.0,280.0 880.0,195.0 867.6,136.3 909.4,135.3 915.0,195.0 923.0,280.0 933.0,360.0 944.5,383.0 971.3,436.7" fill="#b5e3f0"/><polygon points="917.3,308.6 930.0,250.0 938.0,213.0 950.7,154.4 959.0,153.0 959.0,213.0 959.0,250.0 959.0,310.0" fill="#b5e3f0"/><polygon points="1002.4,309.5 1010.0,250.0 1015.0,211.0 1022.6,151.5 1037.1,151.1 1034.0,211.0 1032.0,250.0 1028.9,309.9" fill="#b5e3f0"/><polygon points="1035.4,309.8 1040.0,250.0 1043.0,211.0 1047.6,151.2 1063.1,151.1 1060.0,211.0 1058.0,250.0 1054.9,309.9" fill="#b5e3f0"/><polygon points="1200.8,452.3 1180.0,396.0 1170.0,369.0 1127.0,240.0 1108.0,183.1 1132.7,182.0 1148.0,240.0 1189.0,396.0 1204.3,454.0" fill="#b5e3f0"/><polygon points="1144.4,329.7 1150.0,270.0 1153.0,238.0 1158.6,178.3 1189.7,178.1 1186.0,238.0 1184.0,270.0 1180.3,329.9" fill="#b5e3f0"/></g><use href="#p37" class="s"/><use href="#p36" fill="#fff"/><g clip-path="url(#c36)"><polygon points="338.2,282.7 354.6,225.0 400.8,62.0 405.0,35.0 414.2,-24.3 441.5,-23.5 428.0,35.0 422.0,61.0 384.0,220.0 370.1,278.4" fill="#b5e3f0"/><polygon points="529.0,279.7 535.0,220.0 545.0,120.0 558.0,33.0 563.0,0.0 572.0,-59.3 611.6,-26.7 592.0,30.0 583.0,56.0 571.0,120.0 562.0,222.0 556.7,281.8" fill="#b5e3f0"/><polygon points="600.0,169.8 605.0,110.0 610.0,50.0 615.0,-9.8 639.1,-19.8 634.0,40.0 628.0,110.0 622.9,169.8" fill="#b5e3f0"/><polygon points="676.2,371.0 677.5,311.0 681.6,122.0 682.9,62.0 705.9,62.0 704.0,122.0 698.0,311.0 696.1,371.0" fill="#b5e3f0"/><polygon points="840.8,432.9 838.0,373.0 837.4,360.0 833.5,280.0 818.0,185.0 808.3,125.8 835.6,125.2 840.5,185.0 845.0,240.0 850.0,300.0 851.0,373.0 851.8,433.0" fill="#b5e3f0"/><polygon points="933.7,439.7 914.0,383.0 906.0,360.0 898.0,280.0 880.0,195.0 867.6,136.3 909.4,135.3 915.0,195.0 923.0,280.0 933.0,360.0 944.5,383.0 971.3,436.7" fill="#b5e3f0"/><polygon points="917.3,308.6 930.0,250.0 938.0,213.0 950.7,154.4 959.0,153.0 959.0,213.0 959.0,250.0 959.0,310.0" fill="#b5e3f0"/><polygon points="1002.4,309.5 1010.0,250.0 1015.0,211.0 1022.6,151.5 1037.1,151.1 1034.0,211.0 1032.0,250.0 1028.9,309.9" fill="#b5e3f0"/><polygon points="1035.4,309.8 1040.0,250.0 1043.0,211.0 1047.6,151.2 1063.1,151.1 1060.0,211.0 1058.0,250.0 1054.9,309.9" fill="#b5e3f0"/><polygon points="1200.8,452.3 1180.0,396.0 1170.0,369.0 1127.0,240.0 1108.0,183.1 1132.7,182.0 1148.0,240.0 1189.0,396.0 1204.3,454.0" fill="#b5e3f0"/><polygon points="1144.4,329.7 1150.0,270.0 1153.0,238.0 1158.6,178.3 1189.7,178.1 1186.0,238.0 1184.0,270.0 1180.3,329.9" fill="#b5e3f0"/></g><use href="#p36" class="s"/><use href="#p35" fill="#fff"/><g clip-path="url(#c35)"><polygon points="338.2,282.7 354.6,225.0 400.8,62.0 405.0,35.0 414.2,-24.3 441.5,-23.5 428.0,35.0 422.0,61.0 384.0,220.0 370.1,278.4" fill="#b5e3f0"/><polygon points="529.0,279.7 535.0,220.0 545.0,120.0 558.0,33.0 563.0,0.0 572.0,-59.3 611.6,-26.7 592.0,30.0 583.0,56.0 571.0,120.0 562.0,222.0 556.7,281.8" fill="#b5e3f0"/><polygon points="600.0,169.8 605.0,110.0 610.0,50.0 615.0,-9.8 639.1,-19.8 634.0,40.0 628.0,110.0 622.9,169.8" fill="#b5e3f0"/><polygon points="676.2,371.0 677.5,311.0 681.6,122.0 682.9,62.0 705.9,62.0 704.0,122.0 698.0,311.0 696.1,371.0" fill="#b5e3f0"/><polygon points="840.8,432.9 838.0,373.0 837.4,360.0 833.5,280.0 818.0,185.0 808.3,125.8 835.6,125.2 840.5,185.0 845.0,240.0 850.0,300.0 851.0,373.0 851.8,433.0" fill="#b5e3f0"/><polygon points="933.7,439.7 914.0,383.0 906.0,360.0 898.0,280.0 880.0,195.0 867.6,136.3 909.4,135.3 915.0,195.0 923.0,280.0 933.0,360.0 944.5,383.0 971.3,436.7" fill="#b5e3f0"/><polygon points="917.3,308.6 930.0,250.0 938.0,213.0 950.7,154.4 959.0,153.0 959.0,213.0 959.0,250.0 959.0,310.0" fill="#b5e3f0"/><polygon points="1002.4,309.5 1010.0,250.0 1015.0,211.0 1022.6,151.5 1037.1,151.1 1034.0,211.0 1032.0,250.0 1028.9,309.9" fill="#b5e3f0"/><polygon points="1035.4,309.8 1040.0,250.0 1043.0,211.0 1047.6,151.2 1063.1,151.1 1060.0,211.0 1058.0,250.0 1054.9,309.9" fill="#b5e3f0"/><polygon points="1200.8,452.3 1180.0,396.0 1170.0,369.0 1127.0,240.0 1108.0,183.1 1132.7,182.0 1148.0,240.0 1189.0,396.0 1204.3,454.0" fill="#b5e3f0"/><polygon points="1144.4,329.7 1150.0,270.0 1153.0,238.0 1158.6,178.3 1189.7,178.1 1186.0,238.0 1184.0,270.0 1180.3,329.9" fill="#b5e3f0"/></g><use href="#p35" class="s"/><use href="#p34" fill="#fff"/><g clip-path="url(#c34)"><polygon points="338.2,282.7 354.6,225.0 400.8,62.0 405.0,35.0 414.2,-24.3 441.5,-23.5 428.0,35.0 422.0,61.0 384.0,220.0 370.1,278.4" fill="#b5e3f0"/><polygon points="529.0,279.7 535.0,220.0 545.0,120.0 558.0,33.0 563.0,0.0 572.0,-59.3 611.6,-26.7 592.0,30.0 583.0,56.0 571.0,120.0 562.0,222.0 556.7,281.8" fill="#b5e3f0"/><polygon points="600.0,169.8 605.0,110.0 610.0,50.0 615.0,-9.8 639.1,-19.8 634.0,40.0 628.0,110.0 622.9,169.8" fill="#b5e3f0"/><polygon points="676.2,371.0 677.5,311.0 681.6,122.0 682.9,62.0 705.9,62.0 704.0,122.0 698.0,311.0 696.1,371.0" fill="#b5e3f0"/><polygon points="840.8,432.9 838.0,373.0 837.4,360.0 833.5,280.0 818.0,185.0 808.3,125.8 835.6,125.2 840.5,185.0 845.0,240.0 850.0,300.0 851.0,373.0 851.8,433.0" fill="#b5e3f0"/><polygon points="933.7,439.7 914.0,383.0 906.0,360.0 898.0,280.0 880.0,195.0 867.6,136.3 909.4,135.3 915.0,195.0 923.0,280.0 933.0,360.0 944.5,383.0 971.3,436.7" fill="#b5e3f0"/><polygon points="917.3,308.6 930.0,250.0 938.0,213.0 950.7,154.4 959.0,153.0 959.0,213.0 959.0,250.0 959.0,310.0" fill="#b5e3f0"/><polygon points="1002.4,309.5 1010.0,250.0 1015.0,211.0 1022.6,151.5 1037.1,151.1 1034.0,211.0 1032.0,250.0 1028.9,309.9" fill="#b5e3f0"/><polygon points="1035.4,309.8 1040.0,250.0 1043.0,211.0 1047.6,151.2 1063.1,151.1 1060.0,211.0 1058.0,250.0 1054.9,309.9" fill="#b5e3f0"/><polygon points="1200.8,452.3 1180.0,396.0 1170.0,369.0 1127.0,240.0 1108.0,183.1 1132.7,182.0 1148.0,240.0 1189.0,396.0 1204.3,454.0" fill="#b5e3f0"/><polygon points="1144.4,329.7 1150.0,270.0 1153.0,238.0 1158.6,178.3 1189.7,178.1 1186.0,238.0 1184.0,270.0 1180.3,329.9" fill="#b5e3f0"/></g><use href="#p34" class="s"/><use href="#p33" fill="#fff"/><g clip-path="url(#c33)"><polygon points="181.2,343.7 195.7,285.5 212.0,220.0 221.0,199.0 232.0,169.0 246.0,152.0 258.0,150.0 274.0,113.0 297.8,57.9 315.5,53.4 293.0,109.0 248.0,220.0 224.5,274.5 200.7,329.6" fill="#e9bfe0"/><polygon points="338.2,282.7 354.6,225.0 400.8,62.0 405.0,35.0 414.2,-24.3 441.5,-23.5 428.0,35.0 422.0,61.0 384.0,220.0 370.1,278.4" fill="#b5e3f0"/><polygon points="394.7,275.5 402.6,216.0 414.0,130.0 431.0,20.0 437.0,0.0 454.2,-57.5 482.6,-2.4 469.0,56.0 433.0,211.0 419.4,269.4" fill="#e9bfe0"/><polygon points="529.0,279.7 535.0,220.0 545.0,120.0 558.0,33.0 563.0,0.0 572.0,-59.3 611.6,-26.7 592.0,30.0 583.0,56.0 571.0,120.0 562.0,222.0 556.7,281.8" fill="#b5e3f0"/><polygon points="600.0,169.8 605.0,110.0 610.0,50.0 615.0,-9.8 639.1,-19.8 634.0,40.0 628.0,110.0 622.9,169.8" fill="#b5e3f0"/><polygon points="621.8,369.7 628.0,310.0 647.0,126.0 653.2,66.3 678.3,66.1 675.5,126.0 667.0,310.0 664.2,369.9" fill="#e9bfe0"/><polygon points="676.2,371.0 677.5,311.0 681.6,122.0 682.9,62.0 705.9,62.0 704.0,122.0 698.0,311.0 696.1,371.0" fill="#b5e3f0"/><polygon points="840.8,432.9 838.0,373.0 837.4,360.0 833.5,280.0 818.0,185.0 808.3,125.8 835.6,125.2 840.5,185.0 845.0,240.0 850.0,300.0 851.0,373.0 851.8,433.0" fill="#b5e3f0"/><polygon points="933.7,439.7 914.0,383.0 906.0,360.0 898.0,280.0 880.0,195.0 867.6,136.3 909.4,135.3 915.0,195.0 923.0,280.0 933.0,360.0 944.5,383.0 971.3,436.7" fill="#b5e3f0"/><polygon points="917.3,308.6 930.0,250.0 938.0,213.0 950.7,154.4 959.0,153.0 959.0,213.0 959.0,250.0 959.0,310.0" fill="#b5e3f0"/><polygon points="1002.4,309.5 1010.0,250.0 1015.0,211.0 1022.6,151.5 1037.1,151.1 1034.0,211.0 1032.0,250.0 1028.9,309.9" fill="#b5e3f0"/><polygon points="1035.4,309.8 1040.0,250.0 1043.0,211.0 1047.6,151.2 1063.1,151.1 1060.0,211.0 1058.0,250.0 1054.9,309.9" fill="#b5e3f0"/><polygon points="1159.9,504.5 1152.0,445.0 1148.0,415.0 1131.0,369.0 1117.0,318.0 1107.0,257.0 1097.3,197.8 1103.8,200.9 1125.0,257.0 1148.0,318.0 1170.0,380.0 1178.0,415.0 1182.0,445.0 1189.9,504.5" fill="#e9bfe0"/><polygon points="1200.8,452.3 1180.0,396.0 1170.0,369.0 1127.0,240.0 1108.0,183.1 1132.7,182.0 1148.0,240.0 1189.0,396.0 1204.3,454.0" fill="#b5e3f0"/><polygon points="1144.4,329.7 1150.0,270.0 1153.0,238.0 1158.6,178.3 1189.7,178.1 1186.0,238.0 1184.0,270.0 1180.3,329.9" fill="#b5e3f0"/><polygon points="1244.3,527.4 1236.0,468.0 1228.0,411.0 1216.0,345.0 1184.0,266.0 1161.5,210.4 1330.0,206.0 1330.0,266.0 1330.0,468.0 1330.0,528.0" fill="#e9bfe0"/></g><use href="#p33" class="s"/><use href="#p32" fill="#fff"/><g clip-path="url(#c32)"><polygon points="181.2,343.7 195.7,285.5 212.0,220.0 221.0,199.0 232.0,169.0 246.0,152.0 258.0,150.0 274.0,113.0 297.8,57.9 315.5,53.4 293.0,109.0 248.0,220.0 224.5,274.5 200.7,329.6" fill="#e9bfe0"/><polygon points="338.2,282.7 354.6,225.0 400.8,62.0 417.2,4.3 427.8,1.3 422.0,61.0 416.3,119.5 384.0,220.0 365.6,277.1" fill="#ae8cc2"/><polygon points="394.7,275.5 402.6,216.0 414.0,130.0 431.0,20.0 437.0,0.0 454.2,-57.5 482.6,-2.4 469.0,56.0 433.0,211.0 419.4,269.4" fill="#e9bfe0"/><polygon points="529.0,279.7 535.0,220.0 545.0,120.0 558.0,33.0 563.0,0.0 572.0,-59.3 611.6,-26.7 592.0,30.0 583.0,56.0 571.0,120.0 562.0,222.0 556.7,281.8" fill="#b5e3f0"/><polygon points="600.0,169.8 605.0,110.0 610.0,50.0 615.0,-9.8 639.1,-19.8 634.0,40.0 628.0,110.0 622.9,169.8" fill="#b5e3f0"/><polygon points="621.8,369.7 628.0,310.0 647.0,126.0 653.2,66.3 678.3,66.1 675.5,126.0 667.0,310.0 664.2,369.9" fill="#e9bfe0"/><polygon points="676.2,371.0 677.5,311.0 681.6,122.0 682.9,62.0 705.9,62.0 704.0,122.0 698.0,311.0 696.1,371.0" fill="#b5e3f0"/><polygon points="712.8,404.0 714.0,344.0 716.0,240.0 722.0,171.0 727.2,111.2 745.0,111.0 745.0,171.0 745.0,240.0 744.5,344.0 744.2,404.0" fill="#e9bfe0"/><polygon points="774.2,452.0 774.0,392.0 773.5,198.0 773.3,138.0 796.7,138.0 796.5,198.0 796.0,392.0 795.8,452.0" fill="#e9bfe0"/><polygon points="840.8,432.9 838.0,373.0 837.4,360.0 833.5,280.0 818.0,185.0 808.3,125.8 835.6,125.2 840.5,185.0 845.0,240.0 850.0,300.0 851.0,373.0 851.8,433.0" fill="#b5e3f0"/><polygon points="933.7,439.7 914.0,383.0 906.0,360.0 898.0,280.0 880.0,195.0 867.6,136.3 909.4,135.3 915.0,195.0 923.0,280.0 933.0,360.0 944.5,383.0 971.3,436.7" fill="#b5e3f0"/><polygon points="917.3,308.6 930.0,250.0 938.0,213.0 950.7,154.4 959.0,153.0 959.0,213.0 959.0,250.0 959.0,310.0" fill="#b5e3f0"/><polygon points="1002.4,309.5 1010.0,250.0 1015.0,211.0 1022.6,151.5 1037.1,151.1 1034.0,211.0 1032.0,250.0 1028.9,309.9" fill="#b5e3f0"/><polygon points="1035.4,309.8 1040.0,250.0 1043.0,211.0 1047.6,151.2 1063.1,151.1 1060.0,211.0 1058.0,250.0 1054.9,309.9" fill="#b5e3f0"/><polygon points="1093.7,437.0 1075.0,380.0 1052.0,310.0 1030.0,232.0 1013.7,174.3 1073.9,175.7 1088.0,234.0 1104.0,300.0 1121.0,370.0 1125.0,395.0 1134.5,454.2" fill="#ae8cc2"/><polygon points="1159.9,504.5 1152.0,445.0 1148.0,415.0 1131.0,369.0 1117.0,318.0 1107.0,257.0 1097.3,197.8 1103.8,200.9 1125.0,257.0 1148.0,318.0 1170.0,380.0 1178.0,415.0 1182.0,445.0 1189.9,504.5" fill="#e9bfe0"/><polygon points="1200.8,452.3 1180.0,396.0 1170.0,369.0 1127.0,240.0 1108.0,183.1 1132.7,182.0 1148.0,240.0 1189.0,396.0 1204.3,454.0" fill="#b5e3f0"/><polygon points="1144.4,329.7 1150.0,270.0 1153.0,238.0 1158.6,178.3 1189.7,178.1 1186.0,238.0 1184.0,270.0 1180.3,329.9" fill="#b5e3f0"/><polygon points="1244.3,527.4 1236.0,468.0 1228.0,411.0 1216.0,345.0 1184.0,266.0 1161.5,210.4 1330.0,206.0 1330.0,266.0 1330.0,468.0 1330.0,528.0" fill="#e9bfe0"/><polygon points="1248.2,465.0 1222.0,411.0 1190.0,345.0 1162.0,262.0 1142.8,205.1 1161.5,210.4 1184.0,266.0 1216.0,345.0 1240.0,411.0 1260.5,467.4" fill="#ae8cc2"/></g><use href="#p32" class="s"/><use href="#p31" fill="#fff"/><g clip-path="url(#c31)"><polygon points="81.3,352.4 90.0,293.0 100.0,225.0 110.0,160.0 124.0,119.0 131.0,100.0 151.7,43.7 230.8,62.4 206.0,117.0 126.0,293.0 101.2,347.6" fill="#e9bfe0"/><polygon points="181.2,343.7 195.7,285.5 212.0,220.0 221.0,199.0 232.0,169.0 246.0,152.0 258.0,150.0 274.0,113.0 297.8,57.9 315.5,53.4 293.0,109.0 248.0,220.0 224.5,274.5 200.7,329.6" fill="#e9bfe0"/><polygon points="338.2,282.7 354.6,225.0 400.8,62.0 417.2,4.3 427.8,1.3 422.0,61.0 416.3,119.5 384.0,220.0 365.6,277.1" fill="#ae8cc2"/><polygon points="394.7,275.5 402.6,216.0 414.0,130.0 431.0,20.0 437.0,0.0 454.2,-57.5 482.6,-2.4 469.0,56.0 433.0,211.0 419.4,269.4" fill="#e9bfe0"/><polygon points="529.0,279.7 535.0,220.0 545.0,120.0 558.0,33.0 563.0,0.0 572.0,-59.3 611.6,-26.7 592.0,30.0 583.0,56.0 571.0,120.0 562.0,222.0 556.7,281.8" fill="#b5e3f0"/><polygon points="593.1,310.0 594.0,250.0 596.0,120.0 600.0,60.0 604.0,0.1 629.6,-9.9 627.0,50.0 624.0,120.0 610.0,240.0 603.0,299.6" fill="#ae8cc2"/><polygon points="600.0,169.8 605.0,110.0 610.0,50.0 615.0,-9.8 639.1,-19.8 634.0,40.0 628.0,110.0 622.9,169.8" fill="#b5e3f0"/><polygon points="621.8,369.7 628.0,310.0 647.0,126.0 653.2,66.3 678.3,66.1 675.5,126.0 667.0,310.0 664.2,369.9" fill="#e9bfe0"/><polygon points="676.2,371.0 677.5,311.0 681.6,122.0 682.9,62.0 705.9,62.0 704.0,122.0 698.0,311.0 696.1,371.0" fill="#b5e3f0"/><polygon points="712.8,404.0 714.0,344.0 716.0,240.0 722.0,171.0 727.2,111.2 745.0,111.0 745.0,171.0 745.0,240.0 744.5,344.0 744.2,404.0" fill="#e9bfe0"/><polygon points="774.2,452.0 774.0,392.0 773.5,198.0 773.3,138.0 796.7,138.0 796.5,198.0 796.0,392.0 795.8,452.0" fill="#e9bfe0"/><polygon points="840.8,432.9 838.0,373.0 837.4,360.0 833.5,280.0 818.0,185.0 808.3,125.8 835.6,125.2 840.5,185.0 845.0,240.0 850.0,300.0 851.0,373.0 851.8,433.0" fill="#b5e3f0"/><polygon points="933.7,439.7 914.0,383.0 906.0,360.0 898.0,280.0 880.0,195.0 867.6,136.3 909.4,135.3 915.0,195.0 923.0,280.0 933.0,360.0 944.5,383.0 971.3,436.7" fill="#b5e3f0"/><polygon points="981.5,482.6 959.0,427.0 944.0,390.0 921.0,243.0 911.7,183.7 971.3,161.0 972.0,221.0 974.0,390.0 977.0,427.0 981.8,486.8" fill="#e9bfe0"/><polygon points="1002.4,309.5 1010.0,250.0 1015.0,211.0 1022.6,151.5 1037.1,151.1 1034.0,211.0 1032.0,250.0 1028.9,309.9" fill="#b5e3f0"/><polygon points="1035.4,309.8 1040.0,250.0 1043.0,211.0 1047.6,151.2 1063.1,151.1 1060.0,211.0 1058.0,250.0 1054.9,309.9" fill="#b5e3f0"/><polygon points="1093.7,437.0 1075.0,380.0 1052.0,310.0 1030.0,232.0 1013.7,174.3 1073.9,175.7 1088.0,234.0 1104.0,300.0 1121.0,370.0 1125.0,395.0 1134.5,454.2" fill="#ae8cc2"/><polygon points="1159.9,504.5 1152.0,445.0 1148.0,415.0 1131.0,369.0 1117.0,318.0 1107.0,257.0 1097.3,197.8 1103.8,200.9 1125.0,257.0 1148.0,318.0 1170.0,380.0 1178.0,415.0 1182.0,445.0 1189.9,504.5" fill="#e9bfe0"/><polygon points="1200.8,452.3 1180.0,396.0 1170.0,369.0 1127.0,240.0 1108.0,183.1 1132.7,182.0 1148.0,240.0 1189.0,396.0 1204.3,454.0" fill="#b5e3f0"/><polygon points="1244.3,527.4 1236.0,468.0 1228.0,411.0 1216.0,345.0 1184.0,266.0 1161.5,210.4 1330.0,206.0 1330.0,266.0 1330.0,468.0 1330.0,528.0" fill="#e9bfe0"/><polygon points="1248.2,465.0 1222.0,411.0 1190.0,345.0 1162.0,262.0 1142.8,205.1 1161.5,210.4 1184.0,266.0 1216.0,345.0 1240.0,411.0 1260.5,467.4" fill="#ae8cc2"/></g><use href="#p31" class="s"/><use href="#p30" fill="#fff"/><g clip-path="url(#c30)"><polygon points="81.3,352.4 90.0,293.0 100.0,225.0 110.0,160.0 124.0,119.0 131.0,100.0 151.7,43.7 230.8,62.4 206.0,117.0 126.0,293.0 101.2,347.6" fill="#e9bfe0"/><polygon points="181.2,343.7 195.7,285.5 212.0,220.0 221.0,199.0 232.0,169.0 246.0,152.0 258.0,150.0 274.0,113.0 297.8,57.9 315.5,53.4 293.0,109.0 248.0,220.0 224.5,274.5 200.7,329.6" fill="#e9bfe0"/><polygon points="338.2,282.7 354.6,225.0 400.8,62.0 417.2,4.3 427.8,1.3 422.0,61.0 416.3,119.5 384.0,220.0 365.6,277.1" fill="#ae8cc2"/><polygon points="394.7,275.5 402.6,216.0 414.0,130.0 431.0,20.0 437.0,0.0 454.2,-57.5 482.6,-2.4 469.0,56.0 433.0,211.0 419.4,269.4" fill="#e9bfe0"/><polygon points="529.0,279.7 535.0,220.0 545.0,120.0 558.0,33.0 563.0,0.0 572.0,-59.3 611.6,-26.7 592.0,30.0 583.0,56.0 571.0,120.0 562.0,222.0 556.7,281.8" fill="#b5e3f0"/><polygon points="557.1,304.9 560.0,245.0 566.0,120.0 580.0,73.0 597.1,15.5 604.8,10.2 600.0,70.0 596.0,120.0 594.0,250.0 593.1,310.0" fill="#e9bfe0"/><polygon points="593.1,310.0 594.0,250.0 596.0,120.0 600.0,60.0 604.0,0.1 629.6,-9.9 627.0,50.0 624.0,120.0 610.0,240.0 603.0,299.6" fill="#ae8cc2"/><polygon points="600.0,169.8 605.0,110.0 610.0,50.0 615.0,-9.8 639.1,-19.8 634.0,40.0 628.0,110.0 622.9,169.8" fill="#b5e3f0"/><polygon points="621.8,369.7 628.0,310.0 647.0,126.0 653.2,66.3 678.3,66.1 675.5,126.0 667.0,310.0 664.2,369.9" fill="#e9bfe0"/><polygon points="676.2,371.0 677.5,311.0 681.6,122.0 682.9,62.0 705.9,62.0 704.0,122.0 698.0,311.0 696.1,371.0" fill="#b5e3f0"/><polygon points="712.8,404.0 714.0,344.0 716.0,240.0 722.0,171.0 727.2,111.2 745.0,111.0 745.0,171.0 745.0,240.0 744.5,344.0 744.2,404.0" fill="#e9bfe0"/><polygon points="774.2,452.0 774.0,392.0 773.5,198.0 773.3,138.0 796.7,138.0 796.5,198.0 796.0,392.0 795.8,452.0" fill="#e9bfe0"/><polygon points="840.8,432.9 838.0,373.0 837.4,360.0 833.5,280.0 818.0,185.0 808.3,125.8 835.6,125.2 840.5,185.0 845.0,240.0 850.0,300.0 851.0,373.0 851.8,433.0" fill="#b5e3f0"/><polygon points="878.1,475.9 874.0,416.0 861.0,226.0 856.9,166.1 882.4,166.4 889.0,226.0 895.0,280.0 908.0,416.0 913.7,475.7" fill="#e9bfe0"/><polygon points="933.7,439.7 914.0,383.0 906.0,360.0 898.0,280.0 880.0,195.0 867.6,136.3 909.4,135.3 915.0,195.0 923.0,280.0 933.0,360.0 944.5,383.0 971.3,436.7" fill="#b5e3f0"/><polygon points="981.5,482.6 959.0,427.0 944.0,390.0 921.0,243.0 911.7,183.7 971.3,161.0 972.0,221.0 974.0,390.0 977.0,427.0 981.8,486.8" fill="#e9bfe0"/><polygon points="1050.0,499.7 1044.0,440.0 1040.0,400.0 1022.0,320.0 1004.0,245.0 990.0,186.7 1013.7,174.3 1030.0,232.0 1052.0,310.0 1075.0,380.0 1080.0,440.0 1085.0,499.8" fill="#e9bfe0"/><polygon points="1093.7,437.0 1075.0,380.0 1052.0,310.0 1030.0,232.0 1013.7,174.3 1073.9,175.7 1088.0,234.0 1104.0,300.0 1121.0,370.0 1125.0,395.0 1134.5,454.2" fill="#ae8cc2"/><polygon points="1159.9,504.5 1152.0,445.0 1148.0,415.0 1131.0,369.0 1117.0,318.0 1107.0,257.0 1097.3,197.8 1103.8,200.9 1125.0,257.0 1148.0,318.0 1170.0,380.0 1178.0,415.0 1182.0,445.0 1189.9,504.5" fill="#e9bfe0"/><polygon points="1200.8,452.3 1180.0,396.0 1170.0,369.0 1127.0,240.0 1108.0,183.1 1132.7,182.0 1148.0,240.0 1189.0,396.0 1204.3,454.0" fill="#b5e3f0"/><polygon points="1244.3,527.4 1236.0,468.0 1228.0,411.0 1216.0,345.0 1184.0,266.0 1161.5,210.4 1330.0,206.0 1330.0,266.0 1330.0,468.0 1330.0,528.0" fill="#e9bfe0"/><polygon points="1248.2,465.0 1222.0,411.0 1190.0,345.0 1162.0,262.0 1142.8,205.1 1161.5,210.4 1184.0,266.0 1216.0,345.0 1240.0,411.0 1260.5,467.4" fill="#ae8cc2"/></g><use href="#p30" class="s"/><use href="#p29" fill="#fff"/><g clip-path="url(#c29)"><polygon points="81.3,352.4 90.0,293.0 100.0,225.0 110.0,160.0 124.0,119.0 131.0,100.0 151.7,43.7 230.8,62.4 206.0,117.0 126.0,293.0 101.2,347.6" fill="#e9bfe0"/><polygon points="181.2,343.7 195.7,285.5 212.0,220.0 221.0,199.0 232.0,169.0 246.0,152.0 258.0,150.0 274.0,113.0 297.8,57.9 315.5,53.4 293.0,109.0 248.0,220.0 224.5,274.5 200.7,329.6" fill="#e9bfe0"/><polygon points="338.2,282.7 354.6,225.0 400.8,62.0 417.2,4.3 427.8,1.3 422.0,61.0 416.3,119.5 384.0,220.0 365.6,277.1" fill="#ae8cc2"/><polygon points="394.7,275.5 402.6,216.0 414.0,130.0 431.0,20.0 437.0,0.0 454.2,-57.5 482.6,-2.4 469.0,56.0 433.0,211.0 419.4,269.4" fill="#e9bfe0"/><polygon points="529.0,279.7 535.0,220.0 545.0,120.0 558.0,33.0 563.0,0.0 572.0,-59.3 611.6,-26.7 592.0,30.0 583.0,56.0 571.0,120.0 562.0,222.0 556.7,281.8" fill="#b5e3f0"/><polygon points="557.1,304.9 560.0,245.0 566.0,120.0 580.0,73.0 597.1,15.5 604.8,10.2 600.0,70.0 596.0,120.0 594.0,250.0 593.1,310.0" fill="#e9bfe0"/><polygon points="593.1,310.0 594.0,250.0 596.0,120.0 600.0,60.0 604.0,0.1 629.6,-9.9 627.0,50.0 624.0,120.0 610.0,240.0 603.0,299.6" fill="#ae8cc2"/><polygon points="621.8,369.7 628.0,310.0 647.0,126.0 653.2,66.3 678.3,66.1 675.5,126.0 667.0,310.0 664.2,369.9" fill="#e9bfe0"/><polygon points="676.2,371.0 677.5,311.0 681.6,122.0 682.9,62.0 705.9,62.0 704.0,122.0 698.0,311.0 696.1,371.0" fill="#b5e3f0"/><polygon points="712.8,404.0 714.0,344.0 716.0,240.0 722.0,171.0 727.2,111.2 745.0,111.0 745.0,171.0 745.0,240.0 744.5,344.0 744.2,404.0" fill="#e9bfe0"/><polygon points="774.2,452.0 774.0,392.0 773.5,198.0 773.3,138.0 796.7,138.0 796.5,198.0 796.0,392.0 795.8,452.0" fill="#e9bfe0"/><polygon points="840.8,432.9 838.0,373.0 837.4,360.0 833.5,280.0 818.0,185.0 808.3,125.8 835.6,125.2 840.5,185.0 845.0,240.0 850.0,300.0 851.0,373.0 851.8,433.0" fill="#b5e3f0"/><polygon points="878.1,475.9 874.0,416.0 861.0,226.0 856.9,166.1 882.4,166.4 889.0,226.0 895.0,280.0 908.0,416.0 913.7,475.7" fill="#e9bfe0"/><polygon points="933.7,439.7 914.0,383.0 906.0,360.0 898.0,280.0 880.0,195.0 867.6,136.3 909.4,135.3 915.0,195.0 923.0,280.0 933.0,360.0 944.5,383.0 971.3,436.7" fill="#b5e3f0"/><polygon points="981.5,482.6 959.0,427.0 944.0,390.0 921.0,243.0 911.7,183.7 971.3,161.0 972.0,221.0 974.0,390.0 977.0,427.0 981.8,486.8" fill="#e9bfe0"/><polygon points="1050.0,499.7 1044.0,440.0 1040.0,400.0 1022.0,320.0 1004.0,245.0 990.0,186.7 1013.7,174.3 1030.0,232.0 1052.0,310.0 1075.0,380.0 1080.0,440.0 1085.0,499.8" fill="#e9bfe0"/><polygon points="1093.7,437.0 1075.0,380.0 1052.0,310.0 1030.0,232.0 1013.7,174.3 1073.9,175.7 1088.0,234.0 1104.0,300.0 1121.0,370.0 1125.0,395.0 1134.5,454.2" fill="#ae8cc2"/><polygon points="1159.9,504.5 1152.0,445.0 1148.0,415.0 1131.0,369.0 1117.0,318.0 1107.0,257.0 1097.3,197.8 1103.8,200.9 1125.0,257.0 1148.0,318.0 1170.0,380.0 1178.0,415.0 1182.0,445.0 1189.9,504.5" fill="#e9bfe0"/><polygon points="1200.8,452.3 1180.0,396.0 1170.0,369.0 1127.0,240.0 1108.0,183.1 1132.7,182.0 1148.0,240.0 1189.0,396.0 1204.3,454.0" fill="#b5e3f0"/><polygon points="1244.3,527.4 1236.0,468.0 1228.0,411.0 1216.0,345.0 1184.0,266.0 1161.5,210.4 1330.0,206.0 1330.0,266.0 1330.0,468.0 1330.0,528.0" fill="#e9bfe0"/><polygon points="1248.2,465.0 1222.0,411.0 1190.0,345.0 1162.0,262.0 1142.8,205.1 1161.5,210.4 1184.0,266.0 1216.0,345.0 1240.0,411.0 1260.5,467.4" fill="#ae8cc2"/></g><use href="#p29" class="s"/><use href="#p28" fill="#fff"/><g clip-path="url(#c28)"><polygon points="81.3,352.4 90.0,293.0 100.0,225.0 110.0,160.0 124.0,119.0 131.0,100.0 151.7,43.7 230.8,62.4 206.0,117.0 126.0,293.0 101.2,347.6" fill="#e9bfe0"/><polygon points="181.2,343.7 195.7,285.5 212.0,220.0 221.0,199.0 232.0,169.0 246.0,152.0 258.0,150.0 274.0,113.0 297.8,57.9 315.5,53.4 293.0,109.0 248.0,220.0 224.5,274.5 200.7,329.6" fill="#e9bfe0"/><polygon points="338.2,282.7 354.6,225.0 400.8,62.0 417.2,4.3 427.8,1.3 422.0,61.0 416.3,119.5 384.0,220.0 365.6,277.1" fill="#ae8cc2"/><polygon points="394.7,275.5 402.6,216.0 414.0,130.0 431.0,20.0 437.0,0.0 454.2,-57.5 482.6,-2.4 469.0,56.0 433.0,211.0 419.4,269.4" fill="#e9bfe0"/><polygon points="529.0,279.7 535.0,220.0 545.0,120.0 558.0,33.0 563.0,0.0 572.0,-59.3 611.6,-26.7 592.0,30.0 583.0,56.0 571.0,120.0 562.0,222.0 556.7,281.8" fill="#b5e3f0"/><polygon points="557.1,304.9 560.0,245.0 566.0,120.0 580.0,73.0 597.1,15.5 604.8,10.2 600.0,70.0 596.0,120.0 594.0,250.0 593.1,310.0" fill="#e9bfe0"/><polygon points="593.1,310.0 594.0,250.0 596.0,120.0 600.0,60.0 604.0,0.1 629.6,-9.9 627.0,50.0 624.0,120.0 610.0,240.0 603.0,299.6" fill="#ae8cc2"/><polygon points="621.8,369.7 628.0,310.0 647.0,126.0 653.2,66.3 678.3,66.1 675.5,126.0 667.0,310.0 664.2,369.9" fill="#e9bfe0"/><polygon points="676.2,371.0 677.5,311.0 681.6,122.0 682.9,62.0 705.9,62.0 704.0,122.0 698.0,311.0 696.1,371.0" fill="#b5e3f0"/><polygon points="712.8,404.0 714.0,344.0 716.0,240.0 722.0,171.0 727.2,111.2 745.0,111.0 745.0,171.0 745.0,240.0 744.5,344.0 744.2,404.0" fill="#e9bfe0"/><polygon points="774.2,452.0 774.0,392.0 773.5,198.0 773.3,138.0 796.7,138.0 796.5,198.0 796.0,392.0 795.8,452.0" fill="#e9bfe0"/><polygon points="826.7,467.9 823.0,408.0 820.0,360.0 818.0,280.0 810.0,210.0 803.2,150.4 823.3,150.2 828.0,210.0 833.5,280.0 839.0,360.0 841.0,408.0 843.5,467.9" fill="#e9bfe0"/><polygon points="840.8,432.9 838.0,373.0 837.4,360.0 833.5,280.0 818.0,185.0 808.3,125.8 835.6,125.2 840.5,185.0 845.0,240.0 850.0,300.0 851.0,373.0 851.8,433.0" fill="#b5e3f0"/><polygon points="878.1,475.9 874.0,416.0 861.0,226.0 856.9,166.1 882.4,166.4 889.0,226.0 895.0,280.0 908.0,416.0 913.7,475.7" fill="#e9bfe0"/><polygon points="933.7,439.7 914.0,383.0 906.0,360.0 898.0,280.0 880.0,195.0 867.6,136.3 909.4,135.3 915.0,195.0 923.0,280.0 933.0,360.0 944.5,383.0 971.3,436.7" fill="#b5e3f0"/><polygon points="981.5,482.6 959.0,427.0 944.0,390.0 921.0,243.0 911.7,183.7 971.3,161.0 972.0,221.0 974.0,390.0 977.0,427.0 981.8,486.8" fill="#e9bfe0"/><polygon points="1050.0,499.7 1044.0,440.0 1040.0,400.0 1022.0,320.0 1004.0,245.0 990.0,186.7 1013.7,174.3 1030.0,232.0 1052.0,310.0 1075.0,380.0 1080.0,440.0 1085.0,499.8" fill="#e9bfe0"/><polygon points="1093.7,437.0 1075.0,380.0 1052.0,310.0 1030.0,232.0 1013.7,174.3 1073.9,175.7 1088.0,234.0 1104.0,300.0 1121.0,370.0 1125.0,395.0 1134.5,454.2" fill="#ae8cc2"/><polygon points="1159.9,504.5 1152.0,445.0 1148.0,415.0 1131.0,369.0 1117.0,318.0 1107.0,257.0 1097.3,197.8 1103.8,200.9 1125.0,257.0 1148.0,318.0 1170.0,380.0 1178.0,415.0 1182.0,445.0 1189.9,504.5" fill="#e9bfe0"/><polygon points="1200.8,452.3 1180.0,396.0 1170.0,369.0 1127.0,240.0 1108.0,183.1 1132.7,182.0 1148.0,240.0 1189.0,396.0 1204.3,454.0" fill="#b5e3f0"/><polygon points="1244.3,527.4 1236.0,468.0 1228.0,411.0 1216.0,345.0 1184.0,266.0 1161.5,210.4 1330.0,206.0 1330.0,266.0 1330.0,468.0 1330.0,528.0" fill="#e9bfe0"/><polygon points="1248.2,465.0 1222.0,411.0 1190.0,345.0 1162.0,262.0 1142.8,205.1 1161.5,210.4 1184.0,266.0 1216.0,345.0 1240.0,411.0 1260.5,467.4" fill="#ae8cc2"/></g><use href="#p28" class="s"/><use href="#p27" fill="#fff"/><g clip-path="url(#c27)"><polygon points="81.3,352.4 90.0,293.0 100.0,225.0 110.0,160.0 124.0,119.0 131.0,100.0 151.7,43.7 230.8,62.4 206.0,117.0 126.0,293.0 101.2,347.6" fill="#e9bfe0"/><polygon points="181.2,343.7 195.7,285.5 212.0,220.0 221.0,199.0 232.0,169.0 246.0,152.0 258.0,150.0 274.0,113.0 297.8,57.9 315.5,53.4 293.0,109.0 248.0,220.0 224.5,274.5 200.7,329.6" fill="#e9bfe0"/><polygon points="338.2,282.7 354.6,225.0 400.8,62.0 417.2,4.3 427.8,1.3 422.0,61.0 416.3,119.5 384.0,220.0 365.6,277.1" fill="#ae8cc2"/><polygon points="394.7,275.5 402.6,216.0 414.0,130.0 431.0,20.0 437.0,0.0 454.2,-57.5 482.6,-2.4 469.0,56.0 433.0,211.0 419.4,269.4" fill="#e9bfe0"/><polygon points="529.0,279.7 535.0,220.0 545.0,120.0 558.0,33.0 563.0,0.0 572.0,-59.3 611.6,-26.7 592.0,30.0 583.0,56.0 571.0,120.0 562.0,222.0 556.7,281.8" fill="#b5e3f0"/><polygon points="557.1,304.9 560.0,245.0 566.0,120.0 580.0,73.0 597.1,15.5 604.8,10.2 600.0,70.0 596.0,120.0 594.0,250.0 593.1,310.0" fill="#e9bfe0"/><polygon points="593.1,310.0 594.0,250.0 596.0,120.0 600.0,60.0 604.0,0.1 629.6,-9.9 627.0,50.0 624.0,120.0 610.0,240.0 603.0,299.6" fill="#ae8cc2"/><polygon points="621.8,369.7 628.0,310.0 647.0,126.0 653.2,66.3 678.3,66.1 675.5,126.0 667.0,310.0 664.2,369.9" fill="#e9bfe0"/><polygon points="676.2,371.0 677.5,311.0 681.6,122.0 682.9,62.0 705.9,62.0 704.0,122.0 698.0,311.0 696.1,371.0" fill="#b5e3f0"/><polygon points="712.8,404.0 714.0,344.0 716.0,240.0 722.0,171.0 727.2,111.2 745.0,111.0 745.0,171.0 745.0,240.0 744.5,344.0 744.2,404.0" fill="#e9bfe0"/><polygon points="774.2,452.0 774.0,392.0 773.5,198.0 773.3,138.0 796.7,138.0 796.5,198.0 796.0,392.0 795.8,452.0" fill="#e9bfe0"/><polygon points="826.7,467.9 823.0,408.0 820.0,360.0 818.0,280.0 810.0,210.0 803.2,150.4 823.3,150.2 828.0,210.0 833.5,280.0 839.0,360.0 841.0,408.0 843.5,467.9" fill="#e9bfe0"/><polygon points="840.8,432.9 838.0,373.0 837.4,360.0 833.5,280.0 818.0,185.0 808.3,125.8 835.6,125.2 840.5,185.0 845.0,240.0 850.0,300.0 851.0,373.0 851.8,433.0" fill="#b5e3f0"/><polygon points="878.1,475.9 874.0,416.0 861.0,226.0 856.9,166.1 882.4,166.4 889.0,226.0 895.0,280.0 908.0,416.0 913.7,475.7" fill="#e9bfe0"/><polygon points="933.7,439.7 914.0,383.0 906.0,360.0 898.0,280.0 880.0,195.0 867.6,136.3 909.4,135.3 915.0,195.0 923.0,280.0 933.0,360.0 944.5,383.0 971.3,436.7" fill="#b5e3f0"/><polygon points="981.5,482.6 959.0,427.0 944.0,390.0 921.0,243.0 911.7,183.7 971.3,161.0 972.0,221.0 974.0,390.0 977.0,427.0 981.8,486.8" fill="#e9bfe0"/><polygon points="1050.0,499.7 1044.0,440.0 1040.0,400.0 1022.0,320.0 1004.0,245.0 990.0,186.7 1013.7,174.3 1030.0,232.0 1052.0,310.0 1075.0,380.0 1080.0,440.0 1085.0,499.8" fill="#e9bfe0"/><polygon points="1093.7,437.0 1075.0,380.0 1052.0,310.0 1030.0,232.0 1013.7,174.3 1073.9,175.7 1088.0,234.0 1104.0,300.0 1121.0,370.0 1125.0,395.0 1134.5,454.2" fill="#ae8cc2"/><polygon points="1159.9,504.5 1152.0,445.0 1148.0,415.0 1131.0,369.0 1117.0,318.0 1107.0,257.0 1097.3,197.8 1103.8,200.9 1125.0,257.0 1148.0,318.0 1170.0,380.0 1178.0,415.0 1182.0,445.0 1189.9,504.5" fill="#e9bfe0"/><polygon points="1200.8,452.3 1180.0,396.0 1170.0,369.0 1127.0,240.0 1108.0,183.1 1132.7,182.0 1148.0,240.0 1189.0,396.0 1204.3,454.0" fill="#b5e3f0"/><polygon points="1244.3,527.4 1236.0,468.0 1228.0,411.0 1216.0,345.0 1184.0,266.0 1161.5,210.4 1330.0,206.0 1330.0,266.0 1330.0,468.0 1330.0,528.0" fill="#e9bfe0"/><polygon points="1248.2,465.0 1222.0,411.0 1190.0,345.0 1162.0,262.0 1142.8,205.1 1161.5,210.4 1184.0,266.0 1216.0,345.0 1240.0,411.0 1260.5,467.4" fill="#ae8cc2"/></g><use href="#p27" class="s"/><use href="#p26" fill="#fff"/><g clip-path="url(#c26)"><polygon points="81.3,352.4 90.0,293.0 100.0,225.0 110.0,160.0 124.0,119.0 131.0,100.0 151.7,43.7 230.8,62.4 206.0,117.0 126.0,293.0 101.2,347.6" fill="#e9bfe0"/><polygon points="181.2,343.7 195.7,285.5 212.0,220.0 221.0,199.0 232.0,169.0 246.0,152.0 258.0,150.0 274.0,113.0 297.8,57.9 315.5,53.4 293.0,109.0 248.0,220.0 224.5,274.5 200.7,329.6" fill="#e9bfe0"/><polygon points="338.2,282.7 354.6,225.0 400.8,62.0 417.2,4.3 427.8,1.3 422.0,61.0 416.3,119.5 384.0,220.0 365.6,277.1" fill="#ae8cc2"/><polygon points="394.7,275.5 402.6,216.0 414.0,130.0 431.0,20.0 437.0,0.0 454.2,-57.5 482.6,-2.4 469.0,56.0 433.0,211.0 419.4,269.4" fill="#e9bfe0"/><polygon points="529.0,279.7 535.0,220.0 545.0,120.0 558.0,33.0 563.0,0.0 572.0,-59.3 611.6,-26.7 592.0,30.0 583.0,56.0 571.0,120.0 562.0,222.0 556.7,281.8" fill="#b5e3f0"/><polygon points="557.1,304.9 560.0,245.0 566.0,120.0 580.0,73.0 597.1,15.5 604.8,10.2 600.0,70.0 596.0,120.0 594.0,250.0 593.1,310.0" fill="#e9bfe0"/><polygon points="593.1,310.0 594.0,250.0 596.0,120.0 600.0,60.0 604.0,0.1 629.6,-9.9 627.0,50.0 624.0,120.0 610.0,240.0 603.0,299.6" fill="#ae8cc2"/><polygon points="621.8,369.7 628.0,310.0 647.0,126.0 653.2,66.3 678.3,66.1 675.5,126.0 667.0,310.0 664.2,369.9" fill="#e9bfe0"/><polygon points="676.2,371.0 677.5,311.0 681.6,122.0 682.9,62.0 705.9,62.0 704.0,122.0 698.0,311.0 696.1,371.0" fill="#b5e3f0"/><polygon points="712.8,404.0 714.0,344.0 716.0,240.0 722.0,171.0 727.2,111.2 745.0,111.0 745.0,171.0 745.0,240.0 744.5,344.0 744.2,404.0" fill="#e9bfe0"/><polygon points="774.2,452.0 774.0,392.0 773.5,198.0 773.3,138.0 796.7,138.0 796.5,198.0 796.0,392.0 795.8,452.0" fill="#e9bfe0"/><polygon points="826.7,467.9 823.0,408.0 820.0,360.0 818.0,280.0 810.0,210.0 803.2,150.4 823.3,150.2 828.0,210.0 833.5,280.0 839.0,360.0 841.0,408.0 843.5,467.9" fill="#e9bfe0"/><polygon points="840.8,432.9 838.0,373.0 837.4,360.0 833.5,280.0 818.0,185.0 808.3,125.8 835.6,125.2 840.5,185.0 845.0,240.0 850.0,300.0 851.0,373.0 851.8,433.0" fill="#b5e3f0"/><polygon points="878.1,475.9 874.0,416.0 861.0,226.0 856.9,166.1 882.4,166.4 889.0,226.0 895.0,280.0 908.0,416.0 913.7,475.7" fill="#e9bfe0"/><polygon points="933.7,439.7 914.0,383.0 906.0,360.0 898.0,280.0 880.0,195.0 867.6,136.3 909.4,135.3 915.0,195.0 923.0,280.0 933.0,360.0 944.5,383.0 971.3,436.7" fill="#b5e3f0"/><polygon points="981.5,482.6 959.0,427.0 944.0,390.0 921.0,243.0 911.7,183.7 971.3,161.0 972.0,221.0 974.0,390.0 977.0,427.0 981.8,486.8" fill="#e9bfe0"/><polygon points="1050.0,499.7 1044.0,440.0 1040.0,400.0 1022.0,320.0 1004.0,245.0 990.0,186.7 1013.7,174.3 1030.0,232.0 1052.0,310.0 1075.0,380.0 1080.0,440.0 1085.0,499.8" fill="#e9bfe0"/><polygon points="1093.7,437.0 1075.0,380.0 1052.0,310.0 1030.0,232.0 1013.7,174.3 1073.9,175.7 1088.0,234.0 1104.0,300.0 1121.0,370.0 1125.0,395.0 1134.5,454.2" fill="#ae8cc2"/><polygon points="1159.9,504.5 1152.0,445.0 1148.0,415.0 1131.0,369.0 1117.0,318.0 1107.0,257.0 1097.3,197.8 1103.8,200.9 1125.0,257.0 1148.0,318.0 1170.0,380.0 1178.0,415.0 1182.0,445.0 1189.9,504.5" fill="#e9bfe0"/><polygon points="1200.8,452.3 1180.0,396.0 1170.0,369.0 1127.0,240.0 1108.0,183.1 1132.7,182.0 1148.0,240.0 1189.0,396.0 1204.3,454.0" fill="#b5e3f0"/><polygon points="1244.3,527.4 1236.0,468.0 1228.0,411.0 1216.0,345.0 1184.0,266.0 1161.5,210.4 1330.0,206.0 1330.0,266.0 1330.0,468.0 1330.0,528.0" fill="#e9bfe0"/><polygon points="1248.2,465.0 1222.0,411.0 1190.0,345.0 1162.0,262.0 1142.8,205.1 1161.5,210.4 1184.0,266.0 1216.0,345.0 1240.0,411.0 1260.5,467.4" fill="#ae8cc2"/></g><use href="#p26" class="s"/><use href="#p25" fill="#fff"/><g clip-path="url(#c25)"><polygon points="81.3,352.4 90.0,293.0 100.0,225.0 110.0,160.0 124.0,119.0 131.0,100.0 151.7,43.7 230.8,62.4 206.0,117.0 126.0,293.0 101.2,347.6" fill="#e9bfe0"/><polygon points="181.2,343.7 195.7,285.5 212.0,220.0 221.0,199.0 232.0,169.0 246.0,152.0 258.0,150.0 274.0,113.0 297.8,57.9 315.5,53.4 293.0,109.0 248.0,220.0 224.5,274.5 200.7,329.6" fill="#e9bfe0"/><polygon points="338.2,282.7 354.6,225.0 400.8,62.0 417.2,4.3 427.8,1.3 422.0,61.0 416.3,119.5 384.0,220.0 365.6,277.1" fill="#ae8cc2"/><polygon points="394.7,275.5 402.6,216.0 414.0,130.0 431.0,20.0 437.0,0.0 454.2,-57.5 482.6,-2.4 469.0,56.0 433.0,211.0 419.4,269.4" fill="#e9bfe0"/><polygon points="529.0,279.7 535.0,220.0 545.0,120.0 558.0,33.0 563.0,0.0 572.0,-59.3 611.6,-26.7 592.0,30.0 583.0,56.0 571.0,120.0 562.0,222.0 556.7,281.8" fill="#b5e3f0"/><polygon points="557.1,304.9 560.0,245.0 566.0,120.0 580.0,73.0 597.1,15.5 604.8,10.2 600.0,70.0 596.0,120.0 594.0,250.0 593.1,310.0" fill="#e9bfe0"/><polygon points="593.1,310.0 594.0,250.0 596.0,120.0 600.0,60.0 604.0,0.1 629.6,-9.9 627.0,50.0 624.0,120.0 610.0,240.0 603.0,299.6" fill="#ae8cc2"/><polygon points="621.8,369.7 628.0,310.0 647.0,126.0 653.2,66.3 678.3,66.1 675.5,126.0 667.0,310.0 664.2,369.9" fill="#e9bfe0"/><polygon points="676.2,371.0 677.5,311.0 681.6,122.0 682.9,62.0 705.9,62.0 704.0,122.0 698.0,311.0 696.1,371.0" fill="#b5e3f0"/><polygon points="712.8,404.0 714.0,344.0 716.0,240.0 722.0,171.0 727.2,111.2 745.0,111.0 745.0,171.0 745.0,240.0 744.5,344.0 744.2,404.0" fill="#e9bfe0"/><polygon points="774.2,452.0 774.0,392.0 773.5,198.0 773.3,138.0 796.7,138.0 796.5,198.0 796.0,392.0 795.8,452.0" fill="#e9bfe0"/><polygon points="826.7,467.9 823.0,408.0 820.0,360.0 818.0,280.0 810.0,210.0 803.2,150.4 823.3,150.2 828.0,210.0 833.5,280.0 839.0,360.0 841.0,408.0 843.5,467.9" fill="#e9bfe0"/><polygon points="840.8,432.9 838.0,373.0 837.4,360.0 833.5,280.0 818.0,185.0 808.3,125.8 835.6,125.2 840.5,185.0 845.0,240.0 850.0,300.0 851.0,373.0 851.8,433.0" fill="#b5e3f0"/><polygon points="878.1,475.9 874.0,416.0 861.0,226.0 856.9,166.1 882.4,166.4 889.0,226.0 895.0,280.0 908.0,416.0 913.7,475.7" fill="#e9bfe0"/><polygon points="933.7,439.7 914.0,383.0 906.0,360.0 898.0,280.0 880.0,195.0 867.6,136.3 909.4,135.3 915.0,195.0 923.0,280.0 933.0,360.0 944.5,383.0 971.3,436.7" fill="#b5e3f0"/><polygon points="981.5,482.6 959.0,427.0 944.0,390.0 921.0,243.0 911.7,183.7 971.3,161.0 972.0,221.0 974.0,390.0 977.0,427.0 981.8,486.8" fill="#e9bfe0"/><polygon points="1050.0,499.7 1044.0,440.0 1040.0,400.0 1022.0,320.0 1004.0,245.0 990.0,186.7 1013.7,174.3 1030.0,232.0 1052.0,310.0 1075.0,380.0 1080.0,440.0 1085.0,499.8" fill="#e9bfe0"/><polygon points="1093.7,437.0 1075.0,380.0 1052.0,310.0 1030.0,232.0 1013.7,174.3 1073.9,175.7 1088.0,234.0 1104.0,300.0 1121.0,370.0 1125.0,395.0 1134.5,454.2" fill="#ae8cc2"/><polygon points="1159.9,504.5 1152.0,445.0 1148.0,415.0 1131.0,369.0 1117.0,318.0 1107.0,257.0 1097.3,197.8 1103.8,200.9 1125.0,257.0 1148.0,318.0 1170.0,380.0 1178.0,415.0 1182.0,445.0 1189.9,504.5" fill="#e9bfe0"/><polygon points="1200.8,452.3 1180.0,396.0 1170.0,369.0 1127.0,240.0 1108.0,183.1 1132.7,182.0 1148.0,240.0 1189.0,396.0 1204.3,454.0" fill="#b5e3f0"/><polygon points="1244.3,527.4 1236.0,468.0 1228.0,411.0 1216.0,345.0 1184.0,266.0 1161.5,210.4 1330.0,206.0 1330.0,266.0 1330.0,468.0 1330.0,528.0" fill="#e9bfe0"/><polygon points="1248.2,465.0 1222.0,411.0 1190.0,345.0 1162.0,262.0 1142.8,205.1 1161.5,210.4 1184.0,266.0 1216.0,345.0 1240.0,411.0 1260.5,467.4" fill="#ae8cc2"/></g><use href="#p25" class="s"/><use href="#p24" fill="#fff"/><g clip-path="url(#c24)"><polygon points="81.3,352.4 90.0,293.0 100.0,225.0 110.0,160.0 124.0,119.0 131.0,100.0 151.7,43.7 230.8,62.4 206.0,117.0 126.0,293.0 101.2,347.6" fill="#e9bfe0"/><polygon points="181.2,343.7 195.7,285.5 212.0,220.0 221.0,199.0 232.0,169.0 246.0,152.0 258.0,150.0 274.0,113.0 297.8,57.9 315.5,53.4 293.0,109.0 248.0,220.0 224.5,274.5 200.7,329.6" fill="#e9bfe0"/><polygon points="338.2,282.7 354.6,225.0 400.8,62.0 417.2,4.3 427.8,1.3 422.0,61.0 416.3,119.5 384.0,220.0 365.6,277.1" fill="#ae8cc2"/><polygon points="394.7,275.5 402.6,216.0 414.0,130.0 431.0,20.0 437.0,0.0 454.2,-57.5 482.6,-2.4 469.0,56.0 433.0,211.0 419.4,269.4" fill="#e9bfe0"/><polygon points="529.0,279.7 535.0,220.0 545.0,120.0 558.0,33.0 563.0,0.0 572.0,-59.3 611.6,-26.7 592.0,30.0 583.0,56.0 571.0,120.0 562.0,222.0 556.7,281.8" fill="#b5e3f0"/><polygon points="557.1,304.9 560.0,245.0 566.0,120.0 580.0,73.0 597.1,15.5 604.8,10.2 600.0,70.0 596.0,120.0 594.0,250.0 593.1,310.0" fill="#e9bfe0"/><polygon points="593.1,310.0 594.0,250.0 596.0,120.0 600.0,60.0 604.0,0.1 629.6,-9.9 627.0,50.0 624.0,120.0 610.0,240.0 603.0,299.6" fill="#ae8cc2"/><polygon points="621.8,369.7 628.0,310.0 647.0,126.0 653.2,66.3 678.3,66.1 675.5,126.0 667.0,310.0 664.2,369.9" fill="#e9bfe0"/><polygon points="676.2,371.0 677.5,311.0 681.6,122.0 682.9,62.0 705.9,62.0 704.0,122.0 698.0,311.0 696.1,371.0" fill="#b5e3f0"/><polygon points="712.8,404.0 714.0,344.0 716.0,240.0 722.0,171.0 727.2,111.2 745.0,111.0 745.0,171.0 745.0,240.0 744.5,344.0 744.2,404.0" fill="#e9bfe0"/><polygon points="774.2,452.0 774.0,392.0 773.5,198.0 773.3,138.0 796.7,138.0 796.5,198.0 796.0,392.0 795.8,452.0" fill="#e9bfe0"/><polygon points="826.7,467.9 823.0,408.0 820.0,360.0 818.0,280.0 810.0,210.0 803.2,150.4 823.3,150.2 828.0,210.0 833.5,280.0 839.0,360.0 841.0,408.0 843.5,467.9" fill="#e9bfe0"/><polygon points="840.8,432.9 838.0,373.0 837.4,360.0 833.5,280.0 818.0,185.0 808.3,125.8 835.6,125.2 840.5,185.0 845.0,240.0 850.0,300.0 851.0,373.0 851.8,433.0" fill="#b5e3f0"/><polygon points="878.1,475.9 874.0,416.0 861.0,226.0 856.9,166.1 882.4,166.4 889.0,226.0 895.0,280.0 908.0,416.0 913.7,475.7" fill="#e9bfe0"/><polygon points="933.7,439.7 914.0,383.0 906.0,360.0 898.0,280.0 880.0,195.0 867.6,136.3 909.4,135.3 915.0,195.0 923.0,280.0 933.0,360.0 944.5,383.0 971.3,436.7" fill="#b5e3f0"/><polygon points="981.5,482.6 959.0,427.0 944.0,390.0 921.0,243.0 911.7,183.7 971.3,161.0 972.0,221.0 974.0,390.0 977.0,427.0 981.8,486.8" fill="#e9bfe0"/><polygon points="1050.0,499.7 1044.0,440.0 1040.0,400.0 1022.0,320.0 1004.0,245.0 990.0,186.7 1013.7,174.3 1030.0,232.0 1052.0,310.0 1075.0,380.0 1080.0,440.0 1085.0,499.8" fill="#e9bfe0"/><polygon points="1093.7,437.0 1075.0,380.0 1052.0,310.0 1030.0,232.0 1013.7,174.3 1073.9,175.7 1088.0,234.0 1104.0,300.0 1121.0,370.0 1125.0,395.0 1134.5,454.2" fill="#ae8cc2"/><polygon points="1159.9,504.5 1152.0,445.0 1148.0,415.0 1131.0,369.0 1117.0,318.0 1107.0,257.0 1097.3,197.8 1103.8,200.9 1125.0,257.0 1148.0,318.0 1170.0,380.0 1178.0,415.0 1182.0,445.0 1189.9,504.5" fill="#e9bfe0"/><polygon points="1200.8,452.3 1180.0,396.0 1170.0,369.0 1127.0,240.0 1108.0,183.1 1132.7,182.0 1148.0,240.0 1189.0,396.0 1204.3,454.0" fill="#b5e3f0"/><polygon points="1244.3,527.4 1236.0,468.0 1228.0,411.0 1216.0,345.0 1184.0,266.0 1161.5,210.4 1330.0,206.0 1330.0,266.0 1330.0,468.0 1330.0,528.0" fill="#e9bfe0"/><polygon points="1248.2,465.0 1222.0,411.0 1190.0,345.0 1162.0,262.0 1142.8,205.1 1161.5,210.4 1184.0,266.0 1216.0,345.0 1240.0,411.0 1260.5,467.4" fill="#ae8cc2"/></g><use href="#p24" class="s"/><use href="#p23" fill="#fff"/><g clip-path="url(#c23)"><polygon points="81.3,352.4 90.0,293.0 100.0,225.0 110.0,160.0 124.0,119.0 131.0,100.0 151.7,43.7 230.8,62.4 206.0,117.0 126.0,293.0 101.2,347.6" fill="#e9bfe0"/><polygon points="181.2,343.7 195.7,285.5 212.0,220.0 221.0,199.0 232.0,169.0 246.0,152.0 258.0,150.0 274.0,113.0 297.8,57.9 315.5,53.4 293.0,109.0 248.0,220.0 224.5,274.5 200.7,329.6" fill="#e9bfe0"/><polygon points="338.2,282.7 354.6,225.0 400.8,62.0 417.2,4.3 427.8,1.3 422.0,61.0 416.3,119.5 384.0,220.0 365.6,277.1" fill="#ae8cc2"/><polygon points="394.7,275.5 402.6,216.0 414.0,130.0 431.0,20.0 437.0,0.0 454.2,-57.5 482.6,-2.4 469.0,56.0 433.0,211.0 419.4,269.4" fill="#e9bfe0"/><polygon points="529.0,279.7 535.0,220.0 545.0,120.0 558.0,33.0 563.0,0.0 572.0,-59.3 611.6,-26.7 592.0,30.0 583.0,56.0 571.0,120.0 562.0,222.0 556.7,281.8" fill="#b5e3f0"/><polygon points="557.1,304.9 560.0,245.0 566.0,120.0 580.0,73.0 597.1,15.5 604.8,10.2 600.0,70.0 596.0,120.0 594.0,250.0 593.1,310.0" fill="#e9bfe0"/><polygon points="593.1,310.0 594.0,250.0 596.0,120.0 600.0,60.0 604.0,0.1 629.6,-9.9 627.0,50.0 624.0,120.0 610.0,240.0 603.0,299.6" fill="#ae8cc2"/><polygon points="621.8,369.7 628.0,310.0 647.0,126.0 653.2,66.3 678.3,66.1 675.5,126.0 667.0,310.0 664.2,369.9" fill="#e9bfe0"/><polygon points="676.2,371.0 677.5,311.0 681.6,122.0 682.9,62.0 705.9,62.0 704.0,122.0 698.0,311.0 696.1,371.0" fill="#b5e3f0"/><polygon points="712.8,404.0 714.0,344.0 716.0,240.0 722.0,171.0 727.2,111.2 745.0,111.0 745.0,171.0 745.0,240.0 744.5,344.0 744.2,404.0" fill="#e9bfe0"/><polygon points="774.2,452.0 774.0,392.0 773.5,198.0 773.3,138.0 796.7,138.0 796.5,198.0 796.0,392.0 795.8,452.0" fill="#e9bfe0"/><polygon points="826.7,467.9 823.0,408.0 820.0,360.0 818.0,280.0 810.0,210.0 803.2,150.4 823.3,150.2 828.0,210.0 833.5,280.0 839.0,360.0 841.0,408.0 843.5,467.9" fill="#e9bfe0"/><polygon points="840.8,432.9 838.0,373.0 837.4,360.0 833.5,280.0 818.0,185.0 808.3,125.8 835.6,125.2 840.5,185.0 845.0,240.0 850.0,300.0 851.0,373.0 851.8,433.0" fill="#b5e3f0"/><polygon points="878.1,475.9 874.0,416.0 861.0,226.0 856.9,166.1 882.4,166.4 889.0,226.0 895.0,280.0 908.0,416.0 913.7,475.7" fill="#e9bfe0"/><polygon points="933.7,439.7 914.0,383.0 906.0,360.0 898.0,280.0 880.0,195.0 867.6,136.3 909.4,135.3 915.0,195.0 923.0,280.0 933.0,360.0 944.5,383.0 971.3,436.7" fill="#b5e3f0"/><polygon points="981.5,482.6 959.0,427.0 944.0,390.0 921.0,243.0 911.7,183.7 971.3,161.0 972.0,221.0 974.0,390.0 977.0,427.0 981.8,486.8" fill="#e9bfe0"/><polygon points="1050.0,499.7 1044.0,440.0 1040.0,400.0 1022.0,320.0 1004.0,245.0 990.0,186.7 1013.7,174.3 1030.0,232.0 1052.0,310.0 1075.0,380.0 1080.0,440.0 1085.0,499.8" fill="#e9bfe0"/><polygon points="1093.7,437.0 1075.0,380.0 1052.0,310.0 1030.0,232.0 1013.7,174.3 1073.9,175.7 1088.0,234.0 1104.0,300.0 1121.0,370.0 1125.0,395.0 1134.5,454.2" fill="#ae8cc2"/><polygon points="1159.9,504.5 1152.0,445.0 1148.0,415.0 1131.0,369.0 1117.0,318.0 1107.0,257.0 1097.3,197.8 1103.8,200.9 1125.0,257.0 1148.0,318.0 1170.0,380.0 1178.0,415.0 1182.0,445.0 1189.9,504.5" fill="#e9bfe0"/><polygon points="1200.8,452.3 1180.0,396.0 1170.0,369.0 1127.0,240.0 1108.0,183.1 1132.7,182.0 1148.0,240.0 1189.0,396.0 1204.3,454.0" fill="#b5e3f0"/><polygon points="1244.3,527.4 1236.0,468.0 1228.0,411.0 1216.0,345.0 1184.0,266.0 1161.5,210.4 1330.0,206.0 1330.0,266.0 1330.0,468.0 1330.0,528.0" fill="#e9bfe0"/><polygon points="1248.2,465.0 1222.0,411.0 1190.0,345.0 1162.0,262.0 1142.8,205.1 1161.5,210.4 1184.0,266.0 1216.0,345.0 1240.0,411.0 1260.5,467.4" fill="#ae8cc2"/></g><use href="#p23" class="s"/><use href="#p22" fill="#fff"/><g clip-path="url(#c22)"><polygon points="81.3,352.4 90.0,293.0 100.0,225.0 110.0,160.0 124.0,119.0 131.0,100.0 151.7,43.7 230.8,62.4 206.0,117.0 126.0,293.0 101.2,347.6" fill="#e9bfe0"/><polygon points="181.2,343.7 195.7,285.5 212.0,220.0 221.0,199.0 232.0,169.0 246.0,152.0 258.0,150.0 274.0,113.0 297.8,57.9 315.5,53.4 293.0,109.0 248.0,220.0 224.5,274.5 200.7,329.6" fill="#e9bfe0"/><polygon points="338.2,282.7 354.6,225.0 400.8,62.0 417.2,4.3 427.8,1.3 422.0,61.0 416.3,119.5 384.0,220.0 365.6,277.1" fill="#ae8cc2"/><polygon points="394.7,275.5 402.6,216.0 414.0,130.0 431.0,20.0 437.0,0.0 454.2,-57.5 482.6,-2.4 469.0,56.0 433.0,211.0 419.4,269.4" fill="#e9bfe0"/><polygon points="529.0,279.7 535.0,220.0 545.0,120.0 558.0,33.0 563.0,0.0 572.0,-59.3 611.6,-26.7 592.0,30.0 583.0,56.0 571.0,120.0 562.0,222.0 556.7,281.8" fill="#b5e3f0"/><polygon points="557.1,304.9 560.0,245.0 566.0,120.0 580.0,73.0 597.1,15.5 604.8,10.2 600.0,70.0 596.0,120.0 594.0,250.0 593.1,310.0" fill="#e9bfe0"/><polygon points="593.1,310.0 594.0,250.0 596.0,120.0 600.0,60.0 604.0,0.1 629.6,-9.9 627.0,50.0 624.0,120.0 610.0,240.0 603.0,299.6" fill="#ae8cc2"/><polygon points="621.8,369.7 628.0,310.0 647.0,126.0 653.2,66.3 678.3,66.1 675.5,126.0 667.0,310.0 664.2,369.9" fill="#e9bfe0"/><polygon points="676.2,371.0 677.5,311.0 681.6,122.0 682.9,62.0 705.9,62.0 704.0,122.0 698.0,311.0 696.1,371.0" fill="#b5e3f0"/><polygon points="712.8,404.0 714.0,344.0 716.0,240.0 722.0,171.0 727.2,111.2 745.0,111.0 745.0,171.0 745.0,240.0 744.5,344.0 744.2,404.0" fill="#e9bfe0"/><polygon points="774.2,452.0 774.0,392.0 773.5,198.0 773.3,138.0 796.7,138.0 796.5,198.0 796.0,392.0 795.8,452.0" fill="#e9bfe0"/><polygon points="826.7,467.9 823.0,408.0 820.0,360.0 818.0,280.0 810.0,210.0 803.2,150.4 823.3,150.2 828.0,210.0 833.5,280.0 839.0,360.0 841.0,408.0 843.5,467.9" fill="#e9bfe0"/><polygon points="840.8,432.9 838.0,373.0 837.4,360.0 833.5,280.0 818.0,185.0 808.3,125.8 835.6,125.2 840.5,185.0 845.0,240.0 850.0,300.0 851.0,373.0 851.8,433.0" fill="#b5e3f0"/><polygon points="878.1,475.9 874.0,416.0 861.0,226.0 856.9,166.1 882.4,166.4 889.0,226.0 895.0,280.0 908.0,416.0 913.7,475.7" fill="#e9bfe0"/><polygon points="933.7,439.7 914.0,383.0 906.0,360.0 898.0,280.0 880.0,195.0 867.6,136.3 909.4,135.3 915.0,195.0 923.0,280.0 933.0,360.0 944.5,383.0 971.3,436.7" fill="#b5e3f0"/><polygon points="981.5,482.6 959.0,427.0 944.0,390.0 921.0,243.0 911.7,183.7 971.3,161.0 972.0,221.0 974.0,390.0 977.0,427.0 981.8,486.8" fill="#e9bfe0"/><polygon points="1050.0,499.7 1044.0,440.0 1040.0,400.0 1022.0,320.0 1004.0,245.0 990.0,186.7 1013.7,174.3 1030.0,232.0 1052.0,310.0 1075.0,380.0 1080.0,440.0 1085.0,499.8" fill="#e9bfe0"/><polygon points="1093.7,437.0 1075.0,380.0 1052.0,310.0 1030.0,232.0 1013.7,174.3 1073.9,175.7 1088.0,234.0 1104.0,300.0 1121.0,370.0 1125.0,395.0 1134.5,454.2" fill="#ae8cc2"/><polygon points="1159.9,504.5 1152.0,445.0 1148.0,415.0 1131.0,369.0 1117.0,318.0 1107.0,257.0 1097.3,197.8 1103.8,200.9 1125.0,257.0 1148.0,318.0 1170.0,380.0 1178.0,415.0 1182.0,445.0 1189.9,504.5" fill="#e9bfe0"/><polygon points="1200.8,452.3 1180.0,396.0 1170.0,369.0 1127.0,240.0 1108.0,183.1 1132.7,182.0 1148.0,240.0 1189.0,396.0 1204.3,454.0" fill="#b5e3f0"/><polygon points="1244.3,527.4 1236.0,468.0 1228.0,411.0 1216.0,345.0 1184.0,266.0 1161.5,210.4 1330.0,206.0 1330.0,266.0 1330.0,468.0 1330.0,528.0" fill="#e9bfe0"/><polygon points="1248.2,465.0 1222.0,411.0 1190.0,345.0 1162.0,262.0 1142.8,205.1 1161.5,210.4 1184.0,266.0 1216.0,345.0 1240.0,411.0 1260.5,467.4" fill="#ae8cc2"/></g><use href="#p22" class="s"/><use href="#p21" fill="#fff"/><g clip-path="url(#c21)"><polygon points="81.3,352.4 90.0,293.0 100.0,225.0 110.0,160.0 124.0,119.0 131.0,100.0 151.7,43.7 230.8,62.4 206.0,117.0 126.0,293.0 101.2,347.6" fill="#e9bfe0"/><polygon points="181.2,343.7 195.7,285.5 212.0,220.0 221.0,199.0 232.0,169.0 246.0,152.0 258.0,150.0 274.0,113.0 297.8,57.9 315.5,53.4 293.0,109.0 248.0,220.0 224.5,274.5 200.7,329.6" fill="#e9bfe0"/><polygon points="338.2,282.7 354.6,225.0 400.8,62.0 417.2,4.3 427.8,1.3 422.0,61.0 416.3,119.5 384.0,220.0 365.6,277.1" fill="#ae8cc2"/><polygon points="394.7,275.5 402.6,216.0 414.0,130.0 431.0,20.0 437.0,0.0 454.2,-57.5 482.6,-2.4 469.0,56.0 433.0,211.0 419.4,269.4" fill="#e9bfe0"/><polygon points="529.0,279.7 535.0,220.0 545.0,120.0 558.0,33.0 563.0,0.0 572.0,-59.3 611.6,-26.7 592.0,30.0 583.0,56.0 571.0,120.0 562.0,222.0 556.7,281.8" fill="#b5e3f0"/><polygon points="557.1,304.9 560.0,245.0 566.0,120.0 580.0,73.0 597.1,15.5 604.8,10.2 600.0,70.0 596.0,120.0 594.0,250.0 593.1,310.0" fill="#e9bfe0"/><polygon points="593.1,310.0 594.0,250.0 596.0,120.0 600.0,60.0 604.0,0.1 629.6,-9.9 627.0,50.0 624.0,120.0 610.0,240.0 603.0,299.6" fill="#ae8cc2"/><polygon points="621.8,369.7 628.0,310.0 647.0,126.0 653.2,66.3 678.3,66.1 675.5,126.0 667.0,310.0 664.2,369.9" fill="#e9bfe0"/><polygon points="676.2,371.0 677.5,311.0 681.6,122.0 682.9,62.0 705.9,62.0 704.0,122.0 698.0,311.0 696.1,371.0" fill="#b5e3f0"/><polygon points="712.8,404.0 714.0,344.0 716.0,240.0 722.0,171.0 727.2,111.2 745.0,111.0 745.0,171.0 745.0,240.0 744.5,344.0 744.2,404.0" fill="#e9bfe0"/><polygon points="774.2,452.0 774.0,392.0 773.5,198.0 773.3,138.0 796.7,138.0 796.5,198.0 796.0,392.0 795.8,452.0" fill="#e9bfe0"/><polygon points="826.7,467.9 823.0,408.0 820.0,360.0 818.0,280.0 810.0,210.0 803.2,150.4 823.3,150.2 828.0,210.0 833.5,280.0 839.0,360.0 841.0,408.0 843.5,467.9" fill="#e9bfe0"/><polygon points="840.8,432.9 838.0,373.0 837.4,360.0 833.5,280.0 818.0,185.0 808.3,125.8 835.6,125.2 840.5,185.0 845.0,240.0 850.0,300.0 851.0,373.0 851.8,433.0" fill="#b5e3f0"/><polygon points="878.1,475.9 874.0,416.0 861.0,226.0 856.9,166.1 882.4,166.4 889.0,226.0 895.0,280.0 908.0,416.0 913.7,475.7" fill="#e9bfe0"/><polygon points="933.7,439.7 914.0,383.0 906.0,360.0 898.0,280.0 880.0,195.0 867.6,136.3 909.4,135.3 915.0,195.0 923.0,280.0 933.0,360.0 944.5,383.0 971.3,436.7" fill="#b5e3f0"/><polygon points="981.5,482.6 959.0,427.0 944.0,390.0 921.0,243.0 911.7,183.7 971.3,161.0 972.0,221.0 974.0,390.0 977.0,427.0 981.8,486.8" fill="#e9bfe0"/><polygon points="1050.0,499.7 1044.0,440.0 1040.0,400.0 1022.0,320.0 1004.0,245.0 990.0,186.7 1013.7,174.3 1030.0,232.0 1052.0,310.0 1075.0,380.0 1080.0,440.0 1085.0,499.8" fill="#e9bfe0"/><polygon points="1093.7,437.0 1075.0,380.0 1052.0,310.0 1030.0,232.0 1013.7,174.3 1073.9,175.7 1088.0,234.0 1104.0,300.0 1121.0,370.0 1125.0,395.0 1134.5,454.2" fill="#ae8cc2"/><polygon points="1159.9,504.5 1152.0,445.0 1148.0,415.0 1131.0,369.0 1117.0,318.0 1107.0,257.0 1097.3,197.8 1103.8,200.9 1125.0,257.0 1148.0,318.0 1170.0,380.0 1178.0,415.0 1182.0,445.0 1189.9,504.5" fill="#e9bfe0"/><polygon points="1200.8,452.3 1180.0,396.0 1170.0,369.0 1127.0,240.0 1108.0,183.1 1132.7,182.0 1148.0,240.0 1189.0,396.0 1204.3,454.0" fill="#b5e3f0"/><polygon points="1244.3,527.4 1236.0,468.0 1228.0,411.0 1216.0,345.0 1184.0,266.0 1161.5,210.4 1330.0,206.0 1330.0,266.0 1330.0,468.0 1330.0,528.0" fill="#e9bfe0"/><polygon points="1248.2,465.0 1222.0,411.0 1190.0,345.0 1162.0,262.0 1142.8,205.1 1161.5,210.4 1184.0,266.0 1216.0,345.0 1240.0,411.0 1260.5,467.4" fill="#ae8cc2"/></g><use href="#p21" class="s"/><use href="#p20" fill="#fff"/><g clip-path="url(#c20)"><polygon points="81.3,352.4 90.0,293.0 100.0,225.0 110.0,160.0 124.0,119.0 131.0,100.0 151.7,43.7 230.8,62.4 206.0,117.0 126.0,293.0 101.2,347.6" fill="#e9bfe0"/><polygon points="181.2,343.7 195.7,285.5 212.0,220.0 221.0,199.0 232.0,169.0 246.0,152.0 258.0,150.0 274.0,113.0 297.8,57.9 315.5,53.4 293.0,109.0 248.0,220.0 224.5,274.5 200.7,329.6" fill="#e9bfe0"/><polygon points="338.2,282.7 354.6,225.0 400.8,62.0 417.2,4.3 427.8,1.3 422.0,61.0 416.3,119.5 384.0,220.0 365.6,277.1" fill="#ae8cc2"/><polygon points="394.7,275.5 402.6,216.0 414.0,130.0 431.0,20.0 437.0,0.0 454.2,-57.5 482.6,-2.4 469.0,56.0 433.0,211.0 419.4,269.4" fill="#e9bfe0"/><polygon points="529.0,279.7 535.0,220.0 545.0,120.0 558.0,33.0 563.0,0.0 572.0,-59.3 611.6,-26.7 592.0,30.0 583.0,56.0 571.0,120.0 562.0,222.0 556.7,281.8" fill="#b5e3f0"/><polygon points="557.1,304.9 560.0,245.0 566.0,120.0 580.0,73.0 597.1,15.5 604.8,10.2 600.0,70.0 596.0,120.0 594.0,250.0 593.1,310.0" fill="#e9bfe0"/><polygon points="593.1,310.0 594.0,250.0 596.0,120.0 600.0,60.0 604.0,0.1 629.6,-9.9 627.0,50.0 624.0,120.0 610.0,240.0 603.0,299.6" fill="#ae8cc2"/><polygon points="621.8,369.7 628.0,310.0 647.0,126.0 653.2,66.3 678.3,66.1 675.5,126.0 667.0,310.0 664.2,369.9" fill="#e9bfe0"/><polygon points="676.2,371.0 677.5,311.0 681.6,122.0 682.9,62.0 705.9,62.0 704.0,122.0 698.0,311.0 696.1,371.0" fill="#b5e3f0"/><polygon points="712.8,404.0 714.0,344.0 716.0,240.0 722.0,171.0 727.2,111.2 745.0,111.0 745.0,171.0 745.0,240.0 744.5,344.0 744.2,404.0" fill="#e9bfe0"/><polygon points="774.2,452.0 774.0,392.0 773.5,198.0 773.3,138.0 796.7,138.0 796.5,198.0 796.0,392.0 795.8,452.0" fill="#e9bfe0"/><polygon points="826.7,467.9 823.0,408.0 820.0,360.0 818.0,280.0 810.0,210.0 803.2,150.4 823.3,150.2 828.0,210.0 833.5,280.0 839.0,360.0 841.0,408.0 843.5,467.9" fill="#e9bfe0"/><polygon points="840.8,432.9 838.0,373.0 837.4,360.0 833.5,280.0 818.0,185.0 808.3,125.8 835.6,125.2 840.5,185.0 845.0,240.0 850.0,300.0 851.0,373.0 851.8,433.0" fill="#b5e3f0"/><polygon points="878.1,475.9 874.0,416.0 861.0,226.0 856.9,166.1 882.4,166.4 889.0,226.0 895.0,280.0 908.0,416.0 913.7,475.7" fill="#e9bfe0"/><polygon points="933.7,439.7 914.0,383.0 906.0,360.0 898.0,280.0 880.0,195.0 867.6,136.3 909.4,135.3 915.0,195.0 923.0,280.0 933.0,360.0 944.5,383.0 971.3,436.7" fill="#b5e3f0"/><polygon points="981.5,482.6 959.0,427.0 944.0,390.0 921.0,243.0 911.7,183.7 971.3,161.0 972.0,221.0 974.0,390.0 977.0,427.0 981.8,486.8" fill="#e9bfe0"/><polygon points="1050.0,499.7 1044.0,440.0 1040.0,400.0 1022.0,320.0 1004.0,245.0 990.0,186.7 1013.7,174.3 1030.0,232.0 1052.0,310.0 1075.0,380.0 1080.0,440.0 1085.0,499.8" fill="#e9bfe0"/><polygon points="1093.7,437.0 1075.0,380.0 1052.0,310.0 1030.0,232.0 1013.7,174.3 1073.9,175.7 1088.0,234.0 1104.0,300.0 1121.0,370.0 1125.0,395.0 1134.5,454.2" fill="#ae8cc2"/><polygon points="1159.9,504.5 1152.0,445.0 1148.0,415.0 1131.0,369.0 1117.0,318.0 1107.0,257.0 1097.3,197.8 1103.8,200.9 1125.0,257.0 1148.0,318.0 1170.0,380.0 1178.0,415.0 1182.0,445.0 1189.9,504.5" fill="#e9bfe0"/><polygon points="1200.8,452.3 1180.0,396.0 1170.0,369.0 1127.0,240.0 1108.0,183.1 1132.7,182.0 1148.0,240.0 1189.0,396.0 1204.3,454.0" fill="#b5e3f0"/><polygon points="1244.3,527.4 1236.0,468.0 1228.0,411.0 1216.0,345.0 1184.0,266.0 1161.5,210.4 1330.0,206.0 1330.0,266.0 1330.0,468.0 1330.0,528.0" fill="#e9bfe0"/><polygon points="1248.2,465.0 1222.0,411.0 1190.0,345.0 1162.0,262.0 1142.8,205.1 1161.5,210.4 1184.0,266.0 1216.0,345.0 1240.0,411.0 1260.5,467.4" fill="#ae8cc2"/></g><use href="#p20" class="s"/><use href="#p19" fill="#fff"/><g clip-path="url(#c19)"><polygon points="81.3,352.4 90.0,293.0 100.0,225.0 110.0,160.0 124.0,119.0 131.0,100.0 151.7,43.7 230.8,62.4 206.0,117.0 126.0,293.0 101.2,347.6" fill="#e9bfe0"/><polygon points="181.2,343.7 195.7,285.5 212.0,220.0 221.0,199.0 232.0,169.0 246.0,152.0 258.0,150.0 274.0,113.0 297.8,57.9 315.5,53.4 293.0,109.0 248.0,220.0 224.5,274.5 200.7,329.6" fill="#e9bfe0"/><polygon points="338.2,282.7 354.6,225.0 400.8,62.0 417.2,4.3 427.8,1.3 422.0,61.0 416.3,119.5 384.0,220.0 365.6,277.1" fill="#ae8cc2"/><polygon points="394.7,275.5 402.6,216.0 414.0,130.0 431.0,20.0 437.0,0.0 454.2,-57.5 482.6,-2.4 469.0,56.0 433.0,211.0 419.4,269.4" fill="#e9bfe0"/><polygon points="529.0,279.7 535.0,220.0 545.0,120.0 558.0,33.0 563.0,0.0 572.0,-59.3 611.6,-26.7 592.0,30.0 583.0,56.0 571.0,120.0 562.0,222.0 556.7,281.8" fill="#b5e3f0"/><polygon points="557.1,304.9 560.0,245.0 566.0,120.0 580.0,73.0 597.1,15.5 604.8,10.2 600.0,70.0 596.0,120.0 594.0,250.0 593.1,310.0" fill="#e9bfe0"/><polygon points="593.1,310.0 594.0,250.0 596.0,120.0 600.0,60.0 604.0,0.1 629.6,-9.9 627.0,50.0 624.0,120.0 610.0,240.0 603.0,299.6" fill="#ae8cc2"/><polygon points="621.8,369.7 628.0,310.0 647.0,126.0 653.2,66.3 678.3,66.1 675.5,126.0 667.0,310.0 664.2,369.9" fill="#e9bfe0"/><polygon points="676.2,371.0 677.5,311.0 681.6,122.0 682.9,62.0 705.9,62.0 704.0,122.0 698.0,311.0 696.1,371.0" fill="#b5e3f0"/><polygon points="712.8,404.0 714.0,344.0 716.0,240.0 722.0,171.0 727.2,111.2 745.0,111.0 745.0,171.0 745.0,240.0 744.5,344.0 744.2,404.0" fill="#e9bfe0"/><polygon points="774.2,452.0 774.0,392.0 773.5,198.0 773.3,138.0 796.7,138.0 796.5,198.0 796.0,392.0 795.8,452.0" fill="#e9bfe0"/><polygon points="826.7,467.9 823.0,408.0 820.0,360.0 818.0,280.0 810.0,210.0 803.2,150.4 823.3,150.2 828.0,210.0 833.5,280.0 839.0,360.0 841.0,408.0 843.5,467.9" fill="#e9bfe0"/><polygon points="840.8,432.9 838.0,373.0 837.4,360.0 833.5,280.0 818.0,185.0 808.3,125.8 835.6,125.2 840.5,185.0 845.0,240.0 850.0,300.0 851.0,373.0 851.8,433.0" fill="#b5e3f0"/><polygon points="878.1,475.9 874.0,416.0 861.0,226.0 856.9,166.1 882.4,166.4 889.0,226.0 895.0,280.0 908.0,416.0 913.7,475.7" fill="#e9bfe0"/><polygon points="933.7,439.7 914.0,383.0 906.0,360.0 898.0,280.0 880.0,195.0 867.6,136.3 909.4,135.3 915.0,195.0 923.0,280.0 933.0,360.0 944.5,383.0 971.3,436.7" fill="#b5e3f0"/><polygon points="981.5,482.6 959.0,427.0 944.0,390.0 921.0,243.0 911.7,183.7 971.3,161.0 972.0,221.0 974.0,390.0 977.0,427.0 981.8,486.8" fill="#e9bfe0"/><polygon points="1050.0,499.7 1044.0,440.0 1040.0,400.0 1022.0,320.0 1004.0,245.0 990.0,186.7 1013.7,174.3 1030.0,232.0 1052.0,310.0 1075.0,380.0 1080.0,440.0 1085.0,499.8" fill="#e9bfe0"/><polygon points="1093.7,437.0 1075.0,380.0 1052.0,310.0 1030.0,232.0 1013.7,174.3 1073.9,175.7 1088.0,234.0 1104.0,300.0 1121.0,370.0 1125.0,395.0 1134.5,454.2" fill="#ae8cc2"/><polygon points="1159.9,504.5 1152.0,445.0 1148.0,415.0 1131.0,369.0 1117.0,318.0 1107.0,257.0 1097.3,197.8 1103.8,200.9 1125.0,257.0 1148.0,318.0 1170.0,380.0 1178.0,415.0 1182.0,445.0 1189.9,504.5" fill="#e9bfe0"/><polygon points="1200.8,452.3 1180.0,396.0 1170.0,369.0 1127.0,240.0 1108.0,183.1 1132.7,182.0 1148.0,240.0 1189.0,396.0 1204.3,454.0" fill="#b5e3f0"/><polygon points="1244.3,527.4 1236.0,468.0 1228.0,411.0 1216.0,345.0 1184.0,266.0 1161.5,210.4 1330.0,206.0 1330.0,266.0 1330.0,468.0 1330.0,528.0" fill="#e9bfe0"/><polygon points="1248.2,465.0 1222.0,411.0 1190.0,345.0 1162.0,262.0 1142.8,205.1 1161.5,210.4 1184.0,266.0 1216.0,345.0 1240.0,411.0 1260.5,467.4" fill="#ae8cc2"/></g><use href="#p19" class="s"/><use href="#p18" fill="#fff"/><g clip-path="url(#c18)"><polygon points="81.3,352.4 90.0,293.0 100.0,225.0 110.0,160.0 124.0,119.0 131.0,100.0 151.7,43.7 230.8,62.4 206.0,117.0 126.0,293.0 101.2,347.6" fill="#e9bfe0"/><polygon points="181.2,343.7 195.7,285.5 212.0,220.0 221.0,199.0 232.0,169.0 246.0,152.0 258.0,150.0 274.0,113.0 297.8,57.9 315.5,53.4 293.0,109.0 248.0,220.0 224.5,274.5 200.7,329.6" fill="#e9bfe0"/><polygon points="338.2,282.7 354.6,225.0 400.8,62.0 417.2,4.3 427.8,1.3 422.0,61.0 416.3,119.5 384.0,220.0 365.6,277.1" fill="#ae8cc2"/><polygon points="394.7,275.5 402.6,216.0 414.0,130.0 431.0,20.0 437.0,0.0 454.2,-57.5 482.6,-2.4 469.0,56.0 433.0,211.0 419.4,269.4" fill="#e9bfe0"/><polygon points="529.0,279.7 535.0,220.0 545.0,120.0 558.0,33.0 563.0,0.0 572.0,-59.3 611.6,-26.7 592.0,30.0 583.0,56.0 571.0,120.0 562.0,222.0 556.7,281.8" fill="#b5e3f0"/><polygon points="557.1,304.9 560.0,245.0 566.0,120.0 580.0,73.0 597.1,15.5 604.8,10.2 600.0,70.0 596.0,120.0 594.0,250.0 593.1,310.0" fill="#e9bfe0"/><polygon points="593.1,310.0 594.0,250.0 596.0,120.0 600.0,60.0 604.0,0.1 629.6,-9.9 627.0,50.0 624.0,120.0 610.0,240.0 603.0,299.6" fill="#ae8cc2"/><polygon points="621.8,369.7 628.0,310.0 647.0,126.0 653.2,66.3 678.3,66.1 675.5,126.0 667.0,310.0 664.2,369.9" fill="#e9bfe0"/><polygon points="676.2,371.0 677.5,311.0 681.6,122.0 682.9,62.0 705.9,62.0 704.0,122.0 698.0,311.0 696.1,371.0" fill="#b5e3f0"/><polygon points="712.8,404.0 714.0,344.0 716.0,240.0 722.0,171.0 727.2,111.2 745.0,111.0 745.0,171.0 745.0,240.0 744.5,344.0 744.2,404.0" fill="#e9bfe0"/><polygon points="774.2,452.0 774.0,392.0 773.5,198.0 773.3,138.0 796.7,138.0 796.5,198.0 796.0,392.0 795.8,452.0" fill="#e9bfe0"/><polygon points="826.7,467.9 823.0,408.0 820.0,360.0 818.0,280.0 810.0,210.0 803.2,150.4 823.3,150.2 828.0,210.0 833.5,280.0 839.0,360.0 841.0,408.0 843.5,467.9" fill="#e9bfe0"/><polygon points="840.8,432.9 838.0,373.0 837.4,360.0 833.5,280.0 818.0,185.0 808.3,125.8 835.6,125.2 840.5,185.0 845.0,240.0 850.0,300.0 851.0,373.0 851.8,433.0" fill="#b5e3f0"/><polygon points="878.1,475.9 874.0,416.0 861.0,226.0 856.9,166.1 882.4,166.4 889.0,226.0 895.0,280.0 908.0,416.0 913.7,475.7" fill="#e9bfe0"/><polygon points="933.7,439.7 914.0,383.0 906.0,360.0 898.0,280.0 880.0,195.0 867.6,136.3 909.4,135.3 915.0,195.0 923.0,280.0 933.0,360.0 944.5,383.0 971.3,436.7" fill="#b5e3f0"/><polygon points="981.5,482.6 959.0,427.0 944.0,390.0 921.0,243.0 911.7,183.7 971.3,161.0 972.0,221.0 974.0,390.0 977.0,427.0 981.8,486.8" fill="#e9bfe0"/><polygon points="1050.0,499.7 1044.0,440.0 1040.0,400.0 1022.0,320.0 1004.0,245.0 990.0,186.7 1013.7,174.3 1030.0,232.0 1052.0,310.0 1075.0,380.0 1080.0,440.0 1085.0,499.8" fill="#e9bfe0"/><polygon points="1093.7,437.0 1075.0,380.0 1052.0,310.0 1030.0,232.0 1013.7,174.3 1073.9,175.7 1088.0,234.0 1104.0,300.0 1121.0,370.0 1125.0,395.0 1134.5,454.2" fill="#ae8cc2"/><polygon points="1159.9,504.5 1152.0,445.0 1148.0,415.0 1131.0,369.0 1117.0,318.0 1107.0,257.0 1097.3,197.8 1103.8,200.9 1125.0,257.0 1148.0,318.0 1170.0,380.0 1178.0,415.0 1182.0,445.0 1189.9,504.5" fill="#e9bfe0"/><polygon points="1200.8,452.3 1180.0,396.0 1170.0,369.0 1127.0,240.0 1108.0,183.1 1132.7,182.0 1148.0,240.0 1189.0,396.0 1204.3,454.0" fill="#b5e3f0"/><polygon points="1244.3,527.4 1236.0,468.0 1228.0,411.0 1216.0,345.0 1184.0,266.0 1161.5,210.4 1330.0,206.0 1330.0,266.0 1330.0,468.0 1330.0,528.0" fill="#e9bfe0"/><polygon points="1248.2,465.0 1222.0,411.0 1190.0,345.0 1162.0,262.0 1142.8,205.1 1161.5,210.4 1184.0,266.0 1216.0,345.0 1240.0,411.0 1260.5,467.4" fill="#ae8cc2"/></g><use href="#p18" class="s"/><use href="#p17" fill="#fff"/><g clip-path="url(#c17)"><polygon points="81.3,352.4 90.0,293.0 100.0,225.0 110.0,160.0 124.0,119.0 131.0,100.0 151.7,43.7 230.8,62.4 206.0,117.0 126.0,293.0 101.2,347.6" fill="#e9bfe0"/><polygon points="181.2,343.7 195.7,285.5 212.0,220.0 221.0,199.0 232.0,169.0 246.0,152.0 258.0,150.0 274.0,113.0 297.8,57.9 315.5,53.4 293.0,109.0 248.0,220.0 224.5,274.5 200.7,329.6" fill="#e9bfe0"/><polygon points="338.2,282.7 354.6,225.0 400.8,62.0 417.2,4.3 427.8,1.3 422.0,61.0 416.3,119.5 384.0,220.0 365.6,277.1" fill="#ae8cc2"/><polygon points="394.7,275.5 402.6,216.0 414.0,130.0 431.0,20.0 437.0,0.0 454.2,-57.5 482.6,-2.4 469.0,56.0 433.0,211.0 419.4,269.4" fill="#e9bfe0"/><polygon points="529.0,279.7 535.0,220.0 545.0,120.0 558.0,33.0 563.0,0.0 572.0,-59.3 611.6,-26.7 592.0,30.0 583.0,56.0 571.0,120.0 562.0,222.0 556.7,281.8" fill="#b5e3f0"/><polygon points="557.1,304.9 560.0,245.0 566.0,120.0 580.0,73.0 597.1,15.5 604.8,10.2 600.0,70.0 596.0,120.0 594.0,250.0 593.1,310.0" fill="#e9bfe0"/><polygon points="593.1,310.0 594.0,250.0 596.0,120.0 600.0,60.0 604.0,0.1 629.6,-9.9 627.0,50.0 624.0,120.0 610.0,240.0 603.0,299.6" fill="#ae8cc2"/><polygon points="621.8,369.7 628.0,310.0 647.0,126.0 653.2,66.3 678.3,66.1 675.5,126.0 667.0,310.0 664.2,369.9" fill="#e9bfe0"/><polygon points="676.2,371.0 677.5,311.0 681.6,122.0 682.9,62.0 705.9,62.0 704.0,122.0 698.0,311.0 696.1,371.0" fill="#b5e3f0"/><polygon points="712.8,404.0 714.0,344.0 716.0,240.0 722.0,171.0 727.2,111.2 745.0,111.0 745.0,171.0 745.0,240.0 744.5,344.0 744.2,404.0" fill="#e9bfe0"/><polygon points="774.2,452.0 774.0,392.0 773.5,198.0 773.3,138.0 796.7,138.0 796.5,198.0 796.0,392.0 795.8,452.0" fill="#e9bfe0"/><polygon points="826.7,467.9 823.0,408.0 820.0,360.0 818.0,280.0 810.0,210.0 803.2,150.4 823.3,150.2 828.0,210.0 833.5,280.0 839.0,360.0 841.0,408.0 843.5,467.9" fill="#e9bfe0"/><polygon points="840.8,432.9 838.0,373.0 837.4,360.0 833.5,280.0 818.0,185.0 808.3,125.8 835.6,125.2 840.5,185.0 845.0,240.0 850.0,300.0 851.0,373.0 851.8,433.0" fill="#b5e3f0"/><polygon points="878.1,475.9 874.0,416.0 861.0,226.0 856.9,166.1 882.4,166.4 889.0,226.0 895.0,280.0 908.0,416.0 913.7,475.7" fill="#e9bfe0"/><polygon points="933.7,439.7 914.0,383.0 906.0,360.0 898.0,280.0 880.0,195.0 867.6,136.3 909.4,135.3 915.0,195.0 923.0,280.0 933.0,360.0 944.5,383.0 971.3,436.7" fill="#b5e3f0"/><polygon points="981.5,482.6 959.0,427.0 944.0,390.0 921.0,243.0 911.7,183.7 971.3,161.0 972.0,221.0 974.0,390.0 977.0,427.0 981.8,486.8" fill="#e9bfe0"/><polygon points="1050.0,499.7 1044.0,440.0 1040.0,400.0 1022.0,320.0 1004.0,245.0 990.0,186.7 1013.7,174.3 1030.0,232.0 1052.0,310.0 1075.0,380.0 1080.0,440.0 1085.0,499.8" fill="#e9bfe0"/><polygon points="1093.7,437.0 1075.0,380.0 1052.0,310.0 1030.0,232.0 1013.7,174.3 1073.9,175.7 1088.0,234.0 1104.0,300.0 1121.0,370.0 1125.0,395.0 1134.5,454.2" fill="#ae8cc2"/><polygon points="1159.9,504.5 1152.0,445.0 1148.0,415.0 1131.0,369.0 1117.0,318.0 1107.0,257.0 1097.3,197.8 1103.8,200.9 1125.0,257.0 1148.0,318.0 1170.0,380.0 1178.0,415.0 1182.0,445.0 1189.9,504.5" fill="#e9bfe0"/><polygon points="1200.8,452.3 1180.0,396.0 1170.0,369.0 1127.0,240.0 1108.0,183.1 1132.7,182.0 1148.0,240.0 1189.0,396.0 1204.3,454.0" fill="#b5e3f0"/><polygon points="1244.3,527.4 1236.0,468.0 1228.0,411.0 1216.0,345.0 1184.0,266.0 1161.5,210.4 1330.0,206.0 1330.0,266.0 1330.0,468.0 1330.0,528.0" fill="#e9bfe0"/><polygon points="1248.2,465.0 1222.0,411.0 1190.0,345.0 1162.0,262.0 1142.8,205.1 1161.5,210.4 1184.0,266.0 1216.0,345.0 1240.0,411.0 1260.5,467.4" fill="#ae8cc2"/></g><use href="#p17" class="s"/><use href="#p16" fill="#fff"/><g clip-path="url(#c16)"><polygon points="81.3,352.4 90.0,293.0 100.0,225.0 110.0,160.0 124.0,119.0 131.0,100.0 151.7,43.7 230.8,62.4 206.0,117.0 126.0,293.0 101.2,347.6" fill="#e9bfe0"/><polygon points="181.2,343.7 195.7,285.5 212.0,220.0 221.0,199.0 232.0,169.0 246.0,152.0 258.0,150.0 274.0,113.0 297.8,57.9 315.5,53.4 293.0,109.0 248.0,220.0 224.5,274.5 200.7,329.6" fill="#e9bfe0"/><polygon points="338.2,282.7 354.6,225.0 400.8,62.0 417.2,4.3 427.8,1.3 422.0,61.0 416.3,119.5 384.0,220.0 365.6,277.1" fill="#ae8cc2"/><polygon points="394.7,275.5 402.6,216.0 414.0,130.0 431.0,20.0 437.0,0.0 454.2,-57.5 482.6,-2.4 469.0,56.0 433.0,211.0 419.4,269.4" fill="#e9bfe0"/><polygon points="529.0,279.7 535.0,220.0 545.0,120.0 558.0,33.0 563.0,0.0 572.0,-59.3 611.6,-26.7 592.0,30.0 583.0,56.0 571.0,120.0 562.0,222.0 556.7,281.8" fill="#b5e3f0"/><polygon points="557.1,304.9 560.0,245.0 566.0,120.0 580.0,73.0 597.1,15.5 604.8,10.2 600.0,70.0 596.0,120.0 594.0,250.0 593.1,310.0" fill="#e9bfe0"/><polygon points="593.1,310.0 594.0,250.0 596.0,120.0 600.0,60.0 604.0,0.1 629.6,-9.9 627.0,50.0 624.0,120.0 610.0,240.0 603.0,299.6" fill="#ae8cc2"/><polygon points="621.8,369.7 628.0,310.0 647.0,126.0 653.2,66.3 678.3,66.1 675.5,126.0 667.0,310.0 664.2,369.9" fill="#e9bfe0"/><polygon points="676.2,371.0 677.5,311.0 681.6,122.0 682.9,62.0 705.9,62.0 704.0,122.0 698.0,311.0 696.1,371.0" fill="#b5e3f0"/><polygon points="712.8,404.0 714.0,344.0 716.0,240.0 722.0,171.0 727.2,111.2 745.0,111.0 745.0,171.0 745.0,240.0 744.5,344.0 744.2,404.0" fill="#e9bfe0"/><polygon points="774.2,452.0 774.0,392.0 773.5,198.0 773.3,138.0 796.7,138.0 796.5,198.0 796.0,392.0 795.8,452.0" fill="#e9bfe0"/><polygon points="826.7,467.9 823.0,408.0 820.0,360.0 818.0,280.0 810.0,210.0 803.2,150.4 823.3,150.2 828.0,210.0 833.5,280.0 839.0,360.0 841.0,408.0 843.5,467.9" fill="#e9bfe0"/><polygon points="840.8,432.9 838.0,373.0 837.4,360.0 833.5,280.0 818.0,185.0 808.3,125.8 835.6,125.2 840.5,185.0 845.0,240.0 850.0,300.0 851.0,373.0 851.8,433.0" fill="#b5e3f0"/><polygon points="878.1,475.9 874.0,416.0 861.0,226.0 856.9,166.1 882.4,166.4 889.0,226.0 895.0,280.0 908.0,416.0 913.7,475.7" fill="#e9bfe0"/><polygon points="933.7,439.7 914.0,383.0 906.0,360.0 898.0,280.0 880.0,195.0 867.6,136.3 909.4,135.3 915.0,195.0 923.0,280.0 933.0,360.0 944.5,383.0 971.3,436.7" fill="#b5e3f0"/><polygon points="981.5,482.6 959.0,427.0 944.0,390.0 921.0,243.0 911.7,183.7 971.3,161.0 972.0,221.0 974.0,390.0 977.0,427.0 981.8,486.8" fill="#e9bfe0"/><polygon points="1050.0,499.7 1044.0,440.0 1040.0,400.0 1022.0,320.0 1004.0,245.0 990.0,186.7 1013.7,174.3 1030.0,232.0 1052.0,310.0 1075.0,380.0 1080.0,440.0 1085.0,499.8" fill="#e9bfe0"/><polygon points="1093.7,437.0 1075.0,380.0 1052.0,310.0 1030.0,232.0 1013.7,174.3 1073.9,175.7 1088.0,234.0 1104.0,300.0 1121.0,370.0 1125.0,395.0 1134.5,454.2" fill="#ae8cc2"/><polygon points="1159.9,504.5 1152.0,445.0 1148.0,415.0 1131.0,369.0 1117.0,318.0 1107.0,257.0 1097.3,197.8 1103.8,200.9 1125.0,257.0 1148.0,318.0 1170.0,380.0 1178.0,415.0 1182.0,445.0 1189.9,504.5" fill="#e9bfe0"/><polygon points="1200.8,452.3 1180.0,396.0 1170.0,369.0 1127.0,240.0 1108.0,183.1 1132.7,182.0 1148.0,240.0 1189.0,396.0 1204.3,454.0" fill="#b5e3f0"/><polygon points="1244.3,527.4 1236.0,468.0 1228.0,411.0 1216.0,345.0 1184.0,266.0 1161.5,210.4 1330.0,206.0 1330.0,266.0 1330.0,468.0 1330.0,528.0" fill="#e9bfe0"/><polygon points="1248.2,465.0 1222.0,411.0 1190.0,345.0 1162.0,262.0 1142.8,205.1 1161.5,210.4 1184.0,266.0 1216.0,345.0 1240.0,411.0 1260.5,467.4" fill="#ae8cc2"/></g><use href="#p16" class="s"/><use href="#p15" fill="#fff"/><g clip-path="url(#c15)"><polygon points="81.3,352.4 90.0,293.0 100.0,225.0 110.0,160.0 124.0,119.0 131.0,100.0 151.7,43.7 230.8,62.4 206.0,117.0 126.0,293.0 101.2,347.6" fill="#e9bfe0"/><polygon points="181.2,343.7 195.7,285.5 212.0,220.0 221.0,199.0 232.0,169.0 246.0,152.0 258.0,150.0 274.0,113.0 297.8,57.9 315.5,53.4 293.0,109.0 248.0,220.0 224.5,274.5 200.7,329.6" fill="#e9bfe0"/><polygon points="338.2,282.7 354.6,225.0 400.8,62.0 417.2,4.3 427.8,1.3 422.0,61.0 416.3,119.5 384.0,220.0 365.6,277.1" fill="#ae8cc2"/><polygon points="394.7,275.5 402.6,216.0 414.0,130.0 431.0,20.0 437.0,0.0 454.2,-57.5 482.6,-2.4 469.0,56.0 433.0,211.0 419.4,269.4" fill="#e9bfe0"/><polygon points="529.0,279.7 535.0,220.0 545.0,120.0 558.0,33.0 563.0,0.0 572.0,-59.3 611.6,-26.7 592.0,30.0 583.0,56.0 571.0,120.0 562.0,222.0 556.7,281.8" fill="#b5e3f0"/><polygon points="557.1,304.9 560.0,245.0 566.0,120.0 580.0,73.0 597.1,15.5 604.8,10.2 600.0,70.0 596.0,120.0 594.0,250.0 593.1,310.0" fill="#e9bfe0"/><polygon points="593.1,310.0 594.0,250.0 596.0,120.0 600.0,60.0 604.0,0.1 629.6,-9.9 627.0,50.0 624.0,120.0 610.0,240.0 603.0,299.6" fill="#ae8cc2"/><polygon points="621.8,369.7 628.0,310.0 647.0,126.0 653.2,66.3 678.3,66.1 675.5,126.0 667.0,310.0 664.2,369.9" fill="#e9bfe0"/><polygon points="676.2,371.0 677.5,311.0 681.6,122.0 682.9,62.0 705.9,62.0 704.0,122.0 698.0,311.0 696.1,371.0" fill="#b5e3f0"/><polygon points="712.8,404.0 714.0,344.0 716.0,240.0 722.0,171.0 727.2,111.2 745.0,111.0 745.0,171.0 745.0,240.0 744.5,344.0 744.2,404.0" fill="#e9bfe0"/><polygon points="774.2,452.0 774.0,392.0 773.5,198.0 773.3,138.0 796.7,138.0 796.5,198.0 796.0,392.0 795.8,452.0" fill="#e9bfe0"/><polygon points="826.7,467.9 823.0,408.0 820.0,360.0 818.0,280.0 810.0,210.0 803.2,150.4 823.3,150.2 828.0,210.0 833.5,280.0 839.0,360.0 841.0,408.0 843.5,467.9" fill="#e9bfe0"/><polygon points="840.8,432.9 838.0,373.0 837.4,360.0 833.5,280.0 818.0,185.0 808.3,125.8 835.6,125.2 840.5,185.0 845.0,240.0 850.0,300.0 851.0,373.0 851.8,433.0" fill="#b5e3f0"/><polygon points="878.1,475.9 874.0,416.0 861.0,226.0 856.9,166.1 882.4,166.4 889.0,226.0 895.0,280.0 908.0,416.0 913.7,475.7" fill="#e9bfe0"/><polygon points="933.7,439.7 914.0,383.0 906.0,360.0 898.0,280.0 880.0,195.0 867.6,136.3 909.4,135.3 915.0,195.0 923.0,280.0 933.0,360.0 944.5,383.0 971.3,436.7" fill="#b5e3f0"/><polygon points="981.5,482.6 959.0,427.0 944.0,390.0 921.0,243.0 911.7,183.7 971.3,161.0 972.0,221.0 974.0,390.0 977.0,427.0 981.8,486.8" fill="#e9bfe0"/><polygon points="1050.0,499.7 1044.0,440.0 1040.0,400.0 1022.0,320.0 1004.0,245.0 990.0,186.7 1013.7,174.3 1030.0,232.0 1052.0,310.0 1075.0,380.0 1080.0,440.0 1085.0,499.8" fill="#e9bfe0"/><polygon points="1093.7,437.0 1075.0,380.0 1052.0,310.0 1030.0,232.0 1013.7,174.3 1073.9,175.7 1088.0,234.0 1104.0,300.0 1121.0,370.0 1125.0,395.0 1134.5,454.2" fill="#ae8cc2"/><polygon points="1159.9,504.5 1152.0,445.0 1148.0,415.0 1131.0,369.0 1117.0,318.0 1107.0,257.0 1097.3,197.8 1103.8,200.9 1125.0,257.0 1148.0,318.0 1170.0,380.0 1178.0,415.0 1182.0,445.0 1189.9,504.5" fill="#e9bfe0"/><polygon points="1200.8,452.3 1180.0,396.0 1170.0,369.0 1127.0,240.0 1108.0,183.1 1132.7,182.0 1148.0,240.0 1189.0,396.0 1204.3,454.0" fill="#b5e3f0"/><polygon points="1244.3,527.4 1236.0,468.0 1228.0,411.0 1216.0,345.0 1184.0,266.0 1161.5,210.4 1330.0,206.0 1330.0,266.0 1330.0,468.0 1330.0,528.0" fill="#e9bfe0"/><polygon points="1248.2,465.0 1222.0,411.0 1190.0,345.0 1162.0,262.0 1142.8,205.1 1161.5,210.4 1184.0,266.0 1216.0,345.0 1240.0,411.0 1260.5,467.4" fill="#ae8cc2"/></g><use href="#p15" class="s"/><use href="#p14" fill="#fff"/><g clip-path="url(#c14)"><polygon points="81.3,352.4 90.0,293.0 100.0,225.0 110.0,160.0 124.0,119.0 131.0,100.0 151.7,43.7 230.8,62.4 206.0,117.0 126.0,293.0 101.2,347.6" fill="#e9bfe0"/><polygon points="181.2,343.7 195.7,285.5 212.0,220.0 221.0,199.0 232.0,169.0 246.0,152.0 258.0,150.0 274.0,113.0 297.8,57.9 315.5,53.4 293.0,109.0 248.0,220.0 224.5,274.5 200.7,329.6" fill="#e9bfe0"/><polygon points="338.2,282.7 354.6,225.0 400.8,62.0 417.2,4.3 427.8,1.3 422.0,61.0 416.3,119.5 384.0,220.0 365.6,277.1" fill="#ae8cc2"/><polygon points="394.7,275.5 402.6,216.0 414.0,130.0 431.0,20.0 437.0,0.0 454.2,-57.5 482.6,-2.4 469.0,56.0 433.0,211.0 419.4,269.4" fill="#e9bfe0"/><polygon points="529.0,279.7 535.0,220.0 545.0,120.0 558.0,33.0 563.0,0.0 572.0,-59.3 611.6,-26.7 592.0,30.0 583.0,56.0 571.0,120.0 562.0,222.0 556.7,281.8" fill="#b5e3f0"/><polygon points="557.1,304.9 560.0,245.0 566.0,120.0 580.0,73.0 597.1,15.5 604.8,10.2 600.0,70.0 596.0,120.0 594.0,250.0 593.1,310.0" fill="#e9bfe0"/><polygon points="593.1,310.0 594.0,250.0 596.0,120.0 600.0,60.0 604.0,0.1 629.6,-9.9 627.0,50.0 624.0,120.0 610.0,240.0 603.0,299.6" fill="#ae8cc2"/><polygon points="621.8,369.7 628.0,310.0 647.0,126.0 653.2,66.3 678.3,66.1 675.5,126.0 667.0,310.0 664.2,369.9" fill="#e9bfe0"/><polygon points="676.2,371.0 677.5,311.0 681.6,122.0 682.9,62.0 705.9,62.0 704.0,122.0 698.0,311.0 696.1,371.0" fill="#b5e3f0"/><polygon points="712.8,404.0 714.0,344.0 716.0,240.0 722.0,171.0 727.2,111.2 745.0,111.0 745.0,171.0 745.0,240.0 744.5,344.0 744.2,404.0" fill="#e9bfe0"/><polygon points="774.2,452.0 774.0,392.0 773.5,198.0 773.3,138.0 796.7,138.0 796.5,198.0 796.0,392.0 795.8,452.0" fill="#e9bfe0"/><polygon points="826.7,467.9 823.0,408.0 820.0,360.0 818.0,280.0 810.0,210.0 803.2,150.4 823.3,150.2 828.0,210.0 833.5,280.0 839.0,360.0 841.0,408.0 843.5,467.9" fill="#e9bfe0"/><polygon points="840.8,432.9 838.0,373.0 837.4,360.0 833.5,280.0 818.0,185.0 808.3,125.8 835.6,125.2 840.5,185.0 845.0,240.0 850.0,300.0 851.0,373.0 851.8,433.0" fill="#b5e3f0"/><polygon points="878.1,475.9 874.0,416.0 861.0,226.0 856.9,166.1 882.4,166.4 889.0,226.0 895.0,280.0 908.0,416.0 913.7,475.7" fill="#e9bfe0"/><polygon points="933.7,439.7 914.0,383.0 906.0,360.0 898.0,280.0 880.0,195.0 867.6,136.3 909.4,135.3 915.0,195.0 923.0,280.0 933.0,360.0 944.5,383.0 971.3,436.7" fill="#b5e3f0"/><polygon points="981.5,482.6 959.0,427.0 944.0,390.0 921.0,243.0 911.7,183.7 971.3,161.0 972.0,221.0 974.0,390.0 977.0,427.0 981.8,486.8" fill="#e9bfe0"/><polygon points="1050.0,499.7 1044.0,440.0 1040.0,400.0 1022.0,320.0 1004.0,245.0 990.0,186.7 1013.7,174.3 1030.0,232.0 1052.0,310.0 1075.0,380.0 1080.0,440.0 1085.0,499.8" fill="#e9bfe0"/><polygon points="1093.7,437.0 1075.0,380.0 1052.0,310.0 1030.0,232.0 1013.7,174.3 1073.9,175.7 1088.0,234.0 1104.0,300.0 1121.0,370.0 1125.0,395.0 1134.5,454.2" fill="#ae8cc2"/><polygon points="1159.9,504.5 1152.0,445.0 1148.0,415.0 1131.0,369.0 1117.0,318.0 1107.0,257.0 1097.3,197.8 1103.8,200.9 1125.0,257.0 1148.0,318.0 1170.0,380.0 1178.0,415.0 1182.0,445.0 1189.9,504.5" fill="#e9bfe0"/><polygon points="1200.8,452.3 1180.0,396.0 1170.0,369.0 1127.0,240.0 1108.0,183.1 1132.7,182.0 1148.0,240.0 1189.0,396.0 1204.3,454.0" fill="#b5e3f0"/><polygon points="1244.3,527.4 1236.0,468.0 1228.0,411.0 1216.0,345.0 1184.0,266.0 1161.5,210.4 1330.0,206.0 1330.0,266.0 1330.0,468.0 1330.0,528.0" fill="#e9bfe0"/><polygon points="1248.2,465.0 1222.0,411.0 1190.0,345.0 1162.0,262.0 1142.8,205.1 1161.5,210.4 1184.0,266.0 1216.0,345.0 1240.0,411.0 1260.5,467.4" fill="#ae8cc2"/></g><use href="#p14" class="s"/><use href="#p13" fill="#fff"/><g clip-path="url(#c13)"><polygon points="81.3,352.4 90.0,293.0 100.0,225.0 110.0,160.0 124.0,119.0 131.0,100.0 151.7,43.7 230.8,62.4 206.0,117.0 126.0,293.0 101.2,347.6" fill="#e9bfe0"/><polygon points="181.2,343.7 195.7,285.5 212.0,220.0 221.0,199.0 232.0,169.0 246.0,152.0 258.0,150.0 274.0,113.0 297.8,57.9 315.5,53.4 293.0,109.0 248.0,220.0 224.5,274.5 200.7,329.6" fill="#e9bfe0"/><polygon points="338.2,282.7 354.6,225.0 400.8,62.0 417.2,4.3 427.8,1.3 422.0,61.0 416.3,119.5 384.0,220.0 365.6,277.1" fill="#ae8cc2"/><polygon points="394.7,275.5 402.6,216.0 414.0,130.0 431.0,20.0 437.0,0.0 454.2,-57.5 482.6,-2.4 469.0,56.0 433.0,211.0 419.4,269.4" fill="#e9bfe0"/><polygon points="529.0,279.7 535.0,220.0 545.0,120.0 558.0,33.0 563.0,0.0 572.0,-59.3 611.6,-26.7 592.0,30.0 583.0,56.0 571.0,120.0 562.0,222.0 556.7,281.8" fill="#b5e3f0"/><polygon points="557.1,304.9 560.0,245.0 566.0,120.0 580.0,73.0 597.1,15.5 604.8,10.2 600.0,70.0 596.0,120.0 594.0,250.0 593.1,310.0" fill="#e9bfe0"/><polygon points="593.1,310.0 594.0,250.0 596.0,120.0 600.0,60.0 604.0,0.1 629.6,-9.9 627.0,50.0 624.0,120.0 610.0,240.0 603.0,299.6" fill="#ae8cc2"/><polygon points="621.8,369.7 628.0,310.0 647.0,126.0 653.2,66.3 678.3,66.1 675.5,126.0 667.0,310.0 664.2,369.9" fill="#e9bfe0"/><polygon points="676.2,371.0 677.5,311.0 681.6,122.0 682.9,62.0 705.9,62.0 704.0,122.0 698.0,311.0 696.1,371.0" fill="#b5e3f0"/><polygon points="712.8,404.0 714.0,344.0 716.0,240.0 722.0,171.0 727.2,111.2 745.0,111.0 745.0,171.0 745.0,240.0 744.5,344.0 744.2,404.0" fill="#e9bfe0"/><polygon points="774.2,452.0 774.0,392.0 773.5,198.0 773.3,138.0 796.7,138.0 796.5,198.0 796.0,392.0 795.8,452.0" fill="#e9bfe0"/><polygon points="826.7,467.9 823.0,408.0 820.0,360.0 818.0,280.0 810.0,210.0 803.2,150.4 823.3,150.2 828.0,210.0 833.5,280.0 839.0,360.0 841.0,408.0 843.5,467.9" fill="#e9bfe0"/><polygon points="840.8,432.9 838.0,373.0 837.4,360.0 833.5,280.0 818.0,185.0 808.3,125.8 835.6,125.2 840.5,185.0 845.0,240.0 850.0,300.0 851.0,373.0 851.8,433.0" fill="#b5e3f0"/><polygon points="878.1,475.9 874.0,416.0 861.0,226.0 856.9,166.1 882.4,166.4 889.0,226.0 895.0,280.0 908.0,416.0 913.7,475.7" fill="#e9bfe0"/><polygon points="933.7,439.7 914.0,383.0 906.0,360.0 898.0,280.0 880.0,195.0 867.6,136.3 909.4,135.3 915.0,195.0 923.0,280.0 933.0,360.0 944.5,383.0 971.3,436.7" fill="#b5e3f0"/><polygon points="981.5,482.6 959.0,427.0 944.0,390.0 921.0,243.0 911.7,183.7 971.3,161.0 972.0,221.0 974.0,390.0 977.0,427.0 981.8,486.8" fill="#e9bfe0"/><polygon points="1050.0,499.7 1044.0,440.0 1040.0,400.0 1022.0,320.0 1004.0,245.0 990.0,186.7 1013.7,174.3 1030.0,232.0 1052.0,310.0 1075.0,380.0 1080.0,440.0 1085.0,499.8" fill="#e9bfe0"/><polygon points="1093.7,437.0 1075.0,380.0 1052.0,310.0 1030.0,232.0 1013.7,174.3 1073.9,175.7 1088.0,234.0 1104.0,300.0 1121.0,370.0 1125.0,395.0 1134.5,454.2" fill="#ae8cc2"/><polygon points="1159.9,504.5 1152.0,445.0 1148.0,415.0 1131.0,369.0 1117.0,318.0 1107.0,257.0 1097.3,197.8 1103.8,200.9 1125.0,257.0 1148.0,318.0 1170.0,380.0 1178.0,415.0 1182.0,445.0 1189.9,504.5" fill="#e9bfe0"/><polygon points="1200.8,452.3 1180.0,396.0 1170.0,369.0 1127.0,240.0 1108.0,183.1 1132.7,182.0 1148.0,240.0 1189.0,396.0 1204.3,454.0" fill="#b5e3f0"/><polygon points="1244.3,527.4 1236.0,468.0 1228.0,411.0 1216.0,345.0 1184.0,266.0 1161.5,210.4 1330.0,206.0 1330.0,266.0 1330.0,468.0 1330.0,528.0" fill="#e9bfe0"/><polygon points="1248.2,465.0 1222.0,411.0 1190.0,345.0 1162.0,262.0 1142.8,205.1 1161.5,210.4 1184.0,266.0 1216.0,345.0 1240.0,411.0 1260.5,467.4" fill="#ae8cc2"/></g><use href="#p13" class="s"/><use href="#p12" fill="#fff"/><g clip-path="url(#c12)"><polygon points="81.3,352.4 90.0,293.0 100.0,225.0 110.0,160.0 124.0,119.0 131.0,100.0 151.7,43.7 230.8,62.4 206.0,117.0 126.0,293.0 101.2,347.6" fill="#e9bfe0"/><polygon points="181.2,343.7 195.7,285.5 212.0,220.0 221.0,199.0 232.0,169.0 246.0,152.0 258.0,150.0 274.0,113.0 297.8,57.9 315.5,53.4 293.0,109.0 248.0,220.0 224.5,274.5 200.7,329.6" fill="#e9bfe0"/><polygon points="338.2,282.7 354.6,225.0 400.8,62.0 417.2,4.3 427.8,1.3 422.0,61.0 416.3,119.5 384.0,220.0 365.6,277.1" fill="#ae8cc2"/><polygon points="394.7,275.5 402.6,216.0 414.0,130.0 431.0,20.0 437.0,0.0 454.2,-57.5 482.6,-2.4 469.0,56.0 433.0,211.0 419.4,269.4" fill="#e9bfe0"/><polygon points="529.0,279.7 535.0,220.0 545.0,120.0 558.0,33.0 563.0,0.0 572.0,-59.3 611.6,-26.7 592.0,30.0 583.0,56.0 571.0,120.0 562.0,222.0 556.7,281.8" fill="#b5e3f0"/><polygon points="557.1,304.9 560.0,245.0 566.0,120.0 580.0,73.0 597.1,15.5 604.8,10.2 600.0,70.0 596.0,120.0 594.0,250.0 593.1,310.0" fill="#e9bfe0"/><polygon points="593.1,310.0 594.0,250.0 596.0,120.0 600.0,60.0 604.0,0.1 629.6,-9.9 627.0,50.0 624.0,120.0 610.0,240.0 603.0,299.6" fill="#ae8cc2"/><polygon points="621.8,369.7 628.0,310.0 647.0,126.0 653.2,66.3 678.3,66.1 675.5,126.0 667.0,310.0 664.2,369.9" fill="#e9bfe0"/><polygon points="676.2,371.0 677.5,311.0 681.6,122.0 682.9,62.0 705.9,62.0 704.0,122.0 698.0,311.0 696.1,371.0" fill="#b5e3f0"/><polygon points="712.8,404.0 714.0,344.0 716.0,240.0 722.0,171.0 727.2,111.2 745.0,111.0 745.0,171.0 745.0,240.0 744.5,344.0 744.2,404.0" fill="#e9bfe0"/><polygon points="774.2,452.0 774.0,392.0 773.5,198.0 773.3,138.0 796.7,138.0 796.5,198.0 796.0,392.0 795.8,452.0" fill="#e9bfe0"/><polygon points="826.7,467.9 823.0,408.0 820.0,360.0 818.0,280.0 810.0,210.0 803.2,150.4 823.3,150.2 828.0,210.0 833.5,280.0 839.0,360.0 841.0,408.0 843.5,467.9" fill="#e9bfe0"/><polygon points="840.8,432.9 838.0,373.0 837.4,360.0 833.5,280.0 818.0,185.0 808.3,125.8 835.6,125.2 840.5,185.0 845.0,240.0 850.0,300.0 851.0,373.0 851.8,433.0" fill="#b5e3f0"/><polygon points="878.1,475.9 874.0,416.0 861.0,226.0 856.9,166.1 882.4,166.4 889.0,226.0 895.0,280.0 908.0,416.0 913.7,475.7" fill="#e9bfe0"/><polygon points="933.7,439.7 914.0,383.0 906.0,360.0 898.0,280.0 880.0,195.0 867.6,136.3 909.4,135.3 915.0,195.0 923.0,280.0 933.0,360.0 944.5,383.0 971.3,436.7" fill="#b5e3f0"/><polygon points="981.5,482.6 959.0,427.0 944.0,390.0 921.0,243.0 911.7,183.7 971.3,161.0 972.0,221.0 974.0,390.0 977.0,427.0 981.8,486.8" fill="#e9bfe0"/><polygon points="1050.0,499.7 1044.0,440.0 1040.0,400.0 1022.0,320.0 1004.0,245.0 990.0,186.7 1013.7,174.3 1030.0,232.0 1052.0,310.0 1075.0,380.0 1080.0,440.0 1085.0,499.8" fill="#e9bfe0"/><polygon points="1093.7,437.0 1075.0,380.0 1052.0,310.0 1030.0,232.0 1013.7,174.3 1073.9,175.7 1088.0,234.0 1104.0,300.0 1121.0,370.0 1125.0,395.0 1134.5,454.2" fill="#ae8cc2"/><polygon points="1159.9,504.5 1152.0,445.0 1148.0,415.0 1131.0,369.0 1117.0,318.0 1107.0,257.0 1097.3,197.8 1103.8,200.9 1125.0,257.0 1148.0,318.0 1170.0,380.0 1178.0,415.0 1182.0,445.0 1189.9,504.5" fill="#e9bfe0"/><polygon points="1200.8,452.3 1180.0,396.0 1170.0,369.0 1127.0,240.0 1108.0,183.1 1132.7,182.0 1148.0,240.0 1189.0,396.0 1204.3,454.0" fill="#b5e3f0"/><polygon points="1244.3,527.4 1236.0,468.0 1228.0,411.0 1216.0,345.0 1184.0,266.0 1161.5,210.4 1330.0,206.0 1330.0,266.0 1330.0,468.0 1330.0,528.0" fill="#e9bfe0"/><polygon points="1248.2,465.0 1222.0,411.0 1190.0,345.0 1162.0,262.0 1142.8,205.1 1161.5,210.4 1184.0,266.0 1216.0,345.0 1240.0,411.0 1260.5,467.4" fill="#ae8cc2"/></g><use href="#p12" class="s"/><use href="#p11" fill="#fff"/><g clip-path="url(#c11)"><polygon points="81.3,352.4 90.0,293.0 100.0,225.0 110.0,160.0 124.0,119.0 131.0,100.0 151.7,43.7 230.8,62.4 206.0,117.0 126.0,293.0 101.2,347.6" fill="#e9bfe0"/><polygon points="181.2,343.7 195.7,285.5 212.0,220.0 221.0,199.0 232.0,169.0 246.0,152.0 258.0,150.0 274.0,113.0 297.8,57.9 315.5,53.4 293.0,109.0 248.0,220.0 224.5,274.5 200.7,329.6" fill="#e9bfe0"/><polygon points="338.2,282.7 354.6,225.0 400.8,62.0 417.2,4.3 427.8,1.3 422.0,61.0 416.3,119.5 384.0,220.0 365.6,277.1" fill="#ae8cc2"/><polygon points="394.7,275.5 402.6,216.0 414.0,130.0 431.0,20.0 437.0,0.0 454.2,-57.5 482.6,-2.4 469.0,56.0 433.0,211.0 419.4,269.4" fill="#e9bfe0"/><polygon points="529.0,279.7 535.0,220.0 545.0,120.0 558.0,33.0 563.0,0.0 572.0,-59.3 611.6,-26.7 592.0,30.0 583.0,56.0 571.0,120.0 562.0,222.0 556.7,281.8" fill="#b5e3f0"/><polygon points="557.1,304.9 560.0,245.0 566.0,120.0 580.0,73.0 597.1,15.5 604.8,10.2 600.0,70.0 596.0,120.0 594.0,250.0 593.1,310.0" fill="#e9bfe0"/><polygon points="593.1,310.0 594.0,250.0 596.0,120.0 600.0,60.0 604.0,0.1 629.6,-9.9 627.0,50.0 624.0,120.0 610.0,240.0 603.0,299.6" fill="#ae8cc2"/><polygon points="621.8,369.7 628.0,310.0 647.0,126.0 653.2,66.3 678.3,66.1 675.5,126.0 667.0,310.0 664.2,369.9" fill="#e9bfe0"/><polygon points="676.2,371.0 677.5,311.0 681.6,122.0 682.9,62.0 705.9,62.0 704.0,122.0 698.0,311.0 696.1,371.0" fill="#b5e3f0"/><polygon points="712.8,404.0 714.0,344.0 716.0,240.0 722.0,171.0 727.2,111.2 745.0,111.0 745.0,171.0 745.0,240.0 744.5,344.0 744.2,404.0" fill="#e9bfe0"/><polygon points="774.2,452.0 774.0,392.0 773.5,198.0 773.3,138.0 796.7,138.0 796.5,198.0 796.0,392.0 795.8,452.0" fill="#e9bfe0"/><polygon points="826.7,467.9 823.0,408.0 820.0,360.0 818.0,280.0 810.0,210.0 803.2,150.4 823.3,150.2 828.0,210.0 833.5,280.0 839.0,360.0 841.0,408.0 843.5,467.9" fill="#e9bfe0"/><polygon points="840.8,432.9 838.0,373.0 837.4,360.0 833.5,280.0 818.0,185.0 808.3,125.8 835.6,125.2 840.5,185.0 845.0,240.0 850.0,300.0 851.0,373.0 851.8,433.0" fill="#b5e3f0"/><polygon points="878.1,475.9 874.0,416.0 861.0,226.0 856.9,166.1 882.4,166.4 889.0,226.0 895.0,280.0 908.0,416.0 913.7,475.7" fill="#e9bfe0"/><polygon points="933.7,439.7 914.0,383.0 906.0,360.0 898.0,280.0 880.0,195.0 867.6,136.3 909.4,135.3 915.0,195.0 923.0,280.0 933.0,360.0 944.5,383.0 971.3,436.7" fill="#b5e3f0"/><polygon points="981.5,482.6 959.0,427.0 944.0,390.0 921.0,243.0 911.7,183.7 971.3,161.0 972.0,221.0 974.0,390.0 977.0,427.0 981.8,486.8" fill="#e9bfe0"/><polygon points="1050.0,499.7 1044.0,440.0 1040.0,400.0 1022.0,320.0 1004.0,245.0 990.0,186.7 1013.7,174.3 1030.0,232.0 1052.0,310.0 1075.0,380.0 1080.0,440.0 1085.0,499.8" fill="#e9bfe0"/><polygon points="1093.7,437.0 1075.0,380.0 1052.0,310.0 1030.0,232.0 1013.7,174.3 1073.9,175.7 1088.0,234.0 1104.0,300.0 1121.0,370.0 1125.0,395.0 1134.5,454.2" fill="#ae8cc2"/><polygon points="1159.9,504.5 1152.0,445.0 1148.0,415.0 1131.0,369.0 1117.0,318.0 1107.0,257.0 1097.3,197.8 1103.8,200.9 1125.0,257.0 1148.0,318.0 1170.0,380.0 1178.0,415.0 1182.0,445.0 1189.9,504.5" fill="#e9bfe0"/><polygon points="1200.8,452.3 1180.0,396.0 1170.0,369.0 1127.0,240.0 1108.0,183.1 1132.7,182.0 1148.0,240.0 1189.0,396.0 1204.3,454.0" fill="#b5e3f0"/><polygon points="1244.3,527.4 1236.0,468.0 1228.0,411.0 1216.0,345.0 1184.0,266.0 1161.5,210.4 1330.0,206.0 1330.0,266.0 1330.0,468.0 1330.0,528.0" fill="#e9bfe0"/><polygon points="1248.2,465.0 1222.0,411.0 1190.0,345.0 1162.0,262.0 1142.8,205.1 1161.5,210.4 1184.0,266.0 1216.0,345.0 1240.0,411.0 1260.5,467.4" fill="#ae8cc2"/></g><use href="#p11" class="s"/><use href="#p10" fill="#fff"/><g clip-path="url(#c10)"><polygon points="81.3,352.4 90.0,293.0 100.0,225.0 110.0,160.0 124.0,119.0 131.0,100.0 151.7,43.7 230.8,62.4 206.0,117.0 126.0,293.0 101.2,347.6" fill="#e9bfe0"/><polygon points="181.2,343.7 195.7,285.5 212.0,220.0 221.0,199.0 232.0,169.0 246.0,152.0 258.0,150.0 274.0,113.0 297.8,57.9 315.5,53.4 293.0,109.0 248.0,220.0 224.5,274.5 200.7,329.6" fill="#e9bfe0"/><polygon points="338.2,282.7 354.6,225.0 400.8,62.0 417.2,4.3 427.8,1.3 422.0,61.0 416.3,119.5 384.0,220.0 365.6,277.1" fill="#ae8cc2"/><polygon points="394.7,275.5 402.6,216.0 414.0,130.0 431.0,20.0 437.0,0.0 454.2,-57.5 482.6,-2.4 469.0,56.0 433.0,211.0 419.4,269.4" fill="#e9bfe0"/><polygon points="529.0,279.7 535.0,220.0 545.0,120.0 558.0,33.0 563.0,0.0 572.0,-59.3 611.6,-26.7 592.0,30.0 583.0,56.0 571.0,120.0 562.0,222.0 556.7,281.8" fill="#b5e3f0"/><polygon points="557.1,304.9 560.0,245.0 566.0,120.0 580.0,73.0 597.1,15.5 604.8,10.2 600.0,70.0 596.0,120.0 594.0,250.0 593.1,310.0" fill="#e9bfe0"/><polygon points="593.1,310.0 594.0,250.0 596.0,120.0 600.0,60.0 604.0,0.1 629.6,-9.9 627.0,50.0 624.0,120.0 610.0,240.0 603.0,299.6" fill="#ae8cc2"/><polygon points="621.8,369.7 628.0,310.0 647.0,126.0 653.2,66.3 678.3,66.1 675.5,126.0 667.0,310.0 664.2,369.9" fill="#e9bfe0"/><polygon points="676.2,371.0 677.5,311.0 681.6,122.0 682.9,62.0 705.9,62.0 704.0,122.0 698.0,311.0 696.1,371.0" fill="#b5e3f0"/><polygon points="712.8,404.0 714.0,344.0 716.0,240.0 722.0,171.0 727.2,111.2 745.0,111.0 745.0,171.0 745.0,240.0 744.5,344.0 744.2,404.0" fill="#e9bfe0"/><polygon points="774.2,452.0 774.0,392.0 773.5,198.0 773.3,138.0 796.7,138.0 796.5,198.0 796.0,392.0 795.8,452.0" fill="#e9bfe0"/><polygon points="826.7,467.9 823.0,408.0 820.0,360.0 818.0,280.0 810.0,210.0 803.2,150.4 823.3,150.2 828.0,210.0 833.5,280.0 839.0,360.0 841.0,408.0 843.5,467.9" fill="#e9bfe0"/><polygon points="840.8,432.9 838.0,373.0 837.4,360.0 833.5,280.0 818.0,185.0 808.3,125.8 835.6,125.2 840.5,185.0 845.0,240.0 850.0,300.0 851.0,373.0 851.8,433.0" fill="#b5e3f0"/><polygon points="878.1,475.9 874.0,416.0 861.0,226.0 856.9,166.1 882.4,166.4 889.0,226.0 895.0,280.0 908.0,416.0 913.7,475.7" fill="#e9bfe0"/><polygon points="933.7,439.7 914.0,383.0 906.0,360.0 898.0,280.0 880.0,195.0 867.6,136.3 909.4,135.3 915.0,195.0 923.0,280.0 933.0,360.0 944.5,383.0 971.3,436.7" fill="#b5e3f0"/><polygon points="981.5,482.6 959.0,427.0 944.0,390.0 921.0,243.0 911.7,183.7 971.3,161.0 972.0,221.0 974.0,390.0 977.0,427.0 981.8,486.8" fill="#e9bfe0"/><polygon points="1050.0,499.7 1044.0,440.0 1040.0,400.0 1022.0,320.0 1004.0,245.0 990.0,186.7 1013.7,174.3 1030.0,232.0 1052.0,310.0 1075.0,380.0 1080.0,440.0 1085.0,499.8" fill="#e9bfe0"/><polygon points="1093.7,437.0 1075.0,380.0 1052.0,310.0 1030.0,232.0 1013.7,174.3 1073.9,175.7 1088.0,234.0 1104.0,300.0 1121.0,370.0 1125.0,395.0 1134.5,454.2" fill="#ae8cc2"/><polygon points="1159.9,504.5 1152.0,445.0 1148.0,415.0 1131.0,369.0 1117.0,318.0 1107.0,257.0 1097.3,197.8 1103.8,200.9 1125.0,257.0 1148.0,318.0 1170.0,380.0 1178.0,415.0 1182.0,445.0 1189.9,504.5" fill="#e9bfe0"/><polygon points="1200.8,452.3 1180.0,396.0 1170.0,369.0 1127.0,240.0 1108.0,183.1 1132.7,182.0 1148.0,240.0 1189.0,396.0 1204.3,454.0" fill="#b5e3f0"/><polygon points="1244.3,527.4 1236.0,468.0 1228.0,411.0 1216.0,345.0 1184.0,266.0 1161.5,210.4 1330.0,206.0 1330.0,266.0 1330.0,468.0 1330.0,528.0" fill="#e9bfe0"/><polygon points="1248.2,465.0 1222.0,411.0 1190.0,345.0 1162.0,262.0 1142.8,205.1 1161.5,210.4 1184.0,266.0 1216.0,345.0 1240.0,411.0 1260.5,467.4" fill="#ae8cc2"/></g><use href="#p10" class="s"/><use href="#p9" fill="#fff"/><g clip-path="url(#c9)"><polygon points="81.3,352.4 90.0,293.0 100.0,225.0 110.0,160.0 124.0,119.0 131.0,100.0 151.7,43.7 230.8,62.4 206.0,117.0 126.0,293.0 101.2,347.6" fill="#e9bfe0"/><polygon points="181.2,343.7 195.7,285.5 212.0,220.0 221.0,199.0 232.0,169.0 246.0,152.0 258.0,150.0 274.0,113.0 297.8,57.9 315.5,53.4 293.0,109.0 248.0,220.0 224.5,274.5 200.7,329.6" fill="#e9bfe0"/><polygon points="338.2,282.7 354.6,225.0 400.8,62.0 417.2,4.3 427.8,1.3 422.0,61.0 416.3,119.5 384.0,220.0 365.6,277.1" fill="#ae8cc2"/><polygon points="394.7,275.5 402.6,216.0 414.0,130.0 431.0,20.0 437.0,0.0 454.2,-57.5 482.6,-2.4 469.0,56.0 433.0,211.0 419.4,269.4" fill="#e9bfe0"/><polygon points="529.0,279.7 535.0,220.0 545.0,120.0 558.0,33.0 563.0,0.0 572.0,-59.3 611.6,-26.7 592.0,30.0 583.0,56.0 571.0,120.0 562.0,222.0 556.7,281.8" fill="#b5e3f0"/><polygon points="557.1,304.9 560.0,245.0 566.0,120.0 580.0,73.0 597.1,15.5 604.8,10.2 600.0,70.0 596.0,120.0 594.0,250.0 593.1,310.0" fill="#e9bfe0"/><polygon points="593.1,310.0 594.0,250.0 596.0,120.0 600.0,60.0 604.0,0.1 629.6,-9.9 627.0,50.0 624.0,120.0 610.0,240.0 603.0,299.6" fill="#ae8cc2"/><polygon points="621.8,369.7 628.0,310.0 647.0,126.0 653.2,66.3 678.3,66.1 675.5,126.0 667.0,310.0 664.2,369.9" fill="#e9bfe0"/><polygon points="676.2,371.0 677.5,311.0 681.6,122.0 682.9,62.0 705.9,62.0 704.0,122.0 698.0,311.0 696.1,371.0" fill="#b5e3f0"/><polygon points="712.8,404.0 714.0,344.0 716.0,240.0 722.0,171.0 727.2,111.2 745.0,111.0 745.0,171.0 745.0,240.0 744.5,344.0 744.2,404.0" fill="#e9bfe0"/><polygon points="774.2,452.0 774.0,392.0 773.5,198.0 773.3,138.0 796.7,138.0 796.5,198.0 796.0,392.0 795.8,452.0" fill="#e9bfe0"/><polygon points="826.7,467.9 823.0,408.0 820.0,360.0 818.0,280.0 810.0,210.0 803.2,150.4 823.3,150.2 828.0,210.0 833.5,280.0 839.0,360.0 841.0,408.0 843.5,467.9" fill="#e9bfe0"/><polygon points="840.8,432.9 838.0,373.0 837.4,360.0 833.5,280.0 818.0,185.0 808.3,125.8 835.6,125.2 840.5,185.0 845.0,240.0 850.0,300.0 851.0,373.0 851.8,433.0" fill="#b5e3f0"/><polygon points="878.1,475.9 874.0,416.0 861.0,226.0 856.9,166.1 882.4,166.4 889.0,226.0 895.0,280.0 908.0,416.0 913.7,475.7" fill="#e9bfe0"/><polygon points="933.7,439.7 914.0,383.0 906.0,360.0 898.0,280.0 880.0,195.0 867.6,136.3 909.4,135.3 915.0,195.0 923.0,280.0 933.0,360.0 944.5,383.0 971.3,436.7" fill="#b5e3f0"/><polygon points="981.5,482.6 959.0,427.0 944.0,390.0 921.0,243.0 911.7,183.7 971.3,161.0 972.0,221.0 974.0,390.0 977.0,427.0 981.8,486.8" fill="#e9bfe0"/><polygon points="1050.0,499.7 1044.0,440.0 1040.0,400.0 1022.0,320.0 1004.0,245.0 990.0,186.7 1013.7,174.3 1030.0,232.0 1052.0,310.0 1075.0,380.0 1080.0,440.0 1085.0,499.8" fill="#e9bfe0"/><polygon points="1093.7,437.0 1075.0,380.0 1052.0,310.0 1030.0,232.0 1013.7,174.3 1073.9,175.7 1088.0,234.0 1104.0,300.0 1121.0,370.0 1125.0,395.0 1134.5,454.2" fill="#ae8cc2"/><polygon points="1159.9,504.5 1152.0,445.0 1148.0,415.0 1131.0,369.0 1117.0,318.0 1107.0,257.0 1097.3,197.8 1103.8,200.9 1125.0,257.0 1148.0,318.0 1170.0,380.0 1178.0,415.0 1182.0,445.0 1189.9,504.5" fill="#e9bfe0"/><polygon points="1200.8,452.3 1180.0,396.0 1170.0,369.0 1127.0,240.0 1108.0,183.1 1132.7,182.0 1148.0,240.0 1189.0,396.0 1204.3,454.0" fill="#b5e3f0"/><polygon points="1244.3,527.4 1236.0,468.0 1228.0,411.0 1216.0,345.0 1184.0,266.0 1161.5,210.4 1330.0,206.0 1330.0,266.0 1330.0,468.0 1330.0,528.0" fill="#e9bfe0"/><polygon points="1248.2,465.0 1222.0,411.0 1190.0,345.0 1162.0,262.0 1142.8,205.1 1161.5,210.4 1184.0,266.0 1216.0,345.0 1240.0,411.0 1260.5,467.4" fill="#ae8cc2"/></g><use href="#p9" class="s"/><use href="#p8" fill="#fff"/><g clip-path="url(#c8)"><polygon points="81.3,352.4 90.0,293.0 100.0,225.0 110.0,160.0 124.0,119.0 131.0,100.0 151.7,43.7 230.8,62.4 206.0,117.0 126.0,293.0 101.2,347.6" fill="#e9bfe0"/><polygon points="181.2,343.7 195.7,285.5 212.0,220.0 221.0,199.0 232.0,169.0 246.0,152.0 258.0,150.0 274.0,113.0 297.8,57.9 315.5,53.4 293.0,109.0 248.0,220.0 224.5,274.5 200.7,329.6" fill="#e9bfe0"/><polygon points="338.2,282.7 354.6,225.0 400.8,62.0 417.2,4.3 427.8,1.3 422.0,61.0 416.3,119.5 384.0,220.0 365.6,277.1" fill="#ae8cc2"/><polygon points="394.7,275.5 402.6,216.0 414.0,130.0 431.0,20.0 437.0,0.0 454.2,-57.5 482.6,-2.4 469.0,56.0 433.0,211.0 419.4,269.4" fill="#e9bfe0"/><polygon points="529.0,279.7 535.0,220.0 545.0,120.0 558.0,33.0 563.0,0.0 572.0,-59.3 611.6,-26.7 592.0,30.0 583.0,56.0 571.0,120.0 562.0,222.0 556.7,281.8" fill="#b5e3f0"/><polygon points="557.1,304.9 560.0,245.0 566.0,120.0 580.0,73.0 597.1,15.5 604.8,10.2 600.0,70.0 596.0,120.0 594.0,250.0 593.1,310.0" fill="#e9bfe0"/><polygon points="593.1,310.0 594.0,250.0 596.0,120.0 600.0,60.0 604.0,0.1 629.6,-9.9 627.0,50.0 624.0,120.0 610.0,240.0 603.0,299.6" fill="#ae8cc2"/><polygon points="621.8,369.7 628.0,310.0 647.0,126.0 653.2,66.3 678.3,66.1 675.5,126.0 667.0,310.0 664.2,369.9" fill="#e9bfe0"/><polygon points="676.2,371.0 677.5,311.0 681.6,122.0 682.9,62.0 705.9,62.0 704.0,122.0 698.0,311.0 696.1,371.0" fill="#b5e3f0"/><polygon points="712.8,404.0 714.0,344.0 716.0,240.0 722.0,171.0 727.2,111.2 745.0,111.0 745.0,171.0 745.0,240.0 744.5,344.0 744.2,404.0" fill="#e9bfe0"/><polygon points="774.2,452.0 774.0,392.0 773.5,198.0 773.3,138.0 796.7,138.0 796.5,198.0 796.0,392.0 795.8,452.0" fill="#e9bfe0"/><polygon points="826.7,467.9 823.0,408.0 820.0,360.0 818.0,280.0 810.0,210.0 803.2,150.4 823.3,150.2 828.0,210.0 833.5,280.0 839.0,360.0 841.0,408.0 843.5,467.9" fill="#e9bfe0"/><polygon points="840.8,432.9 838.0,373.0 837.4,360.0 833.5,280.0 818.0,185.0 808.3,125.8 835.6,125.2 840.5,185.0 845.0,240.0 850.0,300.0 851.0,373.0 851.8,433.0" fill="#b5e3f0"/><polygon points="878.1,475.9 874.0,416.0 861.0,226.0 856.9,166.1 882.4,166.4 889.0,226.0 895.0,280.0 908.0,416.0 913.7,475.7" fill="#e9bfe0"/><polygon points="933.7,439.7 914.0,383.0 906.0,360.0 898.0,280.0 880.0,195.0 867.6,136.3 909.4,135.3 915.0,195.0 923.0,280.0 933.0,360.0 944.5,383.0 971.3,436.7" fill="#b5e3f0"/><polygon points="981.5,482.6 959.0,427.0 944.0,390.0 921.0,243.0 911.7,183.7 971.3,161.0 972.0,221.0 974.0,390.0 977.0,427.0 981.8,486.8" fill="#e9bfe0"/><polygon points="1050.0,499.7 1044.0,440.0 1040.0,400.0 1022.0,320.0 1004.0,245.0 990.0,186.7 1013.7,174.3 1030.0,232.0 1052.0,310.0 1075.0,380.0 1080.0,440.0 1085.0,499.8" fill="#e9bfe0"/><polygon points="1093.7,437.0 1075.0,380.0 1052.0,310.0 1030.0,232.0 1013.7,174.3 1073.9,175.7 1088.0,234.0 1104.0,300.0 1121.0,370.0 1125.0,395.0 1134.5,454.2" fill="#ae8cc2"/><polygon points="1159.9,504.5 1152.0,445.0 1148.0,415.0 1131.0,369.0 1117.0,318.0 1107.0,257.0 1097.3,197.8 1103.8,200.9 1125.0,257.0 1148.0,318.0 1170.0,380.0 1178.0,415.0 1182.0,445.0 1189.9,504.5" fill="#e9bfe0"/><polygon points="1200.8,452.3 1180.0,396.0 1170.0,369.0 1127.0,240.0 1108.0,183.1 1132.7,182.0 1148.0,240.0 1189.0,396.0 1204.3,454.0" fill="#b5e3f0"/><polygon points="1244.3,527.4 1236.0,468.0 1228.0,411.0 1216.0,345.0 1184.0,266.0 1161.5,210.4 1330.0,206.0 1330.0,266.0 1330.0,468.0 1330.0,528.0" fill="#e9bfe0"/><polygon points="1248.2,465.0 1222.0,411.0 1190.0,345.0 1162.0,262.0 1142.8,205.1 1161.5,210.4 1184.0,266.0 1216.0,345.0 1240.0,411.0 1260.5,467.4" fill="#ae8cc2"/></g><use href="#p8" class="s"/><use href="#p7" fill="#fff"/><g clip-path="url(#c7)"><polygon points="81.3,352.4 90.0,293.0 100.0,225.0 110.0,160.0 124.0,119.0 131.0,100.0 151.7,43.7 230.8,62.4 206.0,117.0 126.0,293.0 101.2,347.6" fill="#e9bfe0"/><polygon points="181.2,343.7 195.7,285.5 212.0,220.0 221.0,199.0 232.0,169.0 246.0,152.0 258.0,150.0 274.0,113.0 297.8,57.9 315.5,53.4 293.0,109.0 248.0,220.0 224.5,274.5 200.7,329.6" fill="#e9bfe0"/><polygon points="338.2,282.7 354.6,225.0 400.8,62.0 417.2,4.3 427.8,1.3 422.0,61.0 416.3,119.5 384.0,220.0 365.6,277.1" fill="#ae8cc2"/><polygon points="394.7,275.5 402.6,216.0 414.0,130.0 431.0,20.0 437.0,0.0 454.2,-57.5 482.6,-2.4 469.0,56.0 433.0,211.0 419.4,269.4" fill="#e9bfe0"/><polygon points="529.0,279.7 535.0,220.0 545.0,120.0 558.0,33.0 563.0,0.0 572.0,-59.3 611.6,-26.7 592.0,30.0 583.0,56.0 571.0,120.0 562.0,222.0 556.7,281.8" fill="#b5e3f0"/><polygon points="557.1,304.9 560.0,245.0 566.0,120.0 580.0,73.0 597.1,15.5 604.8,10.2 600.0,70.0 596.0,120.0 594.0,250.0 593.1,310.0" fill="#e9bfe0"/><polygon points="593.1,310.0 594.0,250.0 596.0,120.0 600.0,60.0 604.0,0.1 629.6,-9.9 627.0,50.0 624.0,120.0 610.0,240.0 603.0,299.6" fill="#ae8cc2"/><polygon points="621.8,369.7 628.0,310.0 647.0,126.0 653.2,66.3 678.3,66.1 675.5,126.0 667.0,310.0 664.2,369.9" fill="#e9bfe0"/><polygon points="676.2,371.0 677.5,311.0 681.6,122.0 682.9,62.0 705.9,62.0 704.0,122.0 698.0,311.0 696.1,371.0" fill="#b5e3f0"/><polygon points="712.8,404.0 714.0,344.0 716.0,240.0 722.0,171.0 727.2,111.2 745.0,111.0 745.0,171.0 745.0,240.0 744.5,344.0 744.2,404.0" fill="#e9bfe0"/><polygon points="774.2,452.0 774.0,392.0 773.5,198.0 773.3,138.0 796.7,138.0 796.5,198.0 796.0,392.0 795.8,452.0" fill="#e9bfe0"/><polygon points="826.7,467.9 823.0,408.0 820.0,360.0 818.0,280.0 810.0,210.0 803.2,150.4 823.3,150.2 828.0,210.0 833.5,280.0 839.0,360.0 841.0,408.0 843.5,467.9" fill="#e9bfe0"/><polygon points="840.8,432.9 838.0,373.0 837.4,360.0 833.5,280.0 818.0,185.0 808.3,125.8 835.6,125.2 840.5,185.0 845.0,240.0 850.0,300.0 851.0,373.0 851.8,433.0" fill="#b5e3f0"/><polygon points="878.1,475.9 874.0,416.0 861.0,226.0 856.9,166.1 882.4,166.4 889.0,226.0 895.0,280.0 908.0,416.0 913.7,475.7" fill="#e9bfe0"/><polygon points="933.7,439.7 914.0,383.0 906.0,360.0 898.0,280.0 880.0,195.0 867.6,136.3 909.4,135.3 915.0,195.0 923.0,280.0 933.0,360.0 944.5,383.0 971.3,436.7" fill="#b5e3f0"/><polygon points="981.5,482.6 959.0,427.0 944.0,390.0 921.0,243.0 911.7,183.7 971.3,161.0 972.0,221.0 974.0,390.0 977.0,427.0 981.8,486.8" fill="#e9bfe0"/><polygon points="1050.0,499.7 1044.0,440.0 1040.0,400.0 1022.0,320.0 1004.0,245.0 990.0,186.7 1013.7,174.3 1030.0,232.0 1052.0,310.0 1075.0,380.0 1080.0,440.0 1085.0,499.8" fill="#e9bfe0"/><polygon points="1093.7,437.0 1075.0,380.0 1052.0,310.0 1030.0,232.0 1013.7,174.3 1073.9,175.7 1088.0,234.0 1104.0,300.0 1121.0,370.0 1125.0,395.0 1134.5,454.2" fill="#ae8cc2"/><polygon points="1159.9,504.5 1152.0,445.0 1148.0,415.0 1131.0,369.0 1117.0,318.0 1107.0,257.0 1097.3,197.8 1103.8,200.9 1125.0,257.0 1148.0,318.0 1170.0,380.0 1178.0,415.0 1182.0,445.0 1189.9,504.5" fill="#e9bfe0"/><polygon points="1200.8,452.3 1180.0,396.0 1170.0,369.0 1127.0,240.0 1108.0,183.1 1132.7,182.0 1148.0,240.0 1189.0,396.0 1204.3,454.0" fill="#b5e3f0"/><polygon points="1244.3,527.4 1236.0,468.0 1228.0,411.0 1216.0,345.0 1184.0,266.0 1161.5,210.4 1330.0,206.0 1330.0,266.0 1330.0,468.0 1330.0,528.0" fill="#e9bfe0"/><polygon points="1248.2,465.0 1222.0,411.0 1190.0,345.0 1162.0,262.0 1142.8,205.1 1161.5,210.4 1184.0,266.0 1216.0,345.0 1240.0,411.0 1260.5,467.4" fill="#ae8cc2"/></g><use href="#p7" class="s"/><use href="#p6" fill="#fff"/><g clip-path="url(#c6)"><polygon points="81.3,352.4 90.0,293.0 100.0,225.0 110.0,160.0 124.0,119.0 131.0,100.0 151.7,43.7 230.8,62.4 206.0,117.0 126.0,293.0 101.2,347.6" fill="#e9bfe0"/><polygon points="181.2,343.7 195.7,285.5 212.0,220.0 221.0,199.0 232.0,169.0 246.0,152.0 258.0,150.0 274.0,113.0 297.8,57.9 315.5,53.4 293.0,109.0 248.0,220.0 224.5,274.5 200.7,329.6" fill="#e9bfe0"/><polygon points="338.2,282.7 354.6,225.0 400.8,62.0 417.2,4.3 427.8,1.3 422.0,61.0 416.3,119.5 384.0,220.0 365.6,277.1" fill="#ae8cc2"/><polygon points="394.7,275.5 402.6,216.0 414.0,130.0 431.0,20.0 437.0,0.0 454.2,-57.5 482.6,-2.4 469.0,56.0 433.0,211.0 419.4,269.4" fill="#e9bfe0"/><polygon points="529.0,279.7 535.0,220.0 545.0,120.0 558.0,33.0 563.0,0.0 572.0,-59.3 611.6,-26.7 592.0,30.0 583.0,56.0 571.0,120.0 562.0,222.0 556.7,281.8" fill="#b5e3f0"/><polygon points="557.1,304.9 560.0,245.0 566.0,120.0 580.0,73.0 597.1,15.5 604.8,10.2 600.0,70.0 596.0,120.0 594.0,250.0 593.1,310.0" fill="#e9bfe0"/><polygon points="593.1,310.0 594.0,250.0 596.0,120.0 600.0,60.0 604.0,0.1 629.6,-9.9 627.0,50.0 624.0,120.0 610.0,240.0 603.0,299.6" fill="#ae8cc2"/><polygon points="621.8,369.7 628.0,310.0 647.0,126.0 653.2,66.3 678.3,66.1 675.5,126.0 667.0,310.0 664.2,369.9" fill="#e9bfe0"/><polygon points="676.2,371.0 677.5,311.0 681.6,122.0 682.9,62.0 705.9,62.0 704.0,122.0 698.0,311.0 696.1,371.0" fill="#b5e3f0"/><polygon points="712.8,404.0 714.0,344.0 716.0,240.0 722.0,171.0 727.2,111.2 745.0,111.0 745.0,171.0 745.0,240.0 744.5,344.0 744.2,404.0" fill="#e9bfe0"/><polygon points="774.2,452.0 774.0,392.0 773.5,198.0 773.3,138.0 796.7,138.0 796.5,198.0 796.0,392.0 795.8,452.0" fill="#e9bfe0"/><polygon points="826.7,467.9 823.0,408.0 820.0,360.0 818.0,280.0 810.0,210.0 803.2,150.4 823.3,150.2 828.0,210.0 833.5,280.0 839.0,360.0 841.0,408.0 843.5,467.9" fill="#e9bfe0"/><polygon points="840.8,432.9 838.0,373.0 837.4,360.0 833.5,280.0 818.0,185.0 808.3,125.8 835.6,125.2 840.5,185.0 845.0,240.0 850.0,300.0 851.0,373.0 851.8,433.0" fill="#b5e3f0"/><polygon points="878.1,475.9 874.0,416.0 861.0,226.0 856.9,166.1 882.4,166.4 889.0,226.0 895.0,280.0 908.0,416.0 913.7,475.7" fill="#e9bfe0"/><polygon points="933.7,439.7 914.0,383.0 906.0,360.0 898.0,280.0 880.0,195.0 867.6,136.3 909.4,135.3 915.0,195.0 923.0,280.0 933.0,360.0 944.5,383.0 971.3,436.7" fill="#b5e3f0"/><polygon points="981.5,482.6 959.0,427.0 944.0,390.0 921.0,243.0 911.7,183.7 971.3,161.0 972.0,221.0 974.0,390.0 977.0,427.0 981.8,486.8" fill="#e9bfe0"/><polygon points="1050.0,499.7 1044.0,440.0 1040.0,400.0 1022.0,320.0 1004.0,245.0 990.0,186.7 1013.7,174.3 1030.0,232.0 1052.0,310.0 1075.0,380.0 1080.0,440.0 1085.0,499.8" fill="#e9bfe0"/><polygon points="1046.3,504.8 1041.0,445.0 1036.0,389.0 1022.0,320.0 1010.1,261.2 1111.5,310.8 1121.0,370.0 1125.0,395.0 1132.0,445.0 1140.3,504.4" fill="#e9bfe0"/><polygon points="1159.9,504.5 1152.0,445.0 1148.0,415.0 1131.0,369.0 1117.0,318.0 1107.0,257.0 1097.3,197.8 1103.8,200.9 1125.0,257.0 1148.0,318.0 1170.0,380.0 1178.0,415.0 1182.0,445.0 1189.9,504.5" fill="#e9bfe0"/><polygon points="1244.3,527.4 1236.0,468.0 1228.0,411.0 1216.0,345.0 1184.0,266.0 1161.5,210.4 1330.0,206.0 1330.0,266.0 1330.0,468.0 1330.0,528.0" fill="#e9bfe0"/><polygon points="1248.2,465.0 1222.0,411.0 1190.0,345.0 1162.0,262.0 1142.8,205.1 1161.5,210.4 1184.0,266.0 1216.0,345.0 1240.0,411.0 1260.5,467.4" fill="#ae8cc2"/></g><use href="#p6" class="s"/><use href="#p5" fill="#fff"/><g clip-path="url(#c5)"><polygon points="81.3,352.4 90.0,293.0 100.0,225.0 110.0,160.0 124.0,119.0 131.0,100.0 151.7,43.7 230.8,62.4 206.0,117.0 126.0,293.0 101.2,347.6" fill="#e9bfe0"/><polygon points="181.2,343.7 195.7,285.5 212.0,220.0 221.0,199.0 232.0,169.0 246.0,152.0 258.0,150.0 274.0,113.0 297.8,57.9 315.5,53.4 293.0,109.0 248.0,220.0 224.5,274.5 200.7,329.6" fill="#e9bfe0"/><polygon points="338.2,282.7 354.6,225.0 400.8,62.0 417.2,4.3 427.8,1.3 422.0,61.0 416.3,119.5 384.0,220.0 365.6,277.1" fill="#ae8cc2"/><polygon points="394.7,275.5 402.6,216.0 414.0,130.0 431.0,20.0 437.0,0.0 454.2,-57.5 482.6,-2.4 469.0,56.0 433.0,211.0 419.4,269.4" fill="#e9bfe0"/><polygon points="529.0,279.7 535.0,220.0 545.0,120.0 558.0,33.0 563.0,0.0 572.0,-59.3 611.6,-26.7 592.0,30.0 583.0,56.0 571.0,120.0 562.0,222.0 556.7,281.8" fill="#b5e3f0"/><polygon points="557.1,304.9 560.0,245.0 566.0,120.0 580.0,73.0 597.1,15.5 604.8,10.2 600.0,70.0 596.0,120.0 594.0,250.0 593.1,310.0" fill="#e9bfe0"/><polygon points="593.1,310.0 594.0,250.0 596.0,120.0 600.0,60.0 604.0,0.1 629.6,-9.9 627.0,50.0 624.0,120.0 610.0,240.0 603.0,299.6" fill="#ae8cc2"/><polygon points="621.8,369.7 628.0,310.0 647.0,126.0 653.2,66.3 678.3,66.1 675.5,126.0 667.0,310.0 664.2,369.9" fill="#e9bfe0"/><polygon points="676.2,371.0 677.5,311.0 681.6,122.0 682.9,62.0 705.9,62.0 704.0,122.0 698.0,311.0 696.1,371.0" fill="#b5e3f0"/><polygon points="712.8,404.0 714.0,344.0 716.0,240.0 722.0,171.0 727.2,111.2 745.0,111.0 745.0,171.0 745.0,240.0 744.5,344.0 744.2,404.0" fill="#e9bfe0"/><polygon points="774.2,452.0 774.0,392.0 773.5,198.0 773.3,138.0 796.7,138.0 796.5,198.0 796.0,392.0 795.8,452.0" fill="#e9bfe0"/><polygon points="826.7,467.9 823.0,408.0 820.0,360.0 818.0,280.0 810.0,210.0 803.2,150.4 823.3,150.2 828.0,210.0 833.5,280.0 839.0,360.0 841.0,408.0 843.5,467.9" fill="#e9bfe0"/><polygon points="878.1,475.9 874.0,416.0 861.0,226.0 856.9,166.1 882.4,166.4 889.0,226.0 895.0,280.0 908.0,416.0 913.7,475.7" fill="#e9bfe0"/><polygon points="933.7,439.7 914.0,383.0 906.0,360.0 898.0,280.0 880.0,195.0 867.6,136.3 909.4,135.3 915.0,195.0 923.0,280.0 933.0,360.0 944.5,383.0 971.3,436.7" fill="#b5e3f0"/><polygon points="981.5,482.6 959.0,427.0 944.0,390.0 921.0,243.0 911.7,183.7 971.3,161.0 972.0,221.0 974.0,390.0 977.0,427.0 981.8,486.8" fill="#e9bfe0"/><polygon points="1050.0,499.7 1044.0,440.0 1040.0,400.0 1022.0,320.0 1004.0,245.0 990.0,186.7 1013.7,174.3 1030.0,232.0 1052.0,310.0 1075.0,380.0 1080.0,440.0 1085.0,499.8" fill="#e9bfe0"/><polygon points="1046.3,504.8 1041.0,445.0 1036.0,389.0 1022.0,320.0 1010.1,261.2 1111.5,310.8 1121.0,370.0 1125.0,395.0 1132.0,445.0 1140.3,504.4" fill="#e9bfe0"/><polygon points="1159.9,504.5 1152.0,445.0 1148.0,415.0 1131.0,369.0 1117.0,318.0 1107.0,257.0 1097.3,197.8 1103.8,200.9 1125.0,257.0 1148.0,318.0 1170.0,380.0 1178.0,415.0 1182.0,445.0 1189.9,504.5" fill="#e9bfe0"/><polygon points="1244.3,527.4 1236.0,468.0 1228.0,411.0 1216.0,345.0 1184.0,266.0 1161.5,210.4 1330.0,206.0 1330.0,266.0 1330.0,468.0 1330.0,528.0" fill="#e9bfe0"/></g><use href="#p5" class="s"/><use href="#p4" fill="#fff"/><g clip-path="url(#c4)"><polygon points="81.3,352.4 90.0,293.0 100.0,225.0 110.0,160.0 124.0,119.0 131.0,100.0 151.7,43.7 230.8,62.4 206.0,117.0 126.0,293.0 101.2,347.6" fill="#e9bfe0"/><polygon points="181.2,343.7 195.7,285.5 212.0,220.0 221.0,199.0 232.0,169.0 246.0,152.0 258.0,150.0 274.0,113.0 297.8,57.9 315.5,53.4 293.0,109.0 248.0,220.0 224.5,274.5 200.7,329.6" fill="#e9bfe0"/><polygon points="338.2,282.7 354.6,225.0 400.8,62.0 417.2,4.3 427.8,1.3 422.0,61.0 416.3,119.5 384.0,220.0 365.6,277.1" fill="#ae8cc2"/><polygon points="394.7,275.5 402.6,216.0 414.0,130.0 431.0,20.0 437.0,0.0 454.2,-57.5 482.6,-2.4 469.0,56.0 433.0,211.0 419.4,269.4" fill="#e9bfe0"/><polygon points="529.0,279.7 535.0,220.0 545.0,120.0 558.0,33.0 563.0,0.0 572.0,-59.3 611.6,-26.7 592.0,30.0 583.0,56.0 571.0,120.0 562.0,222.0 556.7,281.8" fill="#b5e3f0"/><polygon points="557.1,304.9 560.0,245.0 566.0,120.0 580.0,73.0 597.1,15.5 604.8,10.2 600.0,70.0 596.0,120.0 594.0,250.0 593.1,310.0" fill="#e9bfe0"/><polygon points="593.1,310.0 594.0,250.0 596.0,120.0 600.0,60.0 604.0,0.1 629.6,-9.9 627.0,50.0 624.0,120.0 610.0,240.0 603.0,299.6" fill="#ae8cc2"/><polygon points="621.8,369.7 628.0,310.0 647.0,126.0 653.2,66.3 678.3,66.1 675.5,126.0 667.0,310.0 664.2,369.9" fill="#e9bfe0"/><polygon points="676.2,371.0 677.5,311.0 681.6,122.0 682.9,62.0 705.9,62.0 704.0,122.0 698.0,311.0 696.1,371.0" fill="#b5e3f0"/><polygon points="712.8,404.0 714.0,344.0 716.0,240.0 722.0,171.0 727.2,111.2 745.0,111.0 745.0,171.0 745.0,240.0 744.5,344.0 744.2,404.0" fill="#e9bfe0"/><polygon points="774.2,452.0 774.0,392.0 773.5,198.0 773.3,138.0 796.7,138.0 796.5,198.0 796.0,392.0 795.8,452.0" fill="#e9bfe0"/><polygon points="826.7,467.9 823.0,408.0 820.0,360.0 818.0,280.0 810.0,210.0 803.2,150.4 823.3,150.2 828.0,210.0 833.5,280.0 839.0,360.0 841.0,408.0 843.5,467.9" fill="#e9bfe0"/><polygon points="878.1,475.9 874.0,416.0 861.0,226.0 856.9,166.1 882.4,166.4 889.0,226.0 895.0,280.0 908.0,416.0 913.7,475.7" fill="#e9bfe0"/><polygon points="981.5,482.6 959.0,427.0 944.0,390.0 921.0,243.0 911.7,183.7 971.3,161.0 972.0,221.0 974.0,390.0 977.0,427.0 981.8,486.8" fill="#e9bfe0"/><polygon points="1050.0,499.7 1044.0,440.0 1040.0,400.0 1022.0,320.0 1004.0,245.0 990.0,186.7 1013.7,174.3 1030.0,232.0 1052.0,310.0 1075.0,380.0 1080.0,440.0 1085.0,499.8" fill="#e9bfe0"/><polygon points="1046.3,504.8 1041.0,445.0 1036.0,389.0 1022.0,320.0 1010.1,261.2 1111.5,310.8 1121.0,370.0 1125.0,395.0 1132.0,445.0 1140.3,504.4" fill="#e9bfe0"/><polygon points="1159.9,504.5 1152.0,445.0 1148.0,415.0 1131.0,369.0 1117.0,318.0 1107.0,257.0 1097.3,197.8 1103.8,200.9 1125.0,257.0 1148.0,318.0 1170.0,380.0 1178.0,415.0 1182.0,445.0 1189.9,504.5" fill="#e9bfe0"/><polygon points="1244.3,527.4 1236.0,468.0 1228.0,411.0 1216.0,345.0 1184.0,266.0 1161.5,210.4 1330.0,206.0 1330.0,266.0 1330.0,468.0 1330.0,528.0" fill="#e9bfe0"/></g><use href="#p4" class="s"/><use href="#p3" fill="#fff"/><g clip-path="url(#c3)"><polygon points="81.3,352.4 90.0,293.0 100.0,225.0 110.0,160.0 124.0,119.0 131.0,100.0 151.7,43.7 230.8,62.4 206.0,117.0 126.0,293.0 101.2,347.6" fill="#e9bfe0"/><polygon points="181.2,343.7 195.7,285.5 212.0,220.0 221.0,199.0 232.0,169.0 246.0,152.0 258.0,150.0 274.0,113.0 297.8,57.9 315.5,53.4 293.0,109.0 248.0,220.0 224.5,274.5 200.7,329.6" fill="#e9bfe0"/><polygon points="338.2,282.7 354.6,225.0 400.8,62.0 417.2,4.3 427.8,1.3 422.0,61.0 416.3,119.5 384.0,220.0 365.6,277.1" fill="#ae8cc2"/><polygon points="394.7,275.5 402.6,216.0 414.0,130.0 431.0,20.0 437.0,0.0 454.2,-57.5 482.6,-2.4 469.0,56.0 433.0,211.0 419.4,269.4" fill="#e9bfe0"/><polygon points="529.0,279.7 535.0,220.0 545.0,120.0 558.0,33.0 563.0,0.0 572.0,-59.3 611.6,-26.7 592.0,30.0 583.0,56.0 571.0,120.0 562.0,222.0 556.7,281.8" fill="#b5e3f0"/><polygon points="557.1,304.9 560.0,245.0 566.0,120.0 580.0,73.0 597.1,15.5 604.8,10.2 600.0,70.0 596.0,120.0 594.0,250.0 593.1,310.0" fill="#e9bfe0"/><polygon points="593.1,310.0 594.0,250.0 596.0,120.0 600.0,60.0 604.0,0.1 629.6,-9.9 627.0,50.0 624.0,120.0 610.0,240.0 603.0,299.6" fill="#ae8cc2"/><polygon points="621.8,369.7 628.0,310.0 647.0,126.0 653.2,66.3 678.3,66.1 675.5,126.0 667.0,310.0 664.2,369.9" fill="#e9bfe0"/><polygon points="676.2,371.0 677.5,311.0 681.6,122.0 682.9,62.0 705.9,62.0 704.0,122.0 698.0,311.0 696.1,371.0" fill="#b5e3f0"/><polygon points="712.8,404.0 714.0,344.0 716.0,240.0 722.0,171.0 727.2,111.2 745.0,111.0 745.0,171.0 745.0,240.0 744.5,344.0 744.2,404.0" fill="#e9bfe0"/><polygon points="774.2,452.0 774.0,392.0 773.5,198.0 773.3,138.0 796.7,138.0 796.5,198.0 796.0,392.0 795.8,452.0" fill="#e9bfe0"/><polygon points="826.7,467.9 823.0,408.0 820.0,360.0 818.0,280.0 810.0,210.0 803.2,150.4 823.3,150.2 828.0,210.0 833.5,280.0 839.0,360.0 841.0,408.0 843.5,467.9" fill="#e9bfe0"/><polygon points="878.1,475.9 874.0,416.0 861.0,226.0 856.9,166.1 882.4,166.4 889.0,226.0 895.0,280.0 908.0,416.0 913.7,475.7" fill="#e9bfe0"/><polygon points="981.5,482.6 959.0,427.0 944.0,390.0 921.0,243.0 911.7,183.7 971.3,161.0 972.0,221.0 974.0,390.0 977.0,427.0 981.8,486.8" fill="#e9bfe0"/><polygon points="1050.0,499.7 1044.0,440.0 1040.0,400.0 1022.0,320.0 1004.0,245.0 990.0,186.7 1013.7,174.3 1030.0,232.0 1052.0,310.0 1075.0,380.0 1080.0,440.0 1085.0,499.8" fill="#e9bfe0"/><polygon points="1046.3,504.8 1041.0,445.0 1036.0,389.0 1022.0,320.0 1010.1,261.2 1111.5,310.8 1121.0,370.0 1125.0,395.0 1132.0,445.0 1140.3,504.4" fill="#e9bfe0"/><polygon points="1159.9,504.5 1152.0,445.0 1148.0,415.0 1131.0,369.0 1117.0,318.0 1107.0,257.0 1097.3,197.8 1103.8,200.9 1125.0,257.0 1148.0,318.0 1170.0,380.0 1178.0,415.0 1182.0,445.0 1189.9,504.5" fill="#e9bfe0"/><polygon points="1244.3,527.4 1236.0,468.0 1228.0,411.0 1216.0,345.0 1184.0,266.0 1161.5,210.4 1330.0,206.0 1330.0,266.0 1330.0,468.0 1330.0,528.0" fill="#e9bfe0"/></g><use href="#p3" class="s"/><use href="#p2" fill="#fff"/><g clip-path="url(#c2)"><polygon points="81.3,352.4 90.0,293.0 100.0,225.0 110.0,160.0 124.0,119.0 131.0,100.0 151.7,43.7 230.8,62.4 206.0,117.0 126.0,293.0 101.2,347.6" fill="#e9bfe0"/><polygon points="181.2,343.7 195.7,285.5 212.0,220.0 221.0,199.0 232.0,169.0 246.0,152.0 258.0,150.0 274.0,113.0 297.8,57.9 315.5,53.4 293.0,109.0 248.0,220.0 224.5,274.5 200.7,329.6" fill="#e9bfe0"/><polygon points="338.2,282.7 354.6,225.0 400.8,62.0 417.2,4.3 435.9,2.6 422.0,61.0 384.0,220.0 370.1,278.4" fill="#e9bfe0"/><polygon points="394.7,275.5 402.6,216.0 414.0,130.0 431.0,20.0 437.0,0.0 454.2,-57.5 482.6,-2.4 469.0,56.0 433.0,211.0 419.4,269.4" fill="#e9bfe0"/><polygon points="529.0,279.7 535.0,220.0 545.0,120.0 558.0,33.0 563.0,0.0 572.0,-59.3 611.6,-26.7 592.0,30.0 583.0,56.0 571.0,120.0 562.0,222.0 556.7,281.8" fill="#b5e3f0"/><polygon points="557.1,304.9 560.0,245.0 566.0,120.0 580.0,73.0 597.1,15.5 604.8,10.2 600.0,70.0 596.0,120.0 594.0,250.0 593.1,310.0" fill="#e9bfe0"/><polygon points="593.1,310.0 594.0,250.0 596.0,120.0 600.0,60.0 604.0,0.1 629.6,-9.9 627.0,50.0 624.0,120.0 610.0,240.0 603.0,299.6" fill="#ae8cc2"/><polygon points="621.8,369.7 628.0,310.0 647.0,126.0 653.2,66.3 678.3,66.1 675.5,126.0 667.0,310.0 664.2,369.9" fill="#e9bfe0"/><polygon points="712.8,404.0 714.0,344.0 716.0,240.0 722.0,171.0 727.2,111.2 745.0,111.0 745.0,171.0 745.0,240.0 744.5,344.0 744.2,404.0" fill="#e9bfe0"/><polygon points="774.2,452.0 774.0,392.0 773.5,198.0 773.3,138.0 796.7,138.0 796.5,198.0 796.0,392.0 795.8,452.0" fill="#e9bfe0"/><polygon points="826.7,467.9 823.0,408.0 820.0,360.0 818.0,280.0 810.0,210.0 803.2,150.4 823.3,150.2 828.0,210.0 833.5,280.0 839.0,360.0 841.0,408.0 843.5,467.9" fill="#e9bfe0"/><polygon points="878.1,475.9 874.0,416.0 861.0,226.0 856.9,166.1 882.4,166.4 889.0,226.0 895.0,280.0 908.0,416.0 913.7,475.7" fill="#e9bfe0"/><polygon points="981.5,482.6 959.0,427.0 944.0,390.0 921.0,243.0 911.7,183.7 971.3,161.0 972.0,221.0 974.0,390.0 977.0,427.0 981.8,486.8" fill="#e9bfe0"/><polygon points="1050.0,499.7 1044.0,440.0 1040.0,400.0 1022.0,320.0 1004.0,245.0 990.0,186.7 1013.7,174.3 1030.0,232.0 1052.0,310.0 1075.0,380.0 1080.0,440.0 1085.0,499.8" fill="#e9bfe0"/><polygon points="1046.3,504.8 1041.0,445.0 1036.0,389.0 1022.0,320.0 1010.1,261.2 1111.5,310.8 1121.0,370.0 1125.0,395.0 1132.0,445.0 1140.3,504.4" fill="#e9bfe0"/><polygon points="1159.9,504.5 1152.0,445.0 1148.0,415.0 1131.0,369.0 1117.0,318.0 1107.0,257.0 1097.3,197.8 1103.8,200.9 1125.0,257.0 1148.0,318.0 1170.0,380.0 1178.0,415.0 1182.0,445.0 1189.9,504.5" fill="#e9bfe0"/><polygon points="1244.3,527.4 1236.0,468.0 1228.0,411.0 1216.0,345.0 1184.0,266.0 1161.5,210.4 1330.0,206.0 1330.0,266.0 1330.0,468.0 1330.0,528.0" fill="#e9bfe0"/></g><use href="#p2" class="s"/><use href="#p1" fill="#fff"/><g clip-path="url(#c1)"><polygon points="81.3,352.4 90.0,293.0 100.0,225.0 110.0,160.0 124.0,119.0 131.0,100.0 151.7,43.7 230.8,62.4 206.0,117.0 126.0,293.0 101.2,347.6" fill="#e9bfe0"/><polygon points="181.2,343.7 195.7,285.5 212.0,220.0 221.0,199.0 232.0,169.0 246.0,152.0 258.0,150.0 274.0,113.0 297.8,57.9 315.5,53.4 293.0,109.0 248.0,220.0 224.5,274.5 200.7,329.6" fill="#e9bfe0"/><polygon points="338.2,282.7 354.6,225.0 400.8,62.0 417.2,4.3 435.9,2.6 422.0,61.0 384.0,220.0 370.1,278.4" fill="#e9bfe0"/><polygon points="394.7,275.5 402.6,216.0 414.0,130.0 431.0,20.0 437.0,0.0 454.2,-57.5 482.6,-2.4 469.0,56.0 433.0,211.0 419.4,269.4" fill="#e9bfe0"/><polygon points="557.1,304.9 560.0,245.0 566.0,120.0 580.0,73.0 597.1,15.5 604.8,10.2 600.0,70.0 596.0,120.0 594.0,250.0 593.1,310.0" fill="#e9bfe0"/><polygon points="593.1,310.0 594.0,250.0 596.0,120.0 600.0,60.0 604.0,0.1 629.6,-9.9 627.0,50.0 624.0,120.0 610.0,240.0 603.0,299.6" fill="#ae8cc2"/><polygon points="621.8,369.7 628.0,310.0 647.0,126.0 653.2,66.3 678.3,66.1 675.5,126.0 667.0,310.0 664.2,369.9" fill="#e9bfe0"/><polygon points="712.8,404.0 714.0,344.0 716.0,240.0 722.0,171.0 727.2,111.2 745.0,111.0 745.0,171.0 745.0,240.0 744.5,344.0 744.2,404.0" fill="#e9bfe0"/><polygon points="774.2,452.0 774.0,392.0 773.5,198.0 773.3,138.0 796.7,138.0 796.5,198.0 796.0,392.0 795.8,452.0" fill="#e9bfe0"/><polygon points="826.7,467.9 823.0,408.0 820.0,360.0 818.0,280.0 810.0,210.0 803.2,150.4 823.3,150.2 828.0,210.0 833.5,280.0 839.0,360.0 841.0,408.0 843.5,467.9" fill="#e9bfe0"/><polygon points="878.1,475.9 874.0,416.0 861.0,226.0 856.9,166.1 882.4,166.4 889.0,226.0 895.0,280.0 908.0,416.0 913.7,475.7" fill="#e9bfe0"/><polygon points="981.5,482.6 959.0,427.0 944.0,390.0 921.0,243.0 911.7,183.7 971.3,161.0 972.0,221.0 974.0,390.0 977.0,427.0 981.8,486.8" fill="#e9bfe0"/><polygon points="1050.0,499.7 1044.0,440.0 1040.0,400.0 1022.0,320.0 1004.0,245.0 990.0,186.7 1013.7,174.3 1030.0,232.0 1052.0,310.0 1075.0,380.0 1080.0,440.0 1085.0,499.8" fill="#e9bfe0"/><polygon points="1046.3,504.8 1041.0,445.0 1036.0,389.0 1022.0,320.0 1010.1,261.2 1111.5,310.8 1121.0,370.0 1125.0,395.0 1132.0,445.0 1140.3,504.4" fill="#e9bfe0"/><polygon points="1159.9,504.5 1152.0,445.0 1148.0,415.0 1131.0,369.0 1117.0,318.0 1107.0,257.0 1097.3,197.8 1103.8,200.9 1125.0,257.0 1148.0,318.0 1170.0,380.0 1178.0,415.0 1182.0,445.0 1189.9,504.5" fill="#e9bfe0"/><polygon points="1244.3,527.4 1236.0,468.0 1228.0,411.0 1216.0,345.0 1184.0,266.0 1161.5,210.4 1330.0,206.0 1330.0,266.0 1330.0,468.0 1330.0,528.0" fill="#e9bfe0"/></g><use href="#p1" class="s"/><use href="#p0" fill="#fff"/><use href="#p0" class="s"/>
<polygon points="586,240 589,200 592,150 595,110 598,75 600,55 602,42 605,45 607,60 608,90 607,130 604,180 600,230 597,245" fill="#e9bfe0" fill-opacity="0.25"/><polygon points="405,212 410,180 414,130 418,100 422,70 427,45 432,25 437,8 441,2 444,4 447,20 449,45 450,80 449,120 446,160 441,195 437,209" fill="#e9bfe0" fill-opacity="0.5"/>
<line x1="5" y1="312" x2="5" y2="374" stroke="#000" stroke-width="1"/>
<line x1="4.0" y1="374.0" x2="1303.0" y2="485.0" stroke="#000" stroke-width="2.2"/><line x1="6.9" y1="374.2" x2="6.9" y2="383.2" stroke="#000" stroke-width="1.8"/><line x1="45.0" y1="377.4" x2="45.0" y2="386.4" stroke="#000" stroke-width="1.8"/><line x1="83.6" y1="380.7" x2="83.6" y2="389.7" stroke="#000" stroke-width="1.8"/><line x1="122.0" y1="384.0" x2="122.0" y2="393.0" stroke="#000" stroke-width="1.8"/><line x1="160.3" y1="387.3" x2="160.3" y2="396.3" stroke="#000" stroke-width="1.8"/><line x1="198.9" y1="390.6" x2="198.9" y2="399.6" stroke="#000" stroke-width="1.8"/><line x1="237.0" y1="393.8" x2="237.0" y2="402.8" stroke="#000" stroke-width="1.8"/><line x1="275.6" y1="397.1" x2="275.6" y2="406.1" stroke="#000" stroke-width="1.8"/><line x1="314.0" y1="400.4" x2="314.0" y2="409.4" stroke="#000" stroke-width="1.8"/><line x1="353.0" y1="403.8" x2="353.0" y2="412.8" stroke="#000" stroke-width="1.8"/><line x1="391.0" y1="407.0" x2="391.0" y2="416.0" stroke="#000" stroke-width="1.8"/><line x1="429.0" y1="410.3" x2="429.0" y2="419.3" stroke="#000" stroke-width="1.8"/><line x1="467.5" y1="413.6" x2="467.5" y2="422.6" stroke="#000" stroke-width="1.8"/><line x1="506.0" y1="416.8" x2="506.0" y2="425.8" stroke="#000" stroke-width="1.8"/><line x1="544.0" y1="420.1" x2="544.0" y2="429.1" stroke="#000" stroke-width="1.8"/><line x1="582.5" y1="423.4" x2="582.5" y2="432.4" stroke="#000" stroke-width="1.8"/><line x1="620.0" y1="426.6" x2="620.0" y2="435.6" stroke="#000" stroke-width="1.8"/><line x1="659.0" y1="429.9" x2="659.0" y2="438.9" stroke="#000" stroke-width="1.8"/><line x1="696.5" y1="433.1" x2="696.5" y2="442.1" stroke="#000" stroke-width="1.8"/><line x1="734.0" y1="436.3" x2="734.0" y2="445.3" stroke="#000" stroke-width="1.8"/><line x1="772.5" y1="439.6" x2="772.5" y2="448.6" stroke="#000" stroke-width="1.8"/><line x1="810.0" y1="442.8" x2="810.0" y2="451.8" stroke="#000" stroke-width="1.8"/><line x1="848.5" y1="446.1" x2="848.5" y2="455.1" stroke="#000" stroke-width="1.8"/><line x1="886.5" y1="449.4" x2="886.5" y2="458.4" stroke="#000" stroke-width="1.8"/><line x1="925.0" y1="452.7" x2="925.0" y2="461.7" stroke="#000" stroke-width="1.8"/><line x1="963.5" y1="456.0" x2="963.5" y2="465.0" stroke="#000" stroke-width="1.8"/><line x1="1001.5" y1="459.2" x2="1001.5" y2="468.2" stroke="#000" stroke-width="1.8"/><line x1="1040.0" y1="462.5" x2="1040.0" y2="471.5" stroke="#000" stroke-width="1.8"/><line x1="1077.5" y1="465.7" x2="1077.5" y2="474.7" stroke="#000" stroke-width="1.8"/><line x1="1115.0" y1="468.9" x2="1115.0" y2="477.9" stroke="#000" stroke-width="1.8"/><line x1="1152.5" y1="472.1" x2="1152.5" y2="481.1" stroke="#000" stroke-width="1.8"/><line x1="1191.0" y1="475.4" x2="1191.0" y2="484.4" stroke="#000" stroke-width="1.8"/><line x1="1229.0" y1="478.7" x2="1229.0" y2="487.7" stroke="#000" stroke-width="1.8"/><line x1="1266.5" y1="481.9" x2="1266.5" y2="490.9" stroke="#000" stroke-width="1.8"/>
<text x="1209.2" y="249.7" font-size="21">160</text><text x="1219.8" y="277" font-size="21">140</text><text x="1231.9" y="304.6" font-size="21">120</text><text x="1244.3" y="331.5" font-size="21">100</text><text x="1260.9" y="359.6" font-size="21">80</text><text x="1271.7" y="387" font-size="21" letter-spacing="3">60</text><text x="1284.1" y="414.7" font-size="21">35</text><text x="1296.3" y="442" font-size="21">20 minutes</text><text x="1313.2" y="469.3" font-size="21">2</text><text transform="translate(83.6,404.2) rotate(4.9) skewX(-2)" text-anchor="middle" y="7.3" font-size="20.5">5</text><text transform="translate(236,421.1) rotate(4.9) skewX(-2)" text-anchor="middle" y="7.3" font-size="20.5">10</text><text transform="translate(427.8,436.8) rotate(4.9) skewX(-2)" text-anchor="middle" y="7.3" font-size="20.5">15</text><text transform="translate(617.5,453.3) rotate(4.9) skewX(-2)" text-anchor="middle" y="7.3" font-size="20.5">20</text><text transform="translate(808.8,471.3) rotate(4.9) skewX(-2)" text-anchor="middle" y="7.3" font-size="20.5">25</text><text transform="translate(998.8,487) rotate(4.9) skewX(-2)" text-anchor="middle" y="7.3" font-size="20.5">30</text><text transform="translate(1188.8,501.3) rotate(4.9) skewX(-2)" text-anchor="middle" y="7.3" font-size="20.5">35</text><text transform="translate(546.5,487.5) rotate(4.6) skewX(-1)" font-size="28">Two-Theta (deg)</text>
</svg></body></html>
